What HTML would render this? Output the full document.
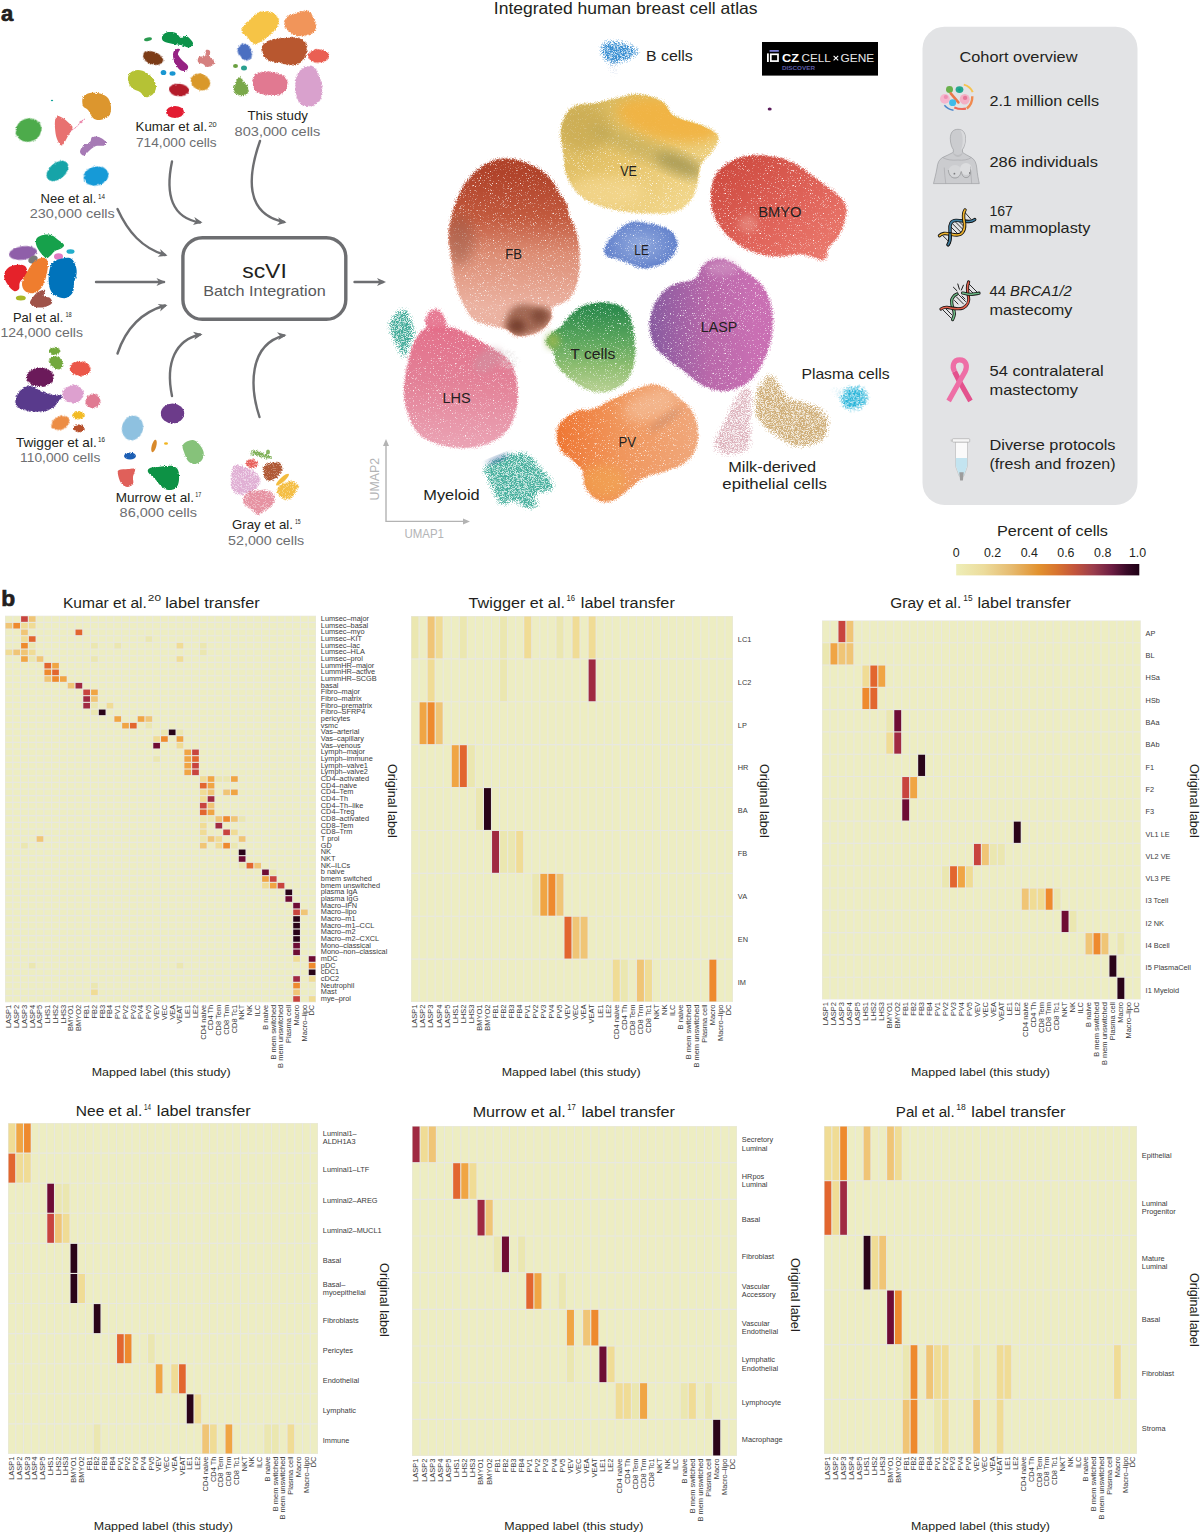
<!DOCTYPE html>
<html><head><meta charset="utf-8"><style>
html,body{margin:0;padding:0;background:#fff;width:1200px;height:1533px;overflow:hidden}
svg{display:block;font-family:"Liberation Sans",sans-serif}
.rl{fill:#3a3a3a}
.cl{fill:#3a3a3a;text-anchor:end}
.ht{font-size:15.2px;fill:#231f20}
.ol{font-size:12.5px;fill:#231f20}
.ml{font-size:11.4px;fill:#231f20}
</style></head>
<body><svg width="1200" height="1533" viewBox="0 0 1200 1533">
<defs>
<linearGradient id="gFB" x1="0" y1="0" x2="0" y2="1">
 <stop offset="0.1" stop-color="#b0432a"/><stop offset="0.35" stop-color="#c25a3e"/><stop offset="0.55" stop-color="#dc8d74"/><stop offset="0.85" stop-color="#ebb2a1"/></linearGradient>
<linearGradient id="gVE" x1="0" y1="0" x2="1" y2="1">
 <stop offset="0" stop-color="#d2b45a"/><stop offset="0.5" stop-color="#e6c46a"/><stop offset="1" stop-color="#f5dc96"/></linearGradient>
<linearGradient id="gBM" x1="0" y1="0" x2="1" y2="1">
 <stop offset="0.1" stop-color="#cd4a3f"/><stop offset="0.6" stop-color="#e0645a"/><stop offset="1" stop-color="#ec7d70"/></linearGradient>
<linearGradient id="gLA" x1="0" y1="0" x2="1" y2="0">
 <stop offset="0.05" stop-color="#8a5ba0"/><stop offset="0.5" stop-color="#b868aa"/><stop offset="0.9" stop-color="#c96fb3"/></linearGradient>
<linearGradient id="gTC" x1="0" y1="0" x2="0" y2="1">
 <stop offset="0.1" stop-color="#2c8a4c"/><stop offset="0.45" stop-color="#5aa55c"/><stop offset="0.75" stop-color="#8dbd70"/><stop offset="1" stop-color="#b4cf90"/></linearGradient>
<linearGradient id="gPV" x1="0" y1="0" x2="1" y2="0">
 <stop offset="0.05" stop-color="#ee7835"/><stop offset="0.45" stop-color="#f0955a"/><stop offset="1" stop-color="#efa77a"/></linearGradient>
<linearGradient id="gLH" x1="0" y1="0" x2="0" y2="1">
 <stop offset="0" stop-color="#e26f8a"/><stop offset="0.5" stop-color="#e38298"/><stop offset="1" stop-color="#eaa2b3"/></linearGradient>
<radialGradient id="gLE" cx="0.5" cy="0.5" r="0.6">
 <stop offset="0" stop-color="#8ea6dc"/><stop offset="1" stop-color="#5576c6"/></radialGradient>
<filter id="rough" x="-20%" y="-20%" width="140%" height="140%">
 <feTurbulence type="fractalNoise" baseFrequency="0.9" numOctaves="2" seed="3" result="n"/>
 <feDisplacementMap in="SourceGraphic" in2="n" scale="2.5" xChannelSelector="R" yChannelSelector="G"/>
</filter>
<filter id="roughB" x="-20%" y="-20%" width="140%" height="140%">
 <feTurbulence type="fractalNoise" baseFrequency="0.7" numOctaves="2" seed="5" result="n"/>
 <feDisplacementMap in="SourceGraphic" in2="n" scale="5" xChannelSelector="R" yChannelSelector="G" result="d"/>
 <feGaussianBlur in="d" stdDeviation="0.9"/>
</filter>
<filter id="spk" x="-15%" y="-15%" width="130%" height="130%" color-interpolation-filters="sRGB">
 <feMorphology in="SourceGraphic" operator="dilate" radius="3" result="dil"/>
 <feGaussianBlur in="SourceAlpha" stdDeviation="2.6" result="ba"/>
 <feTurbulence type="fractalNoise" baseFrequency="1.3" numOctaves="1" seed="4" result="n"/>
 <feColorMatrix in="n" type="matrix" values="0 0 0 0 0  0 0 0 0 0  0 0 0 0 0  3 0 0 0 -1" result="na"/>
 <feComposite in="ba" in2="na" operator="arithmetic" k2="2.6" k3="-0.9" k4="0" result="m"/>
 <feComposite in="dil" in2="m" operator="in" result="res"/>
 <feTurbulence type="fractalNoise" baseFrequency="1.6" numOctaves="1" seed="21" result="n2"/>
 <feColorMatrix in="n2" type="matrix" values="0 0 0 0 1  0 0 0 0 1  0 0 0 0 1  -5 0 0 0 1.95" result="wn"/>
 <feComposite in="wn" in2="res" operator="atop"/>
</filter>
<filter id="spk2" x="-15%" y="-15%" width="130%" height="130%" color-interpolation-filters="sRGB">
 <feMorphology in="SourceGraphic" operator="dilate" radius="2" result="dil"/>
 <feGaussianBlur in="SourceAlpha" stdDeviation="2" result="ba"/>
 <feTurbulence type="fractalNoise" baseFrequency="1.6" numOctaves="1" seed="7" result="n"/>
 <feColorMatrix in="n" type="matrix" values="0 0 0 0 0  0 0 0 0 0  0 0 0 0 0  3 0 0 0 -1" result="na"/>
 <feComposite in="ba" in2="na" operator="arithmetic" k2="1.8" k3="-1.0" k4="0" result="m"/>
 <feComposite in="dil" in2="m" operator="in"/>
</filter>
<filter id="spk3" x="-15%" y="-15%" width="130%" height="130%" color-interpolation-filters="sRGB">
 <feMorphology in="SourceGraphic" operator="dilate" radius="2" result="dil"/>
 <feGaussianBlur in="SourceAlpha" stdDeviation="2.5" result="ba"/>
 <feTurbulence type="fractalNoise" baseFrequency="1.8" numOctaves="1" seed="9" result="n"/>
 <feColorMatrix in="n" type="matrix" values="0 0 0 0 0  0 0 0 0 0  0 0 0 0 0  4 0 0 0 -1.5" result="na"/>
 <feComposite in="ba" in2="na" operator="arithmetic" k2="1.25" k3="-1.0" k4="0" result="m"/>
 <feComposite in="dil" in2="m" operator="in"/>
</filter>
<filter id="spkS" x="-20%" y="-20%" width="140%" height="140%" color-interpolation-filters="sRGB">
 <feMorphology in="SourceGraphic" operator="dilate" radius="1" result="dil"/>
 <feGaussianBlur in="SourceAlpha" stdDeviation="1.2" result="ba"/>
 <feTurbulence type="fractalNoise" baseFrequency="1.9" numOctaves="1" seed="11" result="n"/>
 <feColorMatrix in="n" type="matrix" values="0 0 0 0 0  0 0 0 0 0  0 0 0 0 0  4 0 0 0 -1.5" result="na"/>
 <feComposite in="ba" in2="na" operator="arithmetic" k2="2.4" k3="-1.0" k4="0" result="m"/>
 <feComposite in="dil" in2="m" operator="in"/>
</filter>
<filter id="spkG" x="-20%" y="-20%" width="140%" height="140%" color-interpolation-filters="sRGB">
 <feMorphology in="SourceGraphic" operator="dilate" radius="1" result="dil"/>
 <feGaussianBlur in="SourceAlpha" stdDeviation="1.2" result="ba"/>
 <feTurbulence type="fractalNoise" baseFrequency="1.9" numOctaves="1" seed="13" result="n"/>
 <feColorMatrix in="n" type="matrix" values="0 0 0 0 0  0 0 0 0 0  0 0 0 0 0  4 0 0 0 -1.5" result="na"/>
 <feComposite in="ba" in2="na" operator="arithmetic" k2="1.9" k3="-1.0" k4="0" result="m"/>
 <feComposite in="dil" in2="m" operator="in"/>
</filter>
<filter id="soft" x="-30%" y="-30%" width="160%" height="160%"><feGaussianBlur stdDeviation="6"/></filter>
<filter id="soft3" x="-30%" y="-30%" width="160%" height="160%"><feGaussianBlur stdDeviation="3"/></filter>
<linearGradient id="gCB" x1="0" y1="0" x2="1" y2="0">
 <stop offset="0" stop-color="#eeeeb8"/><stop offset="0.15" stop-color="#ecdc9c"/><stop offset="0.3" stop-color="#e6bb70"/><stop offset="0.45" stop-color="#e2922f"/><stop offset="0.55" stop-color="#d8742f"/><stop offset="0.65" stop-color="#c2543c"/><stop offset="0.75" stop-color="#9a3d4c"/><stop offset="0.85" stop-color="#6c1d42"/><stop offset="0.93" stop-color="#3a0a28"/><stop offset="1" stop-color="#1e0014"/></linearGradient>
<clipPath id="cVE"><path d="M572.5,108.0 C578.3,104.0 589.1,105.2 596.3,103.7 C603.5,102.2 608.9,100.8 615.8,99.3 C622.7,97.8 629.9,94.6 637.5,95.0 C645.1,95.4 655.2,97.9 661.3,101.5 C667.4,105.1 667.8,112.7 674.3,116.7 C680.8,120.7 693.1,122.0 700.3,125.3 C707.5,128.5 715.9,131.9 717.7,136.2 C719.5,140.5 714.1,146.6 711.2,151.3 C708.3,156.0 702.8,158.5 700.3,164.3 C697.8,170.1 698.2,179.5 696.0,186.0 C693.8,192.5 691.6,199.0 687.3,203.3 C683.0,207.6 678.3,210.6 670.0,212.0 C661.7,213.4 647.6,212.7 637.5,212.0 C627.4,211.3 618.3,210.2 609.3,207.7 C600.3,205.2 590.1,201.9 583.3,196.8 C576.4,191.7 571.5,184.9 568.2,177.3 C565.0,169.7 564.9,159.6 563.8,151.3 C562.7,143.0 560.2,134.7 561.7,127.5 C563.2,120.3 566.7,112.0 572.5,108.0Z"/></clipPath><clipPath id="cFB"><path d="M510.0,159.5 C516.5,160.2 525.2,162.9 531.7,166.0 C538.2,169.1 544.7,173.7 549.0,178.0 C553.3,182.3 554.8,187.5 557.7,192.0 C560.6,196.5 564.5,201.0 566.3,205.0 C568.1,209.0 567.0,211.5 568.5,215.8 C570.0,220.1 573.4,225.6 575.0,231.0 C576.6,236.4 577.8,241.8 578.3,248.3 C578.8,254.8 578.8,263.5 578.3,270.0 C577.8,276.5 577.0,282.2 575.0,287.3 C573.0,292.4 570.3,297.1 566.3,300.3 C562.3,303.6 553.7,303.9 551.2,306.8 C548.7,309.7 553.0,313.7 551.2,317.7 C549.4,321.7 545.7,327.6 540.3,330.7 C534.9,333.8 524.5,336.4 518.7,336.0 C512.9,335.6 510.0,330.3 505.7,328.5 C501.4,326.7 497.8,326.8 492.7,325.3 C487.6,323.9 480.0,323.2 475.3,319.8 C470.6,316.4 467.8,310.8 464.5,304.7 C461.2,298.6 457.8,290.2 455.8,283.0 C453.8,275.8 453.7,269.2 452.6,261.3 C451.5,253.4 449.1,243.6 449.3,235.3 C449.5,227.0 451.5,219.1 453.7,211.5 C455.9,203.9 458.7,196.3 462.3,189.8 C465.9,183.3 470.2,177.2 475.3,172.5 C480.4,167.8 486.9,163.9 492.7,161.7 C498.5,159.5 503.5,158.8 510.0,159.5Z"/></clipPath><clipPath id="cPV"><path d="M557.3,431.2 C557.8,426.5 560.5,423.6 563.8,420.3 C567.0,417.1 571.7,413.5 576.8,411.7 C581.9,409.9 588.4,411.3 594.2,409.5 C600.0,407.7 605.4,403.7 611.5,400.8 C617.6,397.9 624.9,394.7 631.0,392.2 C637.1,389.7 643.2,386.6 648.3,385.7 C653.3,384.8 656.2,384.6 661.3,386.8 C666.4,389.0 673.6,394.6 678.7,398.7 C683.8,402.8 688.6,406.3 691.7,411.7 C694.8,417.1 696.6,425.1 697.1,431.2 C697.6,437.3 697.0,443.4 695.0,448.5 C693.0,453.6 690.1,457.9 685.2,461.5 C680.3,465.1 672.6,467.7 665.7,470.2 C658.8,472.7 650.5,473.4 644.0,476.7 C637.5,479.9 632.1,485.7 626.7,489.7 C621.3,493.7 616.6,499.1 611.5,500.5 C606.4,501.9 600.6,500.9 596.3,498.4 C592.0,495.9 587.7,490.1 585.5,485.4 C583.3,480.7 585.5,474.5 583.3,470.2 C581.1,465.9 576.3,462.9 572.5,459.3 C568.7,455.7 563.1,453.2 560.6,448.5 C558.1,443.8 556.8,435.9 557.3,431.2Z"/></clipPath></defs>
<text x="1" y="20.7" font-size="22" font-weight="bold" fill="#231f20" stroke="#231f20" stroke-width="0.7">a</text>
<ellipse cx="28.5" cy="130.0" rx="13.0" ry="11.5" fill="#4dab4c" transform="rotate(-20.0 28.5 130.0)" filter="url(#rough)"/>
<path d="M56.0,117.0 C57.2,115.2 59.7,116.3 62.0,117.5 C64.3,118.7 68.2,122.2 70.0,124.0 C71.8,125.8 72.8,126.0 72.5,128.0 C72.2,130.0 69.8,133.1 68.0,136.0 C66.2,138.9 63.8,145.0 62.0,145.5 C60.2,146.0 58.2,141.9 57.0,139.0 C55.8,136.1 55.2,131.7 55.0,128.0 C54.8,124.3 54.8,118.8 56.0,117.0Z" fill="#e8716f" filter="url(#rough)"/>
<path d="M83.0,97.0 C84.2,94.8 87.2,93.6 90.0,93.0 C92.8,92.4 97.0,92.7 100.0,93.5 C103.0,94.3 106.2,95.8 108.0,98.0 C109.8,100.2 110.8,104.0 111.0,107.0 C111.2,110.0 110.8,113.8 109.0,116.0 C107.2,118.2 102.7,119.7 100.0,120.0 C97.3,120.3 95.0,119.7 93.0,118.0 C91.0,116.3 89.7,112.0 88.0,110.0 C86.3,108.0 83.8,108.2 83.0,106.0 C82.2,103.8 81.8,99.2 83.0,97.0Z" fill="#dc962e" filter="url(#rough)"/>
<path d="M92.0,137.0 C93.5,136.2 96.7,136.2 99.0,137.0 C101.3,137.8 105.2,140.6 106.0,142.0 C106.8,143.4 105.7,144.8 104.0,145.5 C102.3,146.2 98.3,145.2 96.0,146.0 C93.7,146.8 92.0,148.4 90.0,150.0 C88.0,151.6 85.7,155.2 84.0,155.5 C82.3,155.8 80.2,153.6 80.0,152.0 C79.8,150.4 81.3,147.7 83.0,146.0 C84.7,144.3 88.5,143.5 90.0,142.0 C91.5,140.5 90.5,137.8 92.0,137.0Z" fill="#a67ab5" filter="url(#rough)"/>
<ellipse cx="57.5" cy="171.0" rx="12.5" ry="8.0" fill="#12a4a8" transform="rotate(-40.0 57.5 171.0)" filter="url(#rough)"/>
<ellipse cx="96.0" cy="176.0" rx="12.5" ry="9.5" fill="#189ad7" transform="rotate(-12.0 96.0 176.0)" filter="url(#rough)"/>
<ellipse cx="52.0" cy="100.5" rx="1.2" ry="0.8" fill="#12a49a" />
<path d="M70,131 C74,129 77,127 79,124 C81,121 83,120 85,119" fill="none" stroke="#e8709a" stroke-width="1" stroke-dasharray="1.2 0.8"/>
<ellipse cx="81.0" cy="122.0" rx="1.6" ry="1.2" fill="#e878a0" fill-opacity="0.80" />
<path d="M163.0,35.0 C164.0,33.8 165.8,32.3 168.0,32.0 C170.2,31.7 173.8,32.0 176.0,33.0 C178.2,34.0 179.3,37.5 181.0,38.0 C182.7,38.5 184.3,35.7 186.0,36.0 C187.7,36.3 189.8,38.7 191.0,40.0 C192.2,41.3 193.3,42.8 193.0,44.0 C192.7,45.2 191.0,47.3 189.0,47.5 C187.0,47.7 183.7,45.6 181.0,45.0 C178.3,44.4 175.7,44.5 173.0,44.0 C170.3,43.5 166.8,42.8 165.0,42.0 C163.2,41.2 162.3,40.2 162.0,39.0 C161.7,37.8 162.0,36.2 163.0,35.0Z" fill="#079248" filter="url(#rough)"/>
<ellipse cx="148.0" cy="39.2" rx="4.0" ry="1.8" fill="#2a9a50" transform="rotate(-10.0 148.0 39.2)" />
<ellipse cx="153.0" cy="58.0" rx="10.5" ry="6.3" fill="#7b3a17" transform="rotate(20.0 153.0 58.0)" filter="url(#rough)"/>
<path d="M177.0,49.0 C178.0,48.8 179.8,48.7 180.0,49.5 C180.2,50.3 177.7,52.2 178.0,54.0 C178.3,55.8 180.3,58.0 182.0,60.0 C183.7,62.0 187.3,64.2 188.0,66.0 C188.7,67.8 187.3,69.8 186.0,70.5 C184.7,71.2 181.8,71.2 180.0,70.0 C178.2,68.8 176.2,65.3 175.0,63.0 C173.8,60.7 173.2,58.0 173.0,56.0 C172.8,54.0 173.3,52.2 174.0,51.0 C174.7,49.8 176.0,49.2 177.0,49.0Z" fill="#962283" filter="url(#rough)"/>
<path d="M206.0,50.0 C206.8,49.2 209.3,49.8 210.0,51.0 C210.7,52.2 209.3,55.3 210.0,57.0 C210.7,58.7 213.5,59.7 214.0,61.0 C214.5,62.3 214.2,64.0 213.0,65.0 C211.8,66.0 208.7,67.2 207.0,67.0 C205.3,66.8 204.5,64.8 203.0,64.0 C201.5,63.2 198.7,63.2 198.0,62.0 C197.3,60.8 197.8,58.0 199.0,57.0 C200.2,56.0 203.8,57.2 205.0,56.0 C206.2,54.8 205.2,50.8 206.0,50.0Z" fill="#d5807f" filter="url(#rough)"/>
<ellipse cx="163.5" cy="72.5" rx="2.8" ry="2.6" fill="#1996d1" />
<ellipse cx="172.5" cy="73.5" rx="3.0" ry="2.2" fill="#1996d1" />
<path d="M130.0,73.0 C131.7,71.3 135.2,70.0 138.0,70.0 C140.8,70.0 144.3,71.3 147.0,73.0 C149.7,74.7 152.5,77.5 154.0,80.0 C155.5,82.5 156.3,85.5 156.0,88.0 C155.7,90.5 153.8,93.5 152.0,95.0 C150.2,96.5 147.0,97.5 145.0,97.0 C143.0,96.5 142.2,93.5 140.0,92.0 C137.8,90.5 134.0,90.0 132.0,88.0 C130.0,86.0 128.3,82.5 128.0,80.0 C127.7,77.5 128.3,74.7 130.0,73.0Z" fill="#b5c234" filter="url(#rough)"/>
<ellipse cx="179.0" cy="90.0" rx="10.0" ry="6.3" fill="#b41b2c" transform="rotate(5.0 179.0 90.0)" filter="url(#rough)"/>
<ellipse cx="200.5" cy="82.0" rx="10.0" ry="8.0" fill="#d9982a" transform="rotate(25.0 200.5 82.0)" filter="url(#rough)"/>
<ellipse cx="175.0" cy="112.0" rx="9.0" ry="6.0" fill="#e31f33" filter="url(#rough)"/>
<path d="M249.0,21.0 C251.3,18.8 254.8,14.5 258.0,13.0 C261.2,11.5 265.0,11.7 268.0,12.0 C271.0,12.3 274.2,13.3 276.0,15.0 C277.8,16.7 279.3,19.3 279.0,22.0 C278.7,24.7 276.5,28.2 274.0,31.0 C271.5,33.8 267.2,36.8 264.0,39.0 C260.8,41.2 257.3,43.8 255.0,44.0 C252.7,44.2 252.2,42.2 250.0,40.0 C247.8,37.8 243.0,33.3 242.0,31.0 C241.0,28.7 242.8,27.7 244.0,26.0 C245.2,24.3 246.7,23.2 249.0,21.0Z" fill="#f6c446" filter="url(#spkS)"/>
<path d="M287.0,17.0 C289.0,14.8 293.5,14.0 297.0,13.0 C300.5,12.0 305.3,10.3 308.0,11.0 C310.7,11.7 311.7,14.2 313.0,17.0 C314.3,19.8 316.3,25.2 316.0,28.0 C315.7,30.8 313.7,32.7 311.0,34.0 C308.3,35.3 303.3,36.2 300.0,36.0 C296.7,35.8 293.5,34.7 291.0,33.0 C288.5,31.3 285.7,28.7 285.0,26.0 C284.3,23.3 285.0,19.2 287.0,17.0Z" fill="#f1955a" filter="url(#spkS)"/>
<path d="M263.0,45.0 C264.5,42.7 268.3,41.2 272.0,40.0 C275.7,38.8 280.8,38.3 285.0,38.0 C289.2,37.7 293.7,37.3 297.0,38.0 C300.3,38.7 303.3,39.8 305.0,42.0 C306.7,44.2 307.3,48.0 307.0,51.0 C306.7,54.0 305.2,57.7 303.0,60.0 C300.8,62.3 297.5,64.5 294.0,65.0 C290.5,65.5 286.0,63.7 282.0,63.0 C278.0,62.3 273.2,62.5 270.0,61.0 C266.8,59.5 264.2,56.7 263.0,54.0 C261.8,51.3 261.5,47.3 263.0,45.0Z" fill="#b8572f" filter="url(#spkS)"/>
<ellipse cx="245.0" cy="52.0" rx="6.5" ry="8.5" fill="#4b6fc1" transform="rotate(-30.0 245.0 52.0)" filter="url(#spkS)"/>
<ellipse cx="318.5" cy="56.0" rx="10.5" ry="6.5" fill="#ea5f53" filter="url(#spkS)"/>
<ellipse cx="235.5" cy="66.0" rx="2.5" ry="2.0" fill="#6aa040" />
<ellipse cx="244.0" cy="68.0" rx="3.0" ry="2.5" fill="#2aa090" />
<path d="M238.0,78.0 C238.8,77.0 240.3,76.5 241.0,77.0 C241.7,77.5 241.0,79.7 242.0,81.0 C243.0,82.3 246.0,83.2 247.0,85.0 C248.0,86.8 248.7,90.2 248.0,92.0 C247.3,93.8 245.0,95.2 243.0,95.5 C241.0,95.8 237.6,95.2 236.0,94.0 C234.4,92.8 233.6,89.8 233.6,88.0 C233.6,86.2 235.3,84.7 236.0,83.0 C236.7,81.3 237.2,79.0 238.0,78.0Z" fill="#7aa84a" filter="url(#spkS)"/>
<path d="M255.0,75.0 C257.0,73.0 261.5,72.3 265.0,72.0 C268.5,71.7 272.5,72.0 276.0,73.0 C279.5,74.0 284.2,75.7 286.0,78.0 C287.8,80.3 287.8,84.3 287.0,87.0 C286.2,89.7 284.2,92.7 281.0,94.0 C277.8,95.3 272.0,95.3 268.0,95.0 C264.0,94.7 259.5,93.8 257.0,92.0 C254.5,90.2 253.3,86.8 253.0,84.0 C252.7,81.2 253.0,77.0 255.0,75.0Z" fill="#e17991" filter="url(#spkS)"/>
<path d="M303.0,68.0 C305.8,66.0 310.3,65.7 313.0,67.0 C315.7,68.3 317.5,72.5 319.0,76.0 C320.5,79.5 321.8,84.0 322.0,88.0 C322.2,92.0 321.8,97.0 320.0,100.0 C318.2,103.0 314.2,105.3 311.0,106.0 C307.8,106.7 303.5,106.2 301.0,104.0 C298.5,101.8 296.8,97.2 296.0,93.0 C295.2,88.8 294.8,83.2 296.0,79.0 C297.2,74.8 300.2,70.0 303.0,68.0Z" fill="#d9a1cd" filter="url(#spkS)"/>
<path d="M37.0,238.0 C38.2,236.5 40.7,235.5 43.0,235.0 C45.3,234.5 48.7,234.3 51.0,235.0 C53.3,235.7 54.8,237.3 57.0,239.0 C59.2,240.7 63.5,243.3 64.0,245.0 C64.5,246.7 61.5,248.0 60.0,249.0 C58.5,250.0 56.7,249.8 55.0,251.0 C53.3,252.2 51.5,254.8 50.0,256.0 C48.5,257.2 47.7,258.7 46.0,258.0 C44.3,257.3 41.7,254.3 40.0,252.0 C38.3,249.7 36.5,246.3 36.0,244.0 C35.5,241.7 35.8,239.5 37.0,238.0Z" fill="#13a14c" filter="url(#rough)"/>
<ellipse cx="23.0" cy="253.0" rx="14.0" ry="6.8" fill="#8f5fa9" transform="rotate(-8.0 23.0 253.0)" filter="url(#rough)"/>
<ellipse cx="33.0" cy="259.5" rx="5.0" ry="3.5" fill="#7a7a7a" transform="rotate(-30.0 33.0 259.5)" />
<ellipse cx="58.5" cy="256.5" rx="4.5" ry="3.3" fill="#e17ac2" />
<ellipse cx="70.5" cy="251.5" rx="4.0" ry="2.3" fill="#22aecb" />
<path d="M8.0,268.0 C10.0,266.2 13.2,265.3 16.0,265.0 C18.8,264.7 23.2,264.5 25.0,266.0 C26.8,267.5 27.8,271.3 27.0,274.0 C26.2,276.7 21.3,279.5 20.0,282.0 C18.7,284.5 20.0,287.5 19.0,289.0 C18.0,290.5 15.8,291.7 14.0,291.0 C12.2,290.3 9.7,287.5 8.0,285.0 C6.3,282.5 4.0,278.8 4.0,276.0 C4.0,273.2 6.0,269.8 8.0,268.0Z" fill="#e5212b" filter="url(#rough)"/>
<path d="M38.0,259.0 C40.2,258.0 43.3,257.2 45.0,258.0 C46.7,258.8 47.8,260.8 48.0,264.0 C48.2,267.2 47.0,273.2 46.0,277.0 C45.0,280.8 44.0,284.3 42.0,287.0 C40.0,289.7 36.8,292.3 34.0,293.0 C31.2,293.7 27.0,292.7 25.0,291.0 C23.0,289.3 21.7,286.2 22.0,283.0 C22.3,279.8 25.3,275.2 27.0,272.0 C28.7,268.8 30.2,266.2 32.0,264.0 C33.8,261.8 35.8,260.0 38.0,259.0Z" fill="#ef7d2f" filter="url(#rough)"/>
<path d="M52.0,263.0 C53.9,260.2 57.0,259.8 60.0,259.0 C63.0,258.2 67.5,257.2 70.0,258.0 C72.5,258.8 73.9,261.5 75.0,264.0 C76.1,266.5 76.9,269.8 76.7,273.0 C76.5,276.2 74.6,279.8 74.0,283.0 C73.4,286.2 74.3,289.5 73.0,292.0 C71.7,294.5 68.8,297.3 66.0,298.0 C63.2,298.7 58.7,297.5 56.0,296.0 C53.3,294.5 51.2,292.3 50.0,289.0 C48.8,285.7 48.4,280.3 48.7,276.0 C49.0,271.7 50.1,265.8 52.0,263.0Z" fill="#0673bb" filter="url(#rough)"/>
<ellipse cx="20.8" cy="298.0" rx="5.0" ry="2.5" fill="#a9b828" />
<path d="M38.0,292.0 C40.0,290.8 44.0,289.3 45.0,290.0 C46.0,290.7 43.2,294.7 44.0,296.0 C44.8,297.3 48.7,296.8 50.0,298.0 C51.3,299.2 52.8,301.5 52.0,303.0 C51.2,304.5 47.8,306.3 45.0,307.0 C42.2,307.7 37.5,307.7 35.0,307.0 C32.5,306.3 30.3,304.7 30.0,303.0 C29.7,301.3 31.7,298.8 33.0,297.0 C34.3,295.2 36.0,293.2 38.0,292.0Z" fill="#a0524a" filter="url(#rough)"/>
<ellipse cx="54.5" cy="351.0" rx="5.5" ry="3.6" fill="#72a83c" filter="url(#spkS)"/>
<path d="M50.0,358.0 C51.0,356.9 54.3,356.5 56.0,356.5 C57.7,356.5 58.9,356.8 60.0,358.0 C61.1,359.2 62.7,362.2 62.7,364.0 C62.7,365.8 61.5,368.3 60.0,369.0 C58.5,369.7 55.7,369.0 54.0,368.0 C52.3,367.0 50.7,364.7 50.0,363.0 C49.3,361.3 49.0,359.1 50.0,358.0Z" fill="#72a83c" filter="url(#spkS)"/>
<ellipse cx="80.3" cy="368.7" rx="10.3" ry="7.3" fill="#eb5749" filter="url(#spkS)"/>
<ellipse cx="40.0" cy="377.0" rx="13.5" ry="9.3" fill="#6b1a5a" filter="url(#spkS)"/>
<path d="M22.0,389.0 C24.3,387.0 27.5,386.0 30.0,386.0 C32.5,386.0 34.5,387.8 37.0,389.0 C39.5,390.2 42.0,392.0 45.0,393.0 C48.0,394.0 52.0,394.5 55.0,395.0 C58.0,395.5 62.5,395.0 63.0,396.0 C63.5,397.0 59.3,399.3 58.0,401.0 C56.7,402.7 57.2,404.3 55.0,406.0 C52.8,407.7 49.2,410.2 45.0,411.0 C40.8,411.8 34.5,411.7 30.0,411.0 C25.5,410.3 20.3,409.2 18.0,407.0 C15.7,404.8 15.3,401.0 16.0,398.0 C16.7,395.0 19.7,391.0 22.0,389.0Z" fill="#593a8c" filter="url(#spkS)"/>
<ellipse cx="73.0" cy="394.0" rx="10.5" ry="9.0" fill="#dda0cf" filter="url(#spkS)"/>
<ellipse cx="93.0" cy="401.0" rx="7.3" ry="7.0" fill="#e07a92" filter="url(#spkS)"/>
<ellipse cx="78.5" cy="415.3" rx="5.7" ry="3.8" fill="#f2bb24" filter="url(#spkS)"/>
<ellipse cx="60.5" cy="423.0" rx="9.5" ry="6.5" fill="#ec8d45" transform="rotate(-25.0 60.5 423.0)" filter="url(#spkS)"/>
<ellipse cx="78.8" cy="428.3" rx="5.5" ry="3.5" fill="#b74f2b" filter="url(#spkS)"/>
<ellipse cx="172.5" cy="413.5" rx="11.7" ry="10.0" fill="#6c3a8a" filter="url(#rough)"/>
<ellipse cx="132.5" cy="428.0" rx="10.5" ry="12.5" fill="#8ec1e0" transform="rotate(15.0 132.5 428.0)" filter="url(#rough)"/>
<ellipse cx="154.0" cy="446.0" rx="2.3" ry="6.5" fill="#d8892a" transform="rotate(15.0 154.0 446.0)" />
<ellipse cx="166.0" cy="443.5" rx="2.0" ry="1.2" fill="#f2b520" />
<ellipse cx="130.0" cy="456.0" rx="6.0" ry="3.5" fill="#1f5fb4" filter="url(#rough)"/>
<path d="M186.0,442.0 C187.7,441.0 190.8,439.7 193.0,440.0 C195.2,440.3 197.2,442.0 199.0,444.0 C200.8,446.0 203.1,449.3 203.6,452.0 C204.1,454.7 203.4,458.0 202.0,460.0 C200.6,462.0 197.3,463.8 195.0,464.0 C192.7,464.2 189.8,463.0 188.0,461.0 C186.2,459.0 184.9,454.5 184.0,452.0 C183.1,449.5 182.3,447.7 182.6,446.0 C182.9,444.3 184.3,443.0 186.0,442.0Z" fill="#86c27a" filter="url(#rough)"/>
<path d="M119.0,470.0 C120.7,469.2 125.3,469.2 128.0,469.0 C130.7,468.8 134.2,467.7 135.0,469.0 C135.8,470.3 133.3,474.5 133.0,477.0 C132.7,479.5 134.0,482.3 133.0,484.0 C132.0,485.7 129.0,487.2 127.0,487.0 C125.0,486.8 122.5,485.2 121.0,483.0 C119.5,480.8 118.2,476.2 117.9,474.0 C117.6,471.8 117.3,470.8 119.0,470.0Z" fill="#e0605a" filter="url(#rough)"/>
<path d="M150.0,468.0 C151.7,467.2 155.5,467.3 158.0,467.0 C160.5,466.7 162.5,466.2 165.0,466.0 C167.5,465.8 170.8,465.3 173.0,466.0 C175.2,466.7 177.0,467.7 178.0,470.0 C179.0,472.3 179.3,477.0 179.0,480.0 C178.7,483.0 177.8,486.3 176.0,488.0 C174.2,489.7 170.5,490.3 168.0,490.0 C165.5,489.7 163.2,487.8 161.0,486.0 C158.8,484.2 157.2,481.3 155.0,479.0 C152.8,476.7 148.8,473.8 148.0,472.0 C147.2,470.2 148.3,468.8 150.0,468.0Z" fill="#0e9245" filter="url(#rough)"/>
<path d="M250.0,452.0 C250.8,451.2 253.8,449.8 256.0,450.0 C258.2,450.2 260.7,452.2 263.0,453.0 C265.3,453.8 268.4,454.2 270.0,455.0 C271.6,455.8 273.4,457.3 272.7,458.0 C272.0,458.7 268.4,459.3 266.0,459.0 C263.6,458.7 260.5,456.7 258.0,456.0 C255.5,455.3 252.3,455.7 251.0,455.0 C249.7,454.3 249.2,452.8 250.0,452.0Z" fill="#6aa33c" fill-opacity="0.85" filter="url(#spkG)"/>
<ellipse cx="268.0" cy="452.0" rx="2.0" ry="2.5" fill="#6aa33c" fill-opacity="0.80" />
<ellipse cx="252.0" cy="463.7" rx="6.3" ry="4.7" fill="#e5504a" fill-opacity="0.90" filter="url(#spkG)"/>
<path d="M264.0,465.0 C265.1,463.0 267.7,463.5 270.0,463.0 C272.3,462.5 275.9,461.3 278.0,462.0 C280.1,462.7 282.5,465.0 282.8,467.0 C283.1,469.0 281.1,472.0 280.0,474.0 C278.9,476.0 278.0,477.9 276.0,479.0 C274.0,480.1 270.1,481.4 268.0,480.7 C265.9,480.0 264.3,477.6 263.6,475.0 C262.9,472.4 262.9,467.0 264.0,465.0Z" fill="#a84b25" fill-opacity="0.92" filter="url(#spkG)"/>
<path d="M233.0,466.0 C234.5,463.8 237.5,464.7 240.0,465.0 C242.5,465.3 245.5,466.8 248.0,468.0 C250.5,469.2 252.9,470.2 255.0,472.0 C257.1,473.8 260.0,476.5 260.5,479.0 C261.0,481.5 259.8,484.7 258.0,487.0 C256.2,489.3 253.0,491.7 250.0,493.0 C247.0,494.3 243.0,495.2 240.0,494.7 C237.0,494.2 233.5,492.8 232.0,490.0 C230.5,487.2 230.8,482.0 231.0,478.0 C231.2,474.0 231.5,468.2 233.0,466.0Z" fill="#d89bc9" fill-opacity="0.80" filter="url(#spkG)"/>
<ellipse cx="282.5" cy="479.6" rx="8.5" ry="2.3" fill="#f2b52a" fill-opacity="0.90" transform="rotate(-42.0 282.5 479.6)" />
<path d="M278.0,487.0 C279.3,485.2 282.7,483.0 285.0,482.0 C287.3,481.0 289.8,480.5 292.0,481.0 C294.2,481.5 297.8,483.2 298.5,485.0 C299.2,486.8 297.4,489.6 296.0,492.0 C294.6,494.4 292.3,498.5 290.0,499.5 C287.7,500.5 284.2,499.1 282.0,498.0 C279.8,496.9 277.7,494.8 277.0,493.0 C276.3,491.2 276.7,488.8 278.0,487.0Z" fill="#f2b52a" fill-opacity="0.88" filter="url(#spkG)"/>
<path d="M243.0,497.0 C243.8,494.7 247.2,492.2 250.0,491.0 C252.8,489.8 256.7,490.0 260.0,490.0 C263.3,490.0 267.5,489.8 270.0,491.0 C272.5,492.2 274.5,494.7 275.0,497.0 C275.5,499.3 274.7,502.7 273.0,505.0 C271.3,507.3 267.5,509.3 265.0,511.0 C262.5,512.7 260.2,515.2 258.0,515.0 C255.8,514.8 254.2,511.7 252.0,510.0 C249.8,508.3 246.5,507.2 245.0,505.0 C243.5,502.8 242.2,499.3 243.0,497.0Z" fill="#e27f92" fill-opacity="0.85" filter="url(#spkG)"/>
<text x="40.6" y="203.0" font-size="12.8" fill="#231f20" textLength="55.8" lengthAdjust="spacingAndGlyphs" >Nee et al.</text>
<text x="98.0" y="198.6" font-size="7.5" fill="#231f20" textLength="7.0" lengthAdjust="spacingAndGlyphs" >14</text>
<text x="29.8" y="218.1" font-size="12.8" fill="#6d6e71" textLength="85.0" lengthAdjust="spacingAndGlyphs" >230,000 cells</text>
<text x="135.6" y="131.3" font-size="12.8" fill="#231f20" textLength="71.5" lengthAdjust="spacingAndGlyphs" >Kumar et al.</text>
<text x="208.5" y="126.9" font-size="7.5" fill="#231f20" textLength="8.2" lengthAdjust="spacingAndGlyphs" >20</text>
<text x="136.0" y="146.9" font-size="12.8" fill="#6d6e71" textLength="80.7" lengthAdjust="spacingAndGlyphs" >714,000 cells</text>
<text x="247.5" y="120.0" font-size="12.8" fill="#231f20" textLength="60.4" lengthAdjust="spacingAndGlyphs" >This study</text>
<text x="234.6" y="135.8" font-size="12.8" fill="#6d6e71" textLength="85.8" lengthAdjust="spacingAndGlyphs" >803,000 cells</text>
<text x="12.9" y="321.7" font-size="12.8" fill="#231f20" textLength="50.4" lengthAdjust="spacingAndGlyphs" >Pal et al.</text>
<text x="65.4" y="317.4" font-size="7.5" fill="#231f20" textLength="6.3" lengthAdjust="spacingAndGlyphs" >18</text>
<text x="0.4" y="336.7" font-size="12.8" fill="#6d6e71" textLength="82.6" lengthAdjust="spacingAndGlyphs" >124,000 cells</text>
<text x="16.0" y="446.8" font-size="12.8" fill="#231f20" textLength="80.7" lengthAdjust="spacingAndGlyphs" >Twigger et al.</text>
<text x="98.0" y="442.4" font-size="7.5" fill="#231f20" textLength="7.0" lengthAdjust="spacingAndGlyphs" >16</text>
<text x="20.1" y="462.4" font-size="12.8" fill="#6d6e71" textLength="80.2" lengthAdjust="spacingAndGlyphs" >110,000 cells</text>
<text x="115.7" y="501.7" font-size="12.8" fill="#231f20" textLength="78.3" lengthAdjust="spacingAndGlyphs" >Murrow et al.</text>
<text x="195.3" y="497.3" font-size="7.5" fill="#231f20" textLength="6.1" lengthAdjust="spacingAndGlyphs" >17</text>
<text x="119.6" y="516.6" font-size="12.8" fill="#6d6e71" textLength="77.4" lengthAdjust="spacingAndGlyphs" >86,000 cells</text>
<text x="232.0" y="528.8" font-size="12.8" fill="#231f20" textLength="60.9" lengthAdjust="spacingAndGlyphs" >Gray et al.</text>
<text x="295.0" y="524.4" font-size="7.5" fill="#231f20" textLength="5.7" lengthAdjust="spacingAndGlyphs" >15</text>
<text x="228.1" y="544.5" font-size="12.8" fill="#6d6e71" textLength="76.1" lengthAdjust="spacingAndGlyphs" >52,000 cells</text>
<path d="M172,161.5 C165,195 172,218 200,222.5" fill="none" stroke="#6d6e71" stroke-width="2.4" stroke-linecap="round"/>
<path d="M0,0 L-9,-4 L-6.5,0 L-9,4 Z" fill="#6d6e71" transform="translate(202.5 222.5) rotate(10.0)"/>
<path d="M260,141 C248,175 244,214 284,222" fill="none" stroke="#6d6e71" stroke-width="2.4" stroke-linecap="round"/>
<path d="M0,0 L-9,-4 L-6.5,0 L-9,4 Z" fill="#6d6e71" transform="translate(286.5 222.5) rotate(8.0)"/>
<path d="M117.5,209 C128,232 142,248 165,255" fill="none" stroke="#6d6e71" stroke-width="2.4" stroke-linecap="round"/>
<path d="M0,0 L-9,-4 L-6.5,0 L-9,4 Z" fill="#6d6e71" transform="translate(167.5 255.7) rotate(18.0)"/>
<path d="M96,282 L164,282" fill="none" stroke="#6d6e71" stroke-width="2.4" stroke-linecap="round"/>
<path d="M0,0 L-9,-4 L-6.5,0 L-9,4 Z" fill="#6d6e71" transform="translate(165.5 282.0) rotate(0.0)"/>
<path d="M117.5,353.5 C126,328 142,312 165,305.5" fill="none" stroke="#6d6e71" stroke-width="2.4" stroke-linecap="round"/>
<path d="M0,0 L-9,-4 L-6.5,0 L-9,4 Z" fill="#6d6e71" transform="translate(167.5 305.0) rotate(-18.0)"/>
<path d="M172,396 C165,362 176,340 200,334.5" fill="none" stroke="#6d6e71" stroke-width="2.4" stroke-linecap="round"/>
<path d="M0,0 L-9,-4 L-6.5,0 L-9,4 Z" fill="#6d6e71" transform="translate(202.5 334.2) rotate(-10.0)"/>
<path d="M259.5,417 C250,388 248,345 284,335.5" fill="none" stroke="#6d6e71" stroke-width="2.4" stroke-linecap="round"/>
<path d="M0,0 L-9,-4 L-6.5,0 L-9,4 Z" fill="#6d6e71" transform="translate(286.5 335.0) rotate(-8.0)"/>
<path d="M354.5,282 L383,282" fill="none" stroke="#6d6e71" stroke-width="2.4" stroke-linecap="round"/>
<path d="M0,0 L-9,-4 L-6.5,0 L-9,4 Z" fill="#6d6e71" transform="translate(386.0 282.0) rotate(0.0)"/>
<rect x="182.9" y="237.7" width="162.9" height="81.6" rx="19.5" fill="none" stroke="#6d6e71" stroke-width="3.4"/>
<text x="242.2" y="277.6" font-size="20.3" fill="#231f20" textLength="44.6" lengthAdjust="spacingAndGlyphs" >scVI</text>
<text x="203.2" y="296.2" font-size="14.6" fill="#58595b" textLength="122.5" lengthAdjust="spacingAndGlyphs" >Batch Integration</text>
<path d="M600.5,47.0 C601.0,44.5 603.6,43.0 606.0,42.0 C608.4,41.0 611.7,40.6 615.0,40.8 C618.3,41.0 622.7,41.8 626.0,43.0 C629.3,44.2 632.9,46.3 635.0,48.0 C637.1,49.7 639.3,51.3 638.6,53.0 C637.9,54.7 633.8,56.5 631.0,58.0 C628.2,59.5 625.2,61.0 622.0,62.0 C618.8,63.0 615.2,64.8 612.0,64.0 C608.8,63.2 604.9,59.8 603.0,57.0 C601.1,54.2 600.0,49.5 600.5,47.0Z" fill="#3a8fd2" filter="url(#spk3)"/>
<ellipse cx="614.0" cy="67.0" rx="5.0" ry="8.0" fill="#9ab0d8" fill-opacity="0.50" filter="url(#spk3)"/>
<path d="M572.5,108.0 C578.3,104.0 589.1,105.2 596.3,103.7 C603.5,102.2 608.9,100.8 615.8,99.3 C622.7,97.8 629.9,94.6 637.5,95.0 C645.1,95.4 655.2,97.9 661.3,101.5 C667.4,105.1 667.8,112.7 674.3,116.7 C680.8,120.7 693.1,122.0 700.3,125.3 C707.5,128.5 715.9,131.9 717.7,136.2 C719.5,140.5 714.1,146.6 711.2,151.3 C708.3,156.0 702.8,158.5 700.3,164.3 C697.8,170.1 698.2,179.5 696.0,186.0 C693.8,192.5 691.6,199.0 687.3,203.3 C683.0,207.6 678.3,210.6 670.0,212.0 C661.7,213.4 647.6,212.7 637.5,212.0 C627.4,211.3 618.3,210.2 609.3,207.7 C600.3,205.2 590.1,201.9 583.3,196.8 C576.4,191.7 571.5,184.9 568.2,177.3 C565.0,169.7 564.9,159.6 563.8,151.3 C562.7,143.0 560.2,134.7 561.7,127.5 C563.2,120.3 566.7,112.0 572.5,108.0Z" fill="url(#gVE)" filter="url(#spk)"/>
<g clip-path="url(#cVE)">
<ellipse cx="668.0" cy="120.0" rx="52.0" ry="20.0" fill="#f2b240" fill-opacity="0.90" transform="rotate(12.0 668.0 120.0)" filter="url(#soft)"/>
<ellipse cx="585.0" cy="128.0" rx="26.0" ry="24.0" fill="#c4a650" fill-opacity="0.60" filter="url(#soft)"/>
<ellipse cx="645.0" cy="150.0" rx="60.0" ry="9.0" fill="#b0a055" fill-opacity="0.45" transform="rotate(22.0 645.0 150.0)" filter="url(#soft)"/>
<ellipse cx="680.0" cy="165.0" rx="26.0" ry="9.0" fill="#9c9150" fill-opacity="0.70" transform="rotate(22.0 680.0 165.0)" filter="url(#soft)"/>
<ellipse cx="605.0" cy="192.0" rx="40.0" ry="16.0" fill="#f6dc98" fill-opacity="0.60" filter="url(#soft)"/>
</g>
<path d="M510.0,159.5 C516.5,160.2 525.2,162.9 531.7,166.0 C538.2,169.1 544.7,173.7 549.0,178.0 C553.3,182.3 554.8,187.5 557.7,192.0 C560.6,196.5 564.5,201.0 566.3,205.0 C568.1,209.0 567.0,211.5 568.5,215.8 C570.0,220.1 573.4,225.6 575.0,231.0 C576.6,236.4 577.8,241.8 578.3,248.3 C578.8,254.8 578.8,263.5 578.3,270.0 C577.8,276.5 577.0,282.2 575.0,287.3 C573.0,292.4 570.3,297.1 566.3,300.3 C562.3,303.6 553.7,303.9 551.2,306.8 C548.7,309.7 553.0,313.7 551.2,317.7 C549.4,321.7 545.7,327.6 540.3,330.7 C534.9,333.8 524.5,336.4 518.7,336.0 C512.9,335.6 510.0,330.3 505.7,328.5 C501.4,326.7 497.8,326.8 492.7,325.3 C487.6,323.9 480.0,323.2 475.3,319.8 C470.6,316.4 467.8,310.8 464.5,304.7 C461.2,298.6 457.8,290.2 455.8,283.0 C453.8,275.8 453.7,269.2 452.6,261.3 C451.5,253.4 449.1,243.6 449.3,235.3 C449.5,227.0 451.5,219.1 453.7,211.5 C455.9,203.9 458.7,196.3 462.3,189.8 C465.9,183.3 470.2,177.2 475.3,172.5 C480.4,167.8 486.9,163.9 492.7,161.7 C498.5,159.5 503.5,158.8 510.0,159.5Z" fill="url(#gFB)" filter="url(#spk)"/>
<g clip-path="url(#cFB)">
<ellipse cx="460.0" cy="240.0" rx="14.0" ry="25.0" fill="#9a5a46" fill-opacity="0.50" filter="url(#soft)"/>
<path d="M504.6,326.3 C504.6,322.7 507.3,314.8 510.0,311.2 C512.7,307.6 516.5,305.4 520.8,304.7 C525.1,304.0 530.9,305.7 536.0,306.8 C541.1,307.9 549.0,308.3 551.2,311.2 C553.4,314.1 551.2,320.9 549.0,324.2 C546.8,327.4 542.9,328.7 538.2,330.7 C533.5,332.7 525.5,335.6 520.8,336.0 C516.1,336.4 512.7,334.4 510.0,332.8 C507.3,331.2 504.6,329.9 504.6,326.3Z" fill="#8a5038" fill-opacity="0.75" filter="url(#soft3)"/>
<ellipse cx="517.0" cy="326.0" rx="8.0" ry="7.0" fill="#6e3a26" fill-opacity="0.80" filter="url(#soft3)"/>
<ellipse cx="539.0" cy="316.0" rx="8.0" ry="7.0" fill="#7a4430" fill-opacity="0.75" filter="url(#soft3)"/>
</g>
<path d="M714.0,180.5 C716.5,173.1 721.3,168.1 728.0,164.0 C734.7,159.9 743.8,156.4 754.0,156.0 C764.2,155.6 778.4,157.6 789.0,161.7 C799.6,165.8 808.7,174.2 817.4,180.5 C826.1,186.8 836.3,193.8 841.0,199.3 C845.7,204.8 846.0,207.5 845.6,213.4 C845.2,219.3 841.6,228.6 838.5,234.5 C835.4,240.4 829.1,244.4 826.8,248.6 C824.4,252.8 828.7,258.7 824.4,259.5 C820.1,260.3 809.2,253.9 801.0,253.3 C792.8,252.7 784.0,256.5 775.0,255.7 C766.0,254.9 755.2,252.5 747.0,248.6 C738.8,244.7 731.5,238.8 725.8,232.2 C720.1,225.5 715.0,217.3 713.0,208.7 C711.0,200.1 711.5,187.9 714.0,180.5Z" fill="url(#gBM)" filter="url(#spk)"/>
<ellipse cx="748.0" cy="224.0" rx="10.0" ry="9.0" fill="#eda79c" fill-opacity="0.45" filter="url(#soft3)"/>
<path d="M605.0,248.9 C606.1,245.6 609.4,240.1 613.7,235.8 C618.0,231.5 624.5,224.7 631.0,222.9 C637.5,221.1 646.2,223.6 652.7,225.0 C659.2,226.4 666.0,228.2 670.0,231.5 C674.0,234.8 676.9,239.8 676.5,244.5 C676.1,249.2 673.2,255.9 667.8,259.7 C662.4,263.5 651.6,267.3 644.0,267.3 C636.4,267.3 628.4,261.7 622.3,259.7 C616.2,257.7 610.1,257.2 607.2,255.4 C604.3,253.6 603.9,252.2 605.0,248.9Z" fill="url(#gLE)" filter="url(#spk)"/>
<path d="M650.5,322.8 C650.9,315.6 653.4,307.3 657.0,301.2 C660.6,295.1 665.7,289.6 672.2,286.0 C678.7,282.4 690.6,283.1 696.0,279.5 C701.4,275.9 700.0,267.6 704.7,264.3 C709.4,261.1 717.4,258.6 724.2,260.0 C731.1,261.4 739.3,268.3 745.8,273.0 C752.3,277.7 758.9,281.3 763.2,288.2 C767.5,295.1 770.7,305.2 771.8,314.2 C772.9,323.2 771.5,334.0 769.7,342.3 C767.9,350.6 764.6,357.5 761.0,364.0 C757.4,370.5 753.8,377.0 748.0,381.3 C742.2,385.6 733.5,389.3 726.3,390.0 C719.1,390.7 711.2,388.6 704.7,385.7 C698.2,382.8 693.1,377.0 687.3,372.7 C681.5,368.4 675.4,364.4 670.0,359.7 C664.6,355.0 658.0,350.6 654.8,344.5 C651.5,338.4 650.1,330.0 650.5,322.8Z" fill="url(#gLA)" filter="url(#spk)"/>
<ellipse cx="722.0" cy="268.0" rx="16.0" ry="8.0" fill="#d8a4cd" fill-opacity="0.45" filter="url(#soft3)"/>
<path d="M568.2,318.5 C571.8,315.1 577.5,309.2 583.3,306.6 C589.1,304.0 596.6,302.9 602.8,302.9 C608.9,302.9 615.7,304.0 620.2,306.6 C624.7,309.2 627.7,313.6 629.9,318.5 C632.1,323.4 632.5,329.7 633.2,335.8 C633.9,341.9 634.7,349.5 634.3,355.3 C633.9,361.1 633.0,365.8 631.0,370.5 C629.0,375.2 626.6,380.1 622.3,383.5 C618.0,386.9 610.8,390.2 605.0,391.1 C599.2,392.0 593.5,391.1 587.7,388.9 C581.9,386.7 575.4,382.2 570.3,378.1 C565.2,374.0 560.0,368.5 557.3,364.0 C554.6,359.5 555.9,354.8 554.1,351.0 C552.3,347.2 546.9,344.2 546.5,341.3 C546.1,338.4 549.4,336.1 551.9,333.7 C554.4,331.3 559.0,329.7 561.7,327.2 C564.4,324.7 564.6,321.9 568.2,318.5Z" fill="url(#gTC)" filter="url(#spk)"/>
<ellipse cx="553.0" cy="341.0" rx="7.0" ry="8.0" fill="#9ab850" fill-opacity="0.80" filter="url(#soft3)"/>
<path d="M557.3,431.2 C557.8,426.5 560.5,423.6 563.8,420.3 C567.0,417.1 571.7,413.5 576.8,411.7 C581.9,409.9 588.4,411.3 594.2,409.5 C600.0,407.7 605.4,403.7 611.5,400.8 C617.6,397.9 624.9,394.7 631.0,392.2 C637.1,389.7 643.2,386.6 648.3,385.7 C653.3,384.8 656.2,384.6 661.3,386.8 C666.4,389.0 673.6,394.6 678.7,398.7 C683.8,402.8 688.6,406.3 691.7,411.7 C694.8,417.1 696.6,425.1 697.1,431.2 C697.6,437.3 697.0,443.4 695.0,448.5 C693.0,453.6 690.1,457.9 685.2,461.5 C680.3,465.1 672.6,467.7 665.7,470.2 C658.8,472.7 650.5,473.4 644.0,476.7 C637.5,479.9 632.1,485.7 626.7,489.7 C621.3,493.7 616.6,499.1 611.5,500.5 C606.4,501.9 600.6,500.9 596.3,498.4 C592.0,495.9 587.7,490.1 585.5,485.4 C583.3,480.7 585.5,474.5 583.3,470.2 C581.1,465.9 576.3,462.9 572.5,459.3 C568.7,455.7 563.1,453.2 560.6,448.5 C558.1,443.8 556.8,435.9 557.3,431.2Z" fill="url(#gPV)" filter="url(#spk)"/>
<g clip-path="url(#cPV)">
<ellipse cx="602.0" cy="482.0" rx="24.0" ry="17.0" fill="#f1a853" fill-opacity="0.60" filter="url(#soft)"/>
<ellipse cx="650.0" cy="405.0" rx="28.0" ry="14.0" fill="#f5c5a2" fill-opacity="0.60" transform="rotate(-20.0 650.0 405.0)" filter="url(#soft)"/>
<ellipse cx="665.0" cy="420.0" rx="20.0" ry="4.0" fill="#c88a6a" fill-opacity="0.50" transform="rotate(-35.0 665.0 420.0)" filter="url(#soft3)"/>
</g>
<path d="M423.3,330.3 C426.2,327.8 427.3,328.9 432.0,328.5 C436.7,328.1 445.0,326.8 451.5,328.2 C458.0,329.6 464.1,333.2 471.0,336.8 C477.9,340.4 486.2,345.4 492.7,349.8 C499.2,354.2 506.0,356.9 510.0,363.0 C514.0,369.1 515.6,379.1 516.5,386.7 C517.4,394.2 516.8,401.4 515.4,408.3 C514.0,415.2 512.2,422.4 508.0,428.0 C503.8,433.6 497.0,438.8 490.0,442.0 C483.0,445.2 474.3,447.0 466.0,447.3 C457.7,447.6 448.0,446.6 440.0,444.0 C432.0,441.4 423.5,438.0 418.0,432.0 C412.5,426.0 409.2,415.6 407.0,408.0 C404.8,400.4 404.8,393.9 405.0,386.7 C405.2,379.5 406.4,372.2 408.0,365.0 C409.6,357.8 412.1,349.1 414.7,343.3 C417.2,337.5 420.4,332.8 423.3,330.3Z" fill="url(#gLH)" filter="url(#spk)"/>
<path d="M428.0,314.0 C429.2,312.1 431.0,310.2 433.0,309.7 C435.0,309.2 438.2,309.6 440.0,311.0 C441.8,312.4 443.0,315.2 444.0,318.0 C445.0,320.8 447.3,325.8 446.0,328.0 C444.7,330.2 439.0,330.8 436.0,331.0 C433.0,331.2 429.7,330.7 428.0,329.0 C426.3,327.3 426.0,323.5 426.0,321.0 C426.0,318.5 426.8,315.9 428.0,314.0Z" fill="#e46d88" fill-opacity="0.90" filter="url(#spk)"/>
<ellipse cx="508.0" cy="360.0" rx="10.0" ry="12.0" fill="#dedada" fill-opacity="0.70" transform="rotate(-30.0 508.0 360.0)" filter="url(#spk3)"/>
<ellipse cx="488.0" cy="360.0" rx="16.0" ry="10.0" fill="#c99aa6" fill-opacity="0.45" transform="rotate(-35.0 488.0 360.0)" filter="url(#soft3)"/>
<path d="M392.0,318.0 C393.6,315.8 396.0,312.5 398.0,311.0 C400.0,309.5 402.2,308.7 404.0,309.0 C405.8,309.3 407.7,310.8 409.0,313.0 C410.3,315.2 411.0,318.3 412.0,322.0 C413.0,325.7 415.3,331.2 415.0,335.0 C414.7,338.8 411.5,341.3 410.0,345.0 C408.5,348.7 407.5,355.3 406.0,357.0 C404.5,358.7 402.7,357.0 401.0,355.0 C399.3,353.0 397.8,348.7 396.0,345.0 C394.2,341.3 391.2,336.5 390.0,333.0 C388.8,329.5 388.4,326.5 388.7,324.0 C389.0,321.5 390.4,320.2 392.0,318.0Z" fill="#40aa98" filter="url(#spk3)"/>
<path d="M484.0,466.8 C485.8,463.6 492.3,460.5 497.0,458.2 C501.7,455.9 507.2,453.5 512.2,452.8 C517.2,452.1 522.6,451.5 527.3,453.8 C532.0,456.1 536.0,462.1 540.3,466.8 C544.6,471.5 551.5,478.0 553.3,482.0 C555.1,486.0 554.1,488.5 551.2,490.7 C548.3,492.9 538.2,492.5 536.0,495.0 C533.8,497.5 539.7,503.5 538.2,505.8 C536.8,508.1 531.3,509.7 527.3,509.0 C523.3,508.3 518.6,502.2 514.3,501.5 C510.0,500.8 504.9,506.6 501.3,504.8 C497.7,503.0 495.2,495.2 492.7,490.7 C490.2,486.2 487.6,481.7 486.2,477.7 C484.8,473.7 482.2,470.1 484.0,466.8Z" fill="#48b09e" filter="url(#spk3)"/>
<ellipse cx="498.0" cy="459.0" rx="12.0" ry="2.2" fill="#2f5f9a" fill-opacity="0.80" transform="rotate(-22.0 498.0 459.0)" filter="url(#soft3)"/>
<path d="M756.0,392.0 C757.7,387.5 761.3,380.8 764.0,378.0 C766.7,375.2 769.3,373.8 772.0,375.0 C774.7,376.2 777.0,381.2 780.0,385.0 C783.0,388.8 785.8,395.2 790.0,398.0 C794.2,400.8 800.0,400.3 805.0,402.0 C810.0,403.7 816.0,405.0 820.0,408.0 C824.0,411.0 828.2,415.0 829.0,420.0 C829.8,425.0 828.2,433.7 825.0,438.0 C821.8,442.3 815.0,444.5 810.0,446.0 C805.0,447.5 799.7,448.0 795.0,447.0 C790.3,446.0 786.2,442.5 782.0,440.0 C777.8,437.5 774.0,435.3 770.0,432.0 C766.0,428.7 760.7,424.5 758.0,420.0 C755.3,415.5 754.3,409.7 754.0,405.0 C753.7,400.3 754.3,396.5 756.0,392.0Z" fill="#cfae78" filter="url(#spk3)"/>
<path d="M722.0,425.0 C725.5,418.0 731.2,404.3 735.0,398.0 C738.8,391.7 742.2,388.0 745.0,387.0 C747.8,386.0 751.0,386.5 752.0,392.0 C753.0,397.5 751.2,411.2 751.0,420.0 C750.8,428.8 752.5,439.5 751.0,445.0 C749.5,450.5 745.8,451.3 742.0,453.0 C738.2,454.7 732.3,455.2 728.0,455.0 C723.7,454.8 718.3,454.5 716.0,452.0 C713.7,449.5 713.0,444.5 714.0,440.0 C715.0,435.5 718.5,432.0 722.0,425.0Z" fill="#d8a8b4" fill-opacity="0.90" filter="url(#spk3)"/>
<ellipse cx="854.0" cy="398.0" rx="14.0" ry="12.0" fill="#22b2d8" transform="rotate(-15.0 854.0 398.0)" filter="url(#spk3)"/>
<ellipse cx="838.0" cy="392.0" rx="6.0" ry="4.0" fill="#8ad0e6" fill-opacity="0.60" transform="rotate(-15.0 838.0 392.0)" filter="url(#spk3)"/>
<ellipse cx="769.7" cy="109.0" rx="2.0" ry="1.5" fill="#5a1a5a" />
<text x="493.8" y="14.2" font-size="16.5" fill="#231f20" textLength="263.8" lengthAdjust="spacingAndGlyphs" >Integrated human breast cell atlas</text>
<text x="646.0" y="60.8" font-size="15.0" fill="#231f20" textLength="46.8" lengthAdjust="spacingAndGlyphs" >B cells</text>
<text x="620.2" y="176.3" font-size="15.0" fill="#231f20" textLength="16.7" lengthAdjust="spacingAndGlyphs" >VE</text>
<text x="634.3" y="255.3" font-size="15.0" fill="#231f20" textLength="14.5" lengthAdjust="spacingAndGlyphs" >LE</text>
<text x="505.2" y="258.7" font-size="15.0" fill="#231f20" textLength="16.7" lengthAdjust="spacingAndGlyphs" >FB</text>
<text x="758.2" y="217.4" font-size="15.0" fill="#231f20" textLength="43.2" lengthAdjust="spacingAndGlyphs" >BMYO</text>
<text x="700.8" y="332.0" font-size="15.0" fill="#231f20" textLength="36.4" lengthAdjust="spacingAndGlyphs" >LASP</text>
<text x="570.3" y="359.0" font-size="15.0" fill="#231f20" textLength="45.1" lengthAdjust="spacingAndGlyphs" >T cells</text>
<text x="618.4" y="447.4" font-size="15.0" fill="#231f20" textLength="17.6" lengthAdjust="spacingAndGlyphs" >PV</text>
<text x="442.4" y="403.0" font-size="15.0" fill="#231f20" textLength="28.2" lengthAdjust="spacingAndGlyphs" >LHS</text>
<text x="423.3" y="500.4" font-size="15.0" fill="#231f20" textLength="56.4" lengthAdjust="spacingAndGlyphs" >Myeloid</text>
<text x="801.4" y="378.9" font-size="15.0" fill="#231f20" textLength="88.3" lengthAdjust="spacingAndGlyphs" >Plasma cells</text>
<text x="728.2" y="471.7" font-size="15.0" fill="#231f20" textLength="88.0" lengthAdjust="spacingAndGlyphs" >Milk-derived</text>
<text x="722.3" y="489.3" font-size="15.0" fill="#231f20" textLength="104.5" lengthAdjust="spacingAndGlyphs" >epithelial cells</text>
<path d="M386,442 L386,521.4 L467,521.4" fill="none" stroke="#b3b3b3" stroke-width="1.4"/>
<path d="M386,439 l-3,7 l6,0 z M470,521.4 l-7,-3 l0,6 z" fill="#b3b3b3"/>
<text x="404.5" y="538.0" font-size="12.8" fill="#b3b4b6" textLength="39.5" lengthAdjust="spacingAndGlyphs" >UMAP1</text>
<text transform="translate(379 500.5) rotate(-90)" font-size="12.8" fill="#b3b4b6" textLength="42.5" lengthAdjust="spacingAndGlyphs">UMAP2</text>
<rect x="762" y="42" width="116" height="33.6" fill="#000"/>
<rect x="769.6" y="50" width="9.2" height="1.8" fill="#7b7bd0"/>
<rect x="767" y="53.4" width="1.8" height="8.6" fill="#fff"/>
<rect x="770.8" y="54.3" width="7.2" height="6.8" fill="none" stroke="#fff" stroke-width="1.7"/>
<text x="782" y="62" font-size="11.8" font-weight="bold" fill="#fff" textLength="17" lengthAdjust="spacingAndGlyphs">CZ</text>
<text x="801.6" y="62" font-size="11.8" fill="#e8e8e8" textLength="29.2" lengthAdjust="spacingAndGlyphs">CELL</text>
<path d="M833.6,55.8 L838.2,60.4 M838.2,55.8 L833.6,60.4" stroke="#fff" stroke-width="1.1"/>
<text x="840.6" y="62" font-size="11.8" fill="#e8e8e8" textLength="33.6" lengthAdjust="spacingAndGlyphs">GENE</text>
<text x="782" y="70.2" font-size="5.8" font-weight="bold" fill="#5b5ba6" textLength="33" lengthAdjust="spacingAndGlyphs">DISCOVER</text>
<rect x="922.5" y="26.7" width="215" height="478.3" rx="22" fill="#e2e3e5"/>
<text x="959.5" y="62.2" font-size="14.8" fill="#231f20" textLength="118.0" lengthAdjust="spacingAndGlyphs" >Cohort overview</text>
<text x="989.4" y="106.3" font-size="14.8" fill="#231f20" textLength="109.6" lengthAdjust="spacingAndGlyphs" >2.1 million cells</text>
<text x="989.4" y="167.0" font-size="14.8" fill="#231f20" textLength="108.6" lengthAdjust="spacingAndGlyphs" >286 individuals</text>
<text x="989.4" y="215.5" font-size="14.8" fill="#231f20" textLength="23.6" lengthAdjust="spacingAndGlyphs" >167</text>
<text x="989.4" y="232.8" font-size="14.8" fill="#231f20" textLength="101.0" lengthAdjust="spacingAndGlyphs" >mammoplasty</text>
<text x="989.5" y="296.25" font-size="14.8" fill="#231f20">44 <tspan font-style="italic">BRCA1/2</tspan></text>
<text x="989.5" y="315.0" font-size="14.8" fill="#231f20" textLength="83.0" lengthAdjust="spacingAndGlyphs" >mastecomy</text>
<text x="989.5" y="376.2" font-size="14.8" fill="#231f20" textLength="114.2" lengthAdjust="spacingAndGlyphs" >54 contralateral</text>
<text x="989.5" y="395.0" font-size="14.8" fill="#231f20" textLength="88.5" lengthAdjust="spacingAndGlyphs" >mastectomy</text>
<text x="989.5" y="450.0" font-size="14.8" fill="#231f20" textLength="126.0" lengthAdjust="spacingAndGlyphs" >Diverse protocols</text>
<text x="989.5" y="468.8" font-size="14.8" fill="#231f20" textLength="126.0" lengthAdjust="spacingAndGlyphs" >(fresh and frozen)</text>
<g>
<ellipse cx="944.9" cy="98.9" rx="4.9" ry="4.8" fill="#f5b6cd" />
<ellipse cx="945.8" cy="96.9" rx="2.1" ry="2.0" fill="#ee8fb3" />
<ellipse cx="964.7" cy="99.3" rx="5.0" ry="5.2" fill="#f3b0c4" />
<ellipse cx="965.1" cy="97.9" rx="2.2" ry="2.1" fill="#e6789a" />
<ellipse cx="949.5" cy="89.5" rx="3.5" ry="3.4" fill="#6ab04c" />
<ellipse cx="959.5" cy="89.6" rx="3.9" ry="3.4" fill="#25a891" />
<ellipse cx="959.5" cy="89.6" rx="1.3" ry="1.2" fill="#12a088" />
<path d="M950.7,93.3 L958.4,102.4" stroke="#e8784a" stroke-width="2.6" stroke-linecap="round"/>
<ellipse cx="952.6" cy="102.7" rx="3.5" ry="3.4" fill="#3fbbea" />
<path d="M963.8,84.6 Q970.5,86.5 972.7,92.2" fill="none" stroke="#f6c350" stroke-width="2"/>
<path d="M972.3,96.2 Q972.5,104 966.8,108.5" fill="none" stroke="#f08a50" stroke-width="2.4"/>
<path d="M954.3,107.4 Q960,109.8 966,108.6" fill="none" stroke="#ee6a5a" stroke-width="2.2"/>
<path d="M944.4,105.3 Q948,109.5 953.5,110.3" fill="none" stroke="#4a86cc" stroke-width="1.5"/>
</g>
<path d="M957.9,129.3 C953,129.3 950.3,132.5 950.3,138.5 C950.3,143.5 951.8,147.5 953.3,149.5 L953.3,152.3 C950,154.5 946,155.5 942.5,157.5 C939,159.5 937.5,163 937,168 C936,174 934.5,179 933.5,183.6 L979.3,183.6 C978.3,179 977.3,174 976.8,168 C976.3,163 974.8,159.5 971.3,157.5 C967.8,155.5 965.5,154.5 962.5,152.3 L962.5,149.5 C964,147.5 965.5,143.5 965.5,138.5 C965.5,132.5 962.8,129.3 957.9,129.3 Z" fill="#cbcccf" stroke="#8e8f92" stroke-width="0.55"/>
<path d="M960,130 C964,131 965.3,135 965.3,139 C965.3,144 963.5,148 961,150 C962.5,146 963,141 962.5,137 C962,133 961,131 960,130 Z" fill="#d9dadc"/>
<path d="M953.3,152.3 C955,156 960.5,156 962.5,152.3 L962.5,154 C960,158 956,158 953.3,154 Z" fill="#bdbec1"/>
<ellipse cx="955.0" cy="171.0" rx="6.5" ry="6.0" fill="#d6d7d9" />
<ellipse cx="966.0" cy="169.0" rx="6.0" ry="6.0" fill="#dcdddf" />
<path d="M944.2,167.5 C944.5,173 945,178 945.8,183.6 M970.6,166.5 C970.8,172 971.2,178 971.7,183.6 M942.5,157.5 C947,160 952,160.5 957.9,160 C963,160.5 968,160 971.3,157.5" fill="none" stroke="#9c9da0" stroke-width="0.5"/>
<path d="M948.3,170 C949,175.5 951.5,178 955,178 C958.5,178 960.5,175.5 961,171.5 M961.5,171.5 C962,176 964,178 967,177.5 C970,177 971,173 970.5,169.5" fill="none" stroke="#7f8083" stroke-width="0.55"/>
<ellipse cx="954.4" cy="173.7" rx="0.9" ry="0.9" fill="#7a7b7e" />
<ellipse cx="969.6" cy="173.0" rx="0.6" ry="0.9" fill="#7a7b7e" />
<g stroke-linecap="round" fill="none">
<path d="M952.6,223.8 L961.5,232.8 M955.5,222 L963.5,230 M951,227 L958.5,234.5 M959,221.5 L964,226.5 M965,212.5 L971,219.3 M943,235.8 L949.3,242.1" stroke="#1a1a1a" stroke-width="0.9"/>
<path d="M948.1,244.7 C951,240 950,235 950,230 C949.5,224 951,220.5 956,220.4 C961,220.3 965,221.5 969,221.5 C972,221.5 974.7,219.6 974.7,219.6" stroke="#111" stroke-width="3.4"/>
<path d="M948.1,244.7 C951,240 950,235 950,230 C949.5,224 951,220.5 956,220.4 C961,220.3 965,221.5 969,221.5 C972,221.5 974.7,219.6 974.7,219.6" stroke="#3f7ea0" stroke-width="1.7"/>
<path d="M965,210 C962,215 964,220 964.6,224 C965,231 962,235 957,235 C952,235 948,233 944,233.5 C941,234 939.5,235.7 939.5,235.7" stroke="#111" stroke-width="3.4"/>
<path d="M965,210 C962,215 964,220 964.6,224 C965,231 962,235 957,235 C952,235 948,233 944,233.5 C941,234 939.5,235.7 939.5,235.7" stroke="#f0b52e" stroke-width="1.7"/>
<path d="M950,234 C950,238 951,241 948.1,244.7" stroke="#111" stroke-width="3.4"/><path d="M950,234 C950,238 951,241 948.1,244.7" stroke="#3f7ea0" stroke-width="1.7"/>
</g>
<g stroke-linecap="round" fill="none">
<path d="M956.5,297 L963.5,304 M958.5,294.5 L965.5,301.5 M954.5,300.5 L958,304 M962,296 L965,299 M969,284 L977,292 M969,289 L974,294 M943,310 L951,318 M946,309 L952,315" stroke="#1a1a1a" stroke-width="0.9"/>
<path d="M953.4,287.2 L957,290.8 M957.8,284 L959.4,289.2 M963.4,285.2 L961.4,290" stroke="#1a1a1a" stroke-width="1"/>
<path d="M952.6,319.6 C954.5,316 955,312 953,308.4 C951.5,304 951.5,299 953,297.2 C954,295.5 955.5,294.5 957,294" stroke="#111" stroke-width="3.2"/><path d="M952.6,319.6 C954.5,316 955,312 953,308.4 C951.5,304 951.5,299 953,297.2 C954,295.5 955.5,294.5 957,294" stroke="#6cb884" stroke-width="1.6"/>
<path d="M968.6,282 C967,286 967,290 968.4,296 C969.5,301 967.5,306 963,308 C958,310 952,308 947,307.3 C944,307 941,309 941,309" stroke="#111" stroke-width="3.2"/><path d="M968.6,282 C967,286 967,290 968.4,296 C969.5,301 967.5,306 963,308 C958,310 952,308 947,307.3 C944,307 941,309 941,309" stroke="#e0604c" stroke-width="1.6"/>
<path d="M962.6,293 C966,293.5 968,294.5 971,294.4 C974,294.2 977,293.5 979,293.2" stroke="#111" stroke-width="3.2"/><path d="M962.6,293 C966,293.5 968,294.5 971,294.4 C974,294.2 977,293.5 979,293.2" stroke="#6cb884" stroke-width="1.6"/>
</g>
<path d="M954.5,371.5 L959.5,381.5 L970.5,401" fill="none" stroke="#e3528d" stroke-width="5.2" stroke-linejoin="round"/>
<path d="M948.6,401 L959.5,381.5 L965.2,371.5 C967.8,366 966,359.8 959.7,359.8 C953.5,359.8 951.7,366 954.5,371.5" fill="none" stroke="#ee6fa6" stroke-width="5.2" stroke-linejoin="round"/>
<path d="M945.6,399 L951,403.8 L946.2,403.8 Z M973.4,399 L968,403.8 L972.8,403.8 Z" fill="#e2e3e5"/>
<path d="M955.5,442 L967.5,442 L967.5,466 L963.8,476 L959.2,476 L955.5,466 Z" fill="#fafafa" stroke="#b4b4b4" stroke-width="0.6"/>
<path d="M955.8,458 L967.2,458 L967.2,466 L963.7,475.5 L959.3,475.5 L955.8,466 Z" fill="#c3e4f0"/>
<path d="M959.3,472.3 L963.7,472.3 L962.9,480.5 L960.1,480.5 Z" fill="#9d9d9d"/>
<rect x="952.5" y="438.7" width="17.2" height="3.4" rx="0.8" fill="#f6f6f6" stroke="#a4a4a4" stroke-width="0.6"/>
<path d="M950.5,439.5 L953,439.5 L953,442 L950.8,441.6 Z" fill="#c8c8c8"/>
<text x="997.0" y="536.2" font-size="14.8" fill="#231f20" textLength="111.0" lengthAdjust="spacingAndGlyphs" >Percent of cells</text>
<text x="956.2" y="557.1" font-size="12.4" fill="#231f20" text-anchor="middle">0</text>
<text x="992.6" y="557.1" font-size="12.4" fill="#231f20" text-anchor="middle">0.2</text>
<text x="1029.3" y="557.1" font-size="12.4" fill="#231f20" text-anchor="middle">0.4</text>
<text x="1065.9" y="557.1" font-size="12.4" fill="#231f20" text-anchor="middle">0.6</text>
<text x="1102.7" y="557.1" font-size="12.4" fill="#231f20" text-anchor="middle">0.8</text>
<text x="1137.5" y="557.1" font-size="12.4" fill="#231f20" text-anchor="middle">1.0</text>
<rect x="956.2" y="564" width="183.1" height="11.4" fill="url(#gCB)"/>
<text x="1.2" y="606" font-size="22.8" font-weight="bold" fill="#231f20" stroke="#231f20" stroke-width="0.7">b</text>
<rect x="5.00" y="615.70" width="311.00" height="386.60" fill="#e8e8e0"/>
<path d="M5.55 616.25h6.68v5.57h-6.68zM13.33 616.25h6.68v5.57h-6.68zM36.65 616.25h6.68v5.57h-6.68zM44.42 616.25h6.68v5.57h-6.68zM52.20 616.25h6.68v5.57h-6.68zM59.98 616.25h6.68v5.57h-6.68zM67.75 616.25h6.68v5.57h-6.68zM75.53 616.25h6.68v5.57h-6.68zM83.30 616.25h6.68v5.57h-6.68zM91.08 616.25h6.68v5.57h-6.68zM98.85 616.25h6.68v5.57h-6.68zM106.62 616.25h6.68v5.57h-6.68zM114.40 616.25h6.68v5.57h-6.68zM122.17 616.25h6.68v5.57h-6.68zM129.95 616.25h6.68v5.57h-6.68zM137.73 616.25h6.68v5.57h-6.68zM145.50 616.25h6.68v5.57h-6.68zM153.28 616.25h6.68v5.57h-6.68zM161.05 616.25h6.68v5.57h-6.68zM168.83 616.25h6.68v5.57h-6.68zM176.60 616.25h6.68v5.57h-6.68zM184.38 616.25h6.68v5.57h-6.68zM192.15 616.25h6.68v5.57h-6.68zM199.93 616.25h6.68v5.57h-6.68zM207.70 616.25h6.68v5.57h-6.68zM215.48 616.25h6.68v5.57h-6.68zM223.25 616.25h6.68v5.57h-6.68zM231.03 616.25h6.68v5.57h-6.68zM238.80 616.25h6.68v5.57h-6.68zM246.58 616.25h6.68v5.57h-6.68zM254.35 616.25h6.68v5.57h-6.68zM262.12 616.25h6.68v5.57h-6.68zM269.90 616.25h6.68v5.57h-6.68zM277.68 616.25h6.68v5.57h-6.68zM285.45 616.25h6.68v5.57h-6.68zM293.23 616.25h6.68v5.57h-6.68zM301.00 616.25h6.68v5.57h-6.68zM308.78 616.25h6.68v5.57h-6.68zM36.65 622.92h6.68v5.57h-6.68zM44.42 622.92h6.68v5.57h-6.68zM52.20 622.92h6.68v5.57h-6.68zM59.98 622.92h6.68v5.57h-6.68zM67.75 622.92h6.68v5.57h-6.68zM75.53 622.92h6.68v5.57h-6.68zM83.30 622.92h6.68v5.57h-6.68zM91.08 622.92h6.68v5.57h-6.68zM98.85 622.92h6.68v5.57h-6.68zM106.62 622.92h6.68v5.57h-6.68zM114.40 622.92h6.68v5.57h-6.68zM122.17 622.92h6.68v5.57h-6.68zM129.95 622.92h6.68v5.57h-6.68zM137.73 622.92h6.68v5.57h-6.68zM145.50 622.92h6.68v5.57h-6.68zM153.28 622.92h6.68v5.57h-6.68zM161.05 622.92h6.68v5.57h-6.68zM168.83 622.92h6.68v5.57h-6.68zM176.60 622.92h6.68v5.57h-6.68zM184.38 622.92h6.68v5.57h-6.68zM192.15 622.92h6.68v5.57h-6.68zM199.93 622.92h6.68v5.57h-6.68zM207.70 622.92h6.68v5.57h-6.68zM215.48 622.92h6.68v5.57h-6.68zM223.25 622.92h6.68v5.57h-6.68zM231.03 622.92h6.68v5.57h-6.68zM238.80 622.92h6.68v5.57h-6.68zM246.58 622.92h6.68v5.57h-6.68zM254.35 622.92h6.68v5.57h-6.68zM262.12 622.92h6.68v5.57h-6.68zM269.90 622.92h6.68v5.57h-6.68zM277.68 622.92h6.68v5.57h-6.68zM285.45 622.92h6.68v5.57h-6.68zM293.23 622.92h6.68v5.57h-6.68zM301.00 622.92h6.68v5.57h-6.68zM308.78 622.92h6.68v5.57h-6.68zM5.55 629.58h6.68v5.57h-6.68zM13.33 629.58h6.68v5.57h-6.68zM28.88 629.58h6.68v5.57h-6.68zM36.65 629.58h6.68v5.57h-6.68zM44.42 629.58h6.68v5.57h-6.68zM52.20 629.58h6.68v5.57h-6.68zM59.98 629.58h6.68v5.57h-6.68zM67.75 629.58h6.68v5.57h-6.68zM83.30 629.58h6.68v5.57h-6.68zM91.08 629.58h6.68v5.57h-6.68zM98.85 629.58h6.68v5.57h-6.68zM106.62 629.58h6.68v5.57h-6.68zM114.40 629.58h6.68v5.57h-6.68zM122.17 629.58h6.68v5.57h-6.68zM129.95 629.58h6.68v5.57h-6.68zM137.73 629.58h6.68v5.57h-6.68zM145.50 629.58h6.68v5.57h-6.68zM153.28 629.58h6.68v5.57h-6.68zM161.05 629.58h6.68v5.57h-6.68zM168.83 629.58h6.68v5.57h-6.68zM176.60 629.58h6.68v5.57h-6.68zM184.38 629.58h6.68v5.57h-6.68zM192.15 629.58h6.68v5.57h-6.68zM199.93 629.58h6.68v5.57h-6.68zM207.70 629.58h6.68v5.57h-6.68zM215.48 629.58h6.68v5.57h-6.68zM223.25 629.58h6.68v5.57h-6.68zM231.03 629.58h6.68v5.57h-6.68zM238.80 629.58h6.68v5.57h-6.68zM246.58 629.58h6.68v5.57h-6.68zM254.35 629.58h6.68v5.57h-6.68zM262.12 629.58h6.68v5.57h-6.68zM269.90 629.58h6.68v5.57h-6.68zM277.68 629.58h6.68v5.57h-6.68zM285.45 629.58h6.68v5.57h-6.68zM293.23 629.58h6.68v5.57h-6.68zM301.00 629.58h6.68v5.57h-6.68zM308.78 629.58h6.68v5.57h-6.68zM5.55 636.25h6.68v5.57h-6.68zM13.33 636.25h6.68v5.57h-6.68zM36.65 636.25h6.68v5.57h-6.68zM44.42 636.25h6.68v5.57h-6.68zM52.20 636.25h6.68v5.57h-6.68zM59.98 636.25h6.68v5.57h-6.68zM67.75 636.25h6.68v5.57h-6.68zM75.53 636.25h6.68v5.57h-6.68zM83.30 636.25h6.68v5.57h-6.68zM91.08 636.25h6.68v5.57h-6.68zM98.85 636.25h6.68v5.57h-6.68zM106.62 636.25h6.68v5.57h-6.68zM114.40 636.25h6.68v5.57h-6.68zM122.17 636.25h6.68v5.57h-6.68zM129.95 636.25h6.68v5.57h-6.68zM137.73 636.25h6.68v5.57h-6.68zM153.28 636.25h6.68v5.57h-6.68zM161.05 636.25h6.68v5.57h-6.68zM168.83 636.25h6.68v5.57h-6.68zM176.60 636.25h6.68v5.57h-6.68zM184.38 636.25h6.68v5.57h-6.68zM192.15 636.25h6.68v5.57h-6.68zM199.93 636.25h6.68v5.57h-6.68zM207.70 636.25h6.68v5.57h-6.68zM215.48 636.25h6.68v5.57h-6.68zM223.25 636.25h6.68v5.57h-6.68zM231.03 636.25h6.68v5.57h-6.68zM238.80 636.25h6.68v5.57h-6.68zM246.58 636.25h6.68v5.57h-6.68zM254.35 636.25h6.68v5.57h-6.68zM262.12 636.25h6.68v5.57h-6.68zM269.90 636.25h6.68v5.57h-6.68zM277.68 636.25h6.68v5.57h-6.68zM285.45 636.25h6.68v5.57h-6.68zM293.23 636.25h6.68v5.57h-6.68zM301.00 636.25h6.68v5.57h-6.68zM308.78 636.25h6.68v5.57h-6.68zM5.55 642.91h6.68v5.57h-6.68zM13.33 642.91h6.68v5.57h-6.68zM36.65 642.91h6.68v5.57h-6.68zM44.42 642.91h6.68v5.57h-6.68zM52.20 642.91h6.68v5.57h-6.68zM59.98 642.91h6.68v5.57h-6.68zM67.75 642.91h6.68v5.57h-6.68zM75.53 642.91h6.68v5.57h-6.68zM83.30 642.91h6.68v5.57h-6.68zM98.85 642.91h6.68v5.57h-6.68zM106.62 642.91h6.68v5.57h-6.68zM122.17 642.91h6.68v5.57h-6.68zM129.95 642.91h6.68v5.57h-6.68zM137.73 642.91h6.68v5.57h-6.68zM145.50 642.91h6.68v5.57h-6.68zM153.28 642.91h6.68v5.57h-6.68zM161.05 642.91h6.68v5.57h-6.68zM168.83 642.91h6.68v5.57h-6.68zM184.38 642.91h6.68v5.57h-6.68zM192.15 642.91h6.68v5.57h-6.68zM207.70 642.91h6.68v5.57h-6.68zM215.48 642.91h6.68v5.57h-6.68zM223.25 642.91h6.68v5.57h-6.68zM231.03 642.91h6.68v5.57h-6.68zM238.80 642.91h6.68v5.57h-6.68zM246.58 642.91h6.68v5.57h-6.68zM254.35 642.91h6.68v5.57h-6.68zM262.12 642.91h6.68v5.57h-6.68zM269.90 642.91h6.68v5.57h-6.68zM277.68 642.91h6.68v5.57h-6.68zM285.45 642.91h6.68v5.57h-6.68zM293.23 642.91h6.68v5.57h-6.68zM301.00 642.91h6.68v5.57h-6.68zM308.78 642.91h6.68v5.57h-6.68zM36.65 649.58h6.68v5.57h-6.68zM44.42 649.58h6.68v5.57h-6.68zM52.20 649.58h6.68v5.57h-6.68zM59.98 649.58h6.68v5.57h-6.68zM67.75 649.58h6.68v5.57h-6.68zM75.53 649.58h6.68v5.57h-6.68zM83.30 649.58h6.68v5.57h-6.68zM91.08 649.58h6.68v5.57h-6.68zM98.85 649.58h6.68v5.57h-6.68zM106.62 649.58h6.68v5.57h-6.68zM114.40 649.58h6.68v5.57h-6.68zM122.17 649.58h6.68v5.57h-6.68zM129.95 649.58h6.68v5.57h-6.68zM137.73 649.58h6.68v5.57h-6.68zM145.50 649.58h6.68v5.57h-6.68zM153.28 649.58h6.68v5.57h-6.68zM161.05 649.58h6.68v5.57h-6.68zM168.83 649.58h6.68v5.57h-6.68zM176.60 649.58h6.68v5.57h-6.68zM184.38 649.58h6.68v5.57h-6.68zM192.15 649.58h6.68v5.57h-6.68zM207.70 649.58h6.68v5.57h-6.68zM215.48 649.58h6.68v5.57h-6.68zM223.25 649.58h6.68v5.57h-6.68zM231.03 649.58h6.68v5.57h-6.68zM238.80 649.58h6.68v5.57h-6.68zM246.58 649.58h6.68v5.57h-6.68zM254.35 649.58h6.68v5.57h-6.68zM262.12 649.58h6.68v5.57h-6.68zM269.90 649.58h6.68v5.57h-6.68zM277.68 649.58h6.68v5.57h-6.68zM285.45 649.58h6.68v5.57h-6.68zM293.23 649.58h6.68v5.57h-6.68zM301.00 649.58h6.68v5.57h-6.68zM308.78 649.58h6.68v5.57h-6.68zM5.55 656.24h6.68v5.57h-6.68zM13.33 656.24h6.68v5.57h-6.68zM44.42 656.24h6.68v5.57h-6.68zM52.20 656.24h6.68v5.57h-6.68zM59.98 656.24h6.68v5.57h-6.68zM67.75 656.24h6.68v5.57h-6.68zM75.53 656.24h6.68v5.57h-6.68zM83.30 656.24h6.68v5.57h-6.68zM98.85 656.24h6.68v5.57h-6.68zM106.62 656.24h6.68v5.57h-6.68zM114.40 656.24h6.68v5.57h-6.68zM122.17 656.24h6.68v5.57h-6.68zM129.95 656.24h6.68v5.57h-6.68zM137.73 656.24h6.68v5.57h-6.68zM145.50 656.24h6.68v5.57h-6.68zM153.28 656.24h6.68v5.57h-6.68zM161.05 656.24h6.68v5.57h-6.68zM168.83 656.24h6.68v5.57h-6.68zM184.38 656.24h6.68v5.57h-6.68zM192.15 656.24h6.68v5.57h-6.68zM199.93 656.24h6.68v5.57h-6.68zM207.70 656.24h6.68v5.57h-6.68zM215.48 656.24h6.68v5.57h-6.68zM223.25 656.24h6.68v5.57h-6.68zM231.03 656.24h6.68v5.57h-6.68zM238.80 656.24h6.68v5.57h-6.68zM246.58 656.24h6.68v5.57h-6.68zM254.35 656.24h6.68v5.57h-6.68zM262.12 656.24h6.68v5.57h-6.68zM269.90 656.24h6.68v5.57h-6.68zM277.68 656.24h6.68v5.57h-6.68zM285.45 656.24h6.68v5.57h-6.68zM293.23 656.24h6.68v5.57h-6.68zM301.00 656.24h6.68v5.57h-6.68zM308.78 656.24h6.68v5.57h-6.68zM5.55 662.91h6.68v5.57h-6.68zM13.33 662.91h6.68v5.57h-6.68zM21.10 662.91h6.68v5.57h-6.68zM28.88 662.91h6.68v5.57h-6.68zM36.65 662.91h6.68v5.57h-6.68zM59.98 662.91h6.68v5.57h-6.68zM67.75 662.91h6.68v5.57h-6.68zM75.53 662.91h6.68v5.57h-6.68zM83.30 662.91h6.68v5.57h-6.68zM91.08 662.91h6.68v5.57h-6.68zM98.85 662.91h6.68v5.57h-6.68zM106.62 662.91h6.68v5.57h-6.68zM114.40 662.91h6.68v5.57h-6.68zM122.17 662.91h6.68v5.57h-6.68zM129.95 662.91h6.68v5.57h-6.68zM137.73 662.91h6.68v5.57h-6.68zM145.50 662.91h6.68v5.57h-6.68zM153.28 662.91h6.68v5.57h-6.68zM161.05 662.91h6.68v5.57h-6.68zM168.83 662.91h6.68v5.57h-6.68zM176.60 662.91h6.68v5.57h-6.68zM184.38 662.91h6.68v5.57h-6.68zM192.15 662.91h6.68v5.57h-6.68zM199.93 662.91h6.68v5.57h-6.68zM207.70 662.91h6.68v5.57h-6.68zM215.48 662.91h6.68v5.57h-6.68zM223.25 662.91h6.68v5.57h-6.68zM231.03 662.91h6.68v5.57h-6.68zM238.80 662.91h6.68v5.57h-6.68zM246.58 662.91h6.68v5.57h-6.68zM254.35 662.91h6.68v5.57h-6.68zM262.12 662.91h6.68v5.57h-6.68zM269.90 662.91h6.68v5.57h-6.68zM277.68 662.91h6.68v5.57h-6.68zM285.45 662.91h6.68v5.57h-6.68zM293.23 662.91h6.68v5.57h-6.68zM301.00 662.91h6.68v5.57h-6.68zM308.78 662.91h6.68v5.57h-6.68zM5.55 669.57h6.68v5.57h-6.68zM13.33 669.57h6.68v5.57h-6.68zM21.10 669.57h6.68v5.57h-6.68zM28.88 669.57h6.68v5.57h-6.68zM36.65 669.57h6.68v5.57h-6.68zM59.98 669.57h6.68v5.57h-6.68zM67.75 669.57h6.68v5.57h-6.68zM75.53 669.57h6.68v5.57h-6.68zM83.30 669.57h6.68v5.57h-6.68zM91.08 669.57h6.68v5.57h-6.68zM98.85 669.57h6.68v5.57h-6.68zM106.62 669.57h6.68v5.57h-6.68zM114.40 669.57h6.68v5.57h-6.68zM122.17 669.57h6.68v5.57h-6.68zM129.95 669.57h6.68v5.57h-6.68zM137.73 669.57h6.68v5.57h-6.68zM145.50 669.57h6.68v5.57h-6.68zM153.28 669.57h6.68v5.57h-6.68zM161.05 669.57h6.68v5.57h-6.68zM168.83 669.57h6.68v5.57h-6.68zM176.60 669.57h6.68v5.57h-6.68zM184.38 669.57h6.68v5.57h-6.68zM192.15 669.57h6.68v5.57h-6.68zM199.93 669.57h6.68v5.57h-6.68zM207.70 669.57h6.68v5.57h-6.68zM215.48 669.57h6.68v5.57h-6.68zM223.25 669.57h6.68v5.57h-6.68zM231.03 669.57h6.68v5.57h-6.68zM238.80 669.57h6.68v5.57h-6.68zM246.58 669.57h6.68v5.57h-6.68zM254.35 669.57h6.68v5.57h-6.68zM262.12 669.57h6.68v5.57h-6.68zM269.90 669.57h6.68v5.57h-6.68zM277.68 669.57h6.68v5.57h-6.68zM285.45 669.57h6.68v5.57h-6.68zM293.23 669.57h6.68v5.57h-6.68zM301.00 669.57h6.68v5.57h-6.68zM308.78 669.57h6.68v5.57h-6.68zM5.55 676.24h6.68v5.57h-6.68zM13.33 676.24h6.68v5.57h-6.68zM21.10 676.24h6.68v5.57h-6.68zM28.88 676.24h6.68v5.57h-6.68zM36.65 676.24h6.68v5.57h-6.68zM67.75 676.24h6.68v5.57h-6.68zM75.53 676.24h6.68v5.57h-6.68zM83.30 676.24h6.68v5.57h-6.68zM91.08 676.24h6.68v5.57h-6.68zM98.85 676.24h6.68v5.57h-6.68zM106.62 676.24h6.68v5.57h-6.68zM114.40 676.24h6.68v5.57h-6.68zM122.17 676.24h6.68v5.57h-6.68zM129.95 676.24h6.68v5.57h-6.68zM137.73 676.24h6.68v5.57h-6.68zM145.50 676.24h6.68v5.57h-6.68zM153.28 676.24h6.68v5.57h-6.68zM161.05 676.24h6.68v5.57h-6.68zM168.83 676.24h6.68v5.57h-6.68zM176.60 676.24h6.68v5.57h-6.68zM184.38 676.24h6.68v5.57h-6.68zM192.15 676.24h6.68v5.57h-6.68zM199.93 676.24h6.68v5.57h-6.68zM207.70 676.24h6.68v5.57h-6.68zM215.48 676.24h6.68v5.57h-6.68zM223.25 676.24h6.68v5.57h-6.68zM231.03 676.24h6.68v5.57h-6.68zM238.80 676.24h6.68v5.57h-6.68zM246.58 676.24h6.68v5.57h-6.68zM254.35 676.24h6.68v5.57h-6.68zM262.12 676.24h6.68v5.57h-6.68zM269.90 676.24h6.68v5.57h-6.68zM277.68 676.24h6.68v5.57h-6.68zM285.45 676.24h6.68v5.57h-6.68zM293.23 676.24h6.68v5.57h-6.68zM301.00 676.24h6.68v5.57h-6.68zM308.78 676.24h6.68v5.57h-6.68zM5.55 682.91h6.68v5.57h-6.68zM13.33 682.91h6.68v5.57h-6.68zM21.10 682.91h6.68v5.57h-6.68zM28.88 682.91h6.68v5.57h-6.68zM36.65 682.91h6.68v5.57h-6.68zM44.42 682.91h6.68v5.57h-6.68zM52.20 682.91h6.68v5.57h-6.68zM59.98 682.91h6.68v5.57h-6.68zM83.30 682.91h6.68v5.57h-6.68zM91.08 682.91h6.68v5.57h-6.68zM98.85 682.91h6.68v5.57h-6.68zM106.62 682.91h6.68v5.57h-6.68zM114.40 682.91h6.68v5.57h-6.68zM122.17 682.91h6.68v5.57h-6.68zM129.95 682.91h6.68v5.57h-6.68zM137.73 682.91h6.68v5.57h-6.68zM145.50 682.91h6.68v5.57h-6.68zM153.28 682.91h6.68v5.57h-6.68zM161.05 682.91h6.68v5.57h-6.68zM168.83 682.91h6.68v5.57h-6.68zM176.60 682.91h6.68v5.57h-6.68zM184.38 682.91h6.68v5.57h-6.68zM192.15 682.91h6.68v5.57h-6.68zM199.93 682.91h6.68v5.57h-6.68zM207.70 682.91h6.68v5.57h-6.68zM215.48 682.91h6.68v5.57h-6.68zM223.25 682.91h6.68v5.57h-6.68zM231.03 682.91h6.68v5.57h-6.68zM238.80 682.91h6.68v5.57h-6.68zM246.58 682.91h6.68v5.57h-6.68zM254.35 682.91h6.68v5.57h-6.68zM262.12 682.91h6.68v5.57h-6.68zM269.90 682.91h6.68v5.57h-6.68zM277.68 682.91h6.68v5.57h-6.68zM285.45 682.91h6.68v5.57h-6.68zM293.23 682.91h6.68v5.57h-6.68zM301.00 682.91h6.68v5.57h-6.68zM308.78 682.91h6.68v5.57h-6.68zM5.55 689.57h6.68v5.57h-6.68zM13.33 689.57h6.68v5.57h-6.68zM21.10 689.57h6.68v5.57h-6.68zM28.88 689.57h6.68v5.57h-6.68zM36.65 689.57h6.68v5.57h-6.68zM44.42 689.57h6.68v5.57h-6.68zM52.20 689.57h6.68v5.57h-6.68zM59.98 689.57h6.68v5.57h-6.68zM67.75 689.57h6.68v5.57h-6.68zM75.53 689.57h6.68v5.57h-6.68zM98.85 689.57h6.68v5.57h-6.68zM106.62 689.57h6.68v5.57h-6.68zM114.40 689.57h6.68v5.57h-6.68zM122.17 689.57h6.68v5.57h-6.68zM129.95 689.57h6.68v5.57h-6.68zM137.73 689.57h6.68v5.57h-6.68zM145.50 689.57h6.68v5.57h-6.68zM153.28 689.57h6.68v5.57h-6.68zM161.05 689.57h6.68v5.57h-6.68zM168.83 689.57h6.68v5.57h-6.68zM176.60 689.57h6.68v5.57h-6.68zM184.38 689.57h6.68v5.57h-6.68zM192.15 689.57h6.68v5.57h-6.68zM199.93 689.57h6.68v5.57h-6.68zM207.70 689.57h6.68v5.57h-6.68zM215.48 689.57h6.68v5.57h-6.68zM223.25 689.57h6.68v5.57h-6.68zM231.03 689.57h6.68v5.57h-6.68zM238.80 689.57h6.68v5.57h-6.68zM246.58 689.57h6.68v5.57h-6.68zM254.35 689.57h6.68v5.57h-6.68zM262.12 689.57h6.68v5.57h-6.68zM269.90 689.57h6.68v5.57h-6.68zM277.68 689.57h6.68v5.57h-6.68zM285.45 689.57h6.68v5.57h-6.68zM293.23 689.57h6.68v5.57h-6.68zM301.00 689.57h6.68v5.57h-6.68zM308.78 689.57h6.68v5.57h-6.68zM5.55 696.24h6.68v5.57h-6.68zM13.33 696.24h6.68v5.57h-6.68zM21.10 696.24h6.68v5.57h-6.68zM28.88 696.24h6.68v5.57h-6.68zM36.65 696.24h6.68v5.57h-6.68zM44.42 696.24h6.68v5.57h-6.68zM52.20 696.24h6.68v5.57h-6.68zM59.98 696.24h6.68v5.57h-6.68zM67.75 696.24h6.68v5.57h-6.68zM75.53 696.24h6.68v5.57h-6.68zM98.85 696.24h6.68v5.57h-6.68zM106.62 696.24h6.68v5.57h-6.68zM114.40 696.24h6.68v5.57h-6.68zM122.17 696.24h6.68v5.57h-6.68zM129.95 696.24h6.68v5.57h-6.68zM137.73 696.24h6.68v5.57h-6.68zM145.50 696.24h6.68v5.57h-6.68zM153.28 696.24h6.68v5.57h-6.68zM161.05 696.24h6.68v5.57h-6.68zM168.83 696.24h6.68v5.57h-6.68zM176.60 696.24h6.68v5.57h-6.68zM184.38 696.24h6.68v5.57h-6.68zM192.15 696.24h6.68v5.57h-6.68zM199.93 696.24h6.68v5.57h-6.68zM207.70 696.24h6.68v5.57h-6.68zM215.48 696.24h6.68v5.57h-6.68zM223.25 696.24h6.68v5.57h-6.68zM231.03 696.24h6.68v5.57h-6.68zM238.80 696.24h6.68v5.57h-6.68zM246.58 696.24h6.68v5.57h-6.68zM254.35 696.24h6.68v5.57h-6.68zM262.12 696.24h6.68v5.57h-6.68zM269.90 696.24h6.68v5.57h-6.68zM277.68 696.24h6.68v5.57h-6.68zM285.45 696.24h6.68v5.57h-6.68zM293.23 696.24h6.68v5.57h-6.68zM301.00 696.24h6.68v5.57h-6.68zM308.78 696.24h6.68v5.57h-6.68zM5.55 702.90h6.68v5.57h-6.68zM13.33 702.90h6.68v5.57h-6.68zM21.10 702.90h6.68v5.57h-6.68zM28.88 702.90h6.68v5.57h-6.68zM36.65 702.90h6.68v5.57h-6.68zM44.42 702.90h6.68v5.57h-6.68zM52.20 702.90h6.68v5.57h-6.68zM59.98 702.90h6.68v5.57h-6.68zM67.75 702.90h6.68v5.57h-6.68zM75.53 702.90h6.68v5.57h-6.68zM98.85 702.90h6.68v5.57h-6.68zM114.40 702.90h6.68v5.57h-6.68zM122.17 702.90h6.68v5.57h-6.68zM129.95 702.90h6.68v5.57h-6.68zM137.73 702.90h6.68v5.57h-6.68zM145.50 702.90h6.68v5.57h-6.68zM153.28 702.90h6.68v5.57h-6.68zM161.05 702.90h6.68v5.57h-6.68zM168.83 702.90h6.68v5.57h-6.68zM176.60 702.90h6.68v5.57h-6.68zM184.38 702.90h6.68v5.57h-6.68zM192.15 702.90h6.68v5.57h-6.68zM199.93 702.90h6.68v5.57h-6.68zM207.70 702.90h6.68v5.57h-6.68zM215.48 702.90h6.68v5.57h-6.68zM223.25 702.90h6.68v5.57h-6.68zM231.03 702.90h6.68v5.57h-6.68zM238.80 702.90h6.68v5.57h-6.68zM246.58 702.90h6.68v5.57h-6.68zM254.35 702.90h6.68v5.57h-6.68zM262.12 702.90h6.68v5.57h-6.68zM269.90 702.90h6.68v5.57h-6.68zM277.68 702.90h6.68v5.57h-6.68zM285.45 702.90h6.68v5.57h-6.68zM293.23 702.90h6.68v5.57h-6.68zM301.00 702.90h6.68v5.57h-6.68zM308.78 702.90h6.68v5.57h-6.68zM5.55 709.57h6.68v5.57h-6.68zM13.33 709.57h6.68v5.57h-6.68zM21.10 709.57h6.68v5.57h-6.68zM28.88 709.57h6.68v5.57h-6.68zM36.65 709.57h6.68v5.57h-6.68zM44.42 709.57h6.68v5.57h-6.68zM52.20 709.57h6.68v5.57h-6.68zM59.98 709.57h6.68v5.57h-6.68zM67.75 709.57h6.68v5.57h-6.68zM75.53 709.57h6.68v5.57h-6.68zM83.30 709.57h6.68v5.57h-6.68zM106.62 709.57h6.68v5.57h-6.68zM114.40 709.57h6.68v5.57h-6.68zM122.17 709.57h6.68v5.57h-6.68zM129.95 709.57h6.68v5.57h-6.68zM137.73 709.57h6.68v5.57h-6.68zM145.50 709.57h6.68v5.57h-6.68zM153.28 709.57h6.68v5.57h-6.68zM161.05 709.57h6.68v5.57h-6.68zM168.83 709.57h6.68v5.57h-6.68zM176.60 709.57h6.68v5.57h-6.68zM184.38 709.57h6.68v5.57h-6.68zM192.15 709.57h6.68v5.57h-6.68zM199.93 709.57h6.68v5.57h-6.68zM207.70 709.57h6.68v5.57h-6.68zM215.48 709.57h6.68v5.57h-6.68zM223.25 709.57h6.68v5.57h-6.68zM231.03 709.57h6.68v5.57h-6.68zM238.80 709.57h6.68v5.57h-6.68zM246.58 709.57h6.68v5.57h-6.68zM254.35 709.57h6.68v5.57h-6.68zM262.12 709.57h6.68v5.57h-6.68zM269.90 709.57h6.68v5.57h-6.68zM277.68 709.57h6.68v5.57h-6.68zM285.45 709.57h6.68v5.57h-6.68zM293.23 709.57h6.68v5.57h-6.68zM301.00 709.57h6.68v5.57h-6.68zM308.78 709.57h6.68v5.57h-6.68zM5.55 716.23h6.68v5.57h-6.68zM13.33 716.23h6.68v5.57h-6.68zM21.10 716.23h6.68v5.57h-6.68zM28.88 716.23h6.68v5.57h-6.68zM36.65 716.23h6.68v5.57h-6.68zM44.42 716.23h6.68v5.57h-6.68zM52.20 716.23h6.68v5.57h-6.68zM59.98 716.23h6.68v5.57h-6.68zM67.75 716.23h6.68v5.57h-6.68zM75.53 716.23h6.68v5.57h-6.68zM83.30 716.23h6.68v5.57h-6.68zM91.08 716.23h6.68v5.57h-6.68zM98.85 716.23h6.68v5.57h-6.68zM106.62 716.23h6.68v5.57h-6.68zM122.17 716.23h6.68v5.57h-6.68zM129.95 716.23h6.68v5.57h-6.68zM153.28 716.23h6.68v5.57h-6.68zM161.05 716.23h6.68v5.57h-6.68zM168.83 716.23h6.68v5.57h-6.68zM176.60 716.23h6.68v5.57h-6.68zM184.38 716.23h6.68v5.57h-6.68zM192.15 716.23h6.68v5.57h-6.68zM199.93 716.23h6.68v5.57h-6.68zM207.70 716.23h6.68v5.57h-6.68zM215.48 716.23h6.68v5.57h-6.68zM223.25 716.23h6.68v5.57h-6.68zM231.03 716.23h6.68v5.57h-6.68zM238.80 716.23h6.68v5.57h-6.68zM246.58 716.23h6.68v5.57h-6.68zM254.35 716.23h6.68v5.57h-6.68zM262.12 716.23h6.68v5.57h-6.68zM269.90 716.23h6.68v5.57h-6.68zM277.68 716.23h6.68v5.57h-6.68zM285.45 716.23h6.68v5.57h-6.68zM293.23 716.23h6.68v5.57h-6.68zM301.00 716.23h6.68v5.57h-6.68zM308.78 716.23h6.68v5.57h-6.68zM5.55 722.90h6.68v5.57h-6.68zM13.33 722.90h6.68v5.57h-6.68zM21.10 722.90h6.68v5.57h-6.68zM28.88 722.90h6.68v5.57h-6.68zM36.65 722.90h6.68v5.57h-6.68zM44.42 722.90h6.68v5.57h-6.68zM52.20 722.90h6.68v5.57h-6.68zM59.98 722.90h6.68v5.57h-6.68zM67.75 722.90h6.68v5.57h-6.68zM75.53 722.90h6.68v5.57h-6.68zM83.30 722.90h6.68v5.57h-6.68zM91.08 722.90h6.68v5.57h-6.68zM98.85 722.90h6.68v5.57h-6.68zM106.62 722.90h6.68v5.57h-6.68zM114.40 722.90h6.68v5.57h-6.68zM137.73 722.90h6.68v5.57h-6.68zM153.28 722.90h6.68v5.57h-6.68zM161.05 722.90h6.68v5.57h-6.68zM168.83 722.90h6.68v5.57h-6.68zM176.60 722.90h6.68v5.57h-6.68zM184.38 722.90h6.68v5.57h-6.68zM192.15 722.90h6.68v5.57h-6.68zM199.93 722.90h6.68v5.57h-6.68zM207.70 722.90h6.68v5.57h-6.68zM215.48 722.90h6.68v5.57h-6.68zM223.25 722.90h6.68v5.57h-6.68zM231.03 722.90h6.68v5.57h-6.68zM238.80 722.90h6.68v5.57h-6.68zM246.58 722.90h6.68v5.57h-6.68zM254.35 722.90h6.68v5.57h-6.68zM262.12 722.90h6.68v5.57h-6.68zM269.90 722.90h6.68v5.57h-6.68zM277.68 722.90h6.68v5.57h-6.68zM285.45 722.90h6.68v5.57h-6.68zM293.23 722.90h6.68v5.57h-6.68zM301.00 722.90h6.68v5.57h-6.68zM308.78 722.90h6.68v5.57h-6.68zM5.55 729.56h6.68v5.57h-6.68zM13.33 729.56h6.68v5.57h-6.68zM21.10 729.56h6.68v5.57h-6.68zM28.88 729.56h6.68v5.57h-6.68zM36.65 729.56h6.68v5.57h-6.68zM44.42 729.56h6.68v5.57h-6.68zM52.20 729.56h6.68v5.57h-6.68zM59.98 729.56h6.68v5.57h-6.68zM67.75 729.56h6.68v5.57h-6.68zM75.53 729.56h6.68v5.57h-6.68zM83.30 729.56h6.68v5.57h-6.68zM91.08 729.56h6.68v5.57h-6.68zM98.85 729.56h6.68v5.57h-6.68zM106.62 729.56h6.68v5.57h-6.68zM114.40 729.56h6.68v5.57h-6.68zM122.17 729.56h6.68v5.57h-6.68zM129.95 729.56h6.68v5.57h-6.68zM137.73 729.56h6.68v5.57h-6.68zM145.50 729.56h6.68v5.57h-6.68zM153.28 729.56h6.68v5.57h-6.68zM184.38 729.56h6.68v5.57h-6.68zM192.15 729.56h6.68v5.57h-6.68zM199.93 729.56h6.68v5.57h-6.68zM207.70 729.56h6.68v5.57h-6.68zM215.48 729.56h6.68v5.57h-6.68zM223.25 729.56h6.68v5.57h-6.68zM231.03 729.56h6.68v5.57h-6.68zM238.80 729.56h6.68v5.57h-6.68zM246.58 729.56h6.68v5.57h-6.68zM254.35 729.56h6.68v5.57h-6.68zM262.12 729.56h6.68v5.57h-6.68zM269.90 729.56h6.68v5.57h-6.68zM277.68 729.56h6.68v5.57h-6.68zM285.45 729.56h6.68v5.57h-6.68zM293.23 729.56h6.68v5.57h-6.68zM301.00 729.56h6.68v5.57h-6.68zM308.78 729.56h6.68v5.57h-6.68zM5.55 736.23h6.68v5.57h-6.68zM13.33 736.23h6.68v5.57h-6.68zM21.10 736.23h6.68v5.57h-6.68zM28.88 736.23h6.68v5.57h-6.68zM36.65 736.23h6.68v5.57h-6.68zM44.42 736.23h6.68v5.57h-6.68zM52.20 736.23h6.68v5.57h-6.68zM59.98 736.23h6.68v5.57h-6.68zM67.75 736.23h6.68v5.57h-6.68zM75.53 736.23h6.68v5.57h-6.68zM83.30 736.23h6.68v5.57h-6.68zM91.08 736.23h6.68v5.57h-6.68zM98.85 736.23h6.68v5.57h-6.68zM106.62 736.23h6.68v5.57h-6.68zM114.40 736.23h6.68v5.57h-6.68zM122.17 736.23h6.68v5.57h-6.68zM129.95 736.23h6.68v5.57h-6.68zM137.73 736.23h6.68v5.57h-6.68zM145.50 736.23h6.68v5.57h-6.68zM168.83 736.23h6.68v5.57h-6.68zM184.38 736.23h6.68v5.57h-6.68zM192.15 736.23h6.68v5.57h-6.68zM199.93 736.23h6.68v5.57h-6.68zM207.70 736.23h6.68v5.57h-6.68zM215.48 736.23h6.68v5.57h-6.68zM223.25 736.23h6.68v5.57h-6.68zM231.03 736.23h6.68v5.57h-6.68zM238.80 736.23h6.68v5.57h-6.68zM246.58 736.23h6.68v5.57h-6.68zM254.35 736.23h6.68v5.57h-6.68zM262.12 736.23h6.68v5.57h-6.68zM269.90 736.23h6.68v5.57h-6.68zM277.68 736.23h6.68v5.57h-6.68zM285.45 736.23h6.68v5.57h-6.68zM293.23 736.23h6.68v5.57h-6.68zM301.00 736.23h6.68v5.57h-6.68zM308.78 736.23h6.68v5.57h-6.68zM5.55 742.89h6.68v5.57h-6.68zM13.33 742.89h6.68v5.57h-6.68zM21.10 742.89h6.68v5.57h-6.68zM28.88 742.89h6.68v5.57h-6.68zM36.65 742.89h6.68v5.57h-6.68zM44.42 742.89h6.68v5.57h-6.68zM52.20 742.89h6.68v5.57h-6.68zM59.98 742.89h6.68v5.57h-6.68zM67.75 742.89h6.68v5.57h-6.68zM75.53 742.89h6.68v5.57h-6.68zM83.30 742.89h6.68v5.57h-6.68zM91.08 742.89h6.68v5.57h-6.68zM98.85 742.89h6.68v5.57h-6.68zM106.62 742.89h6.68v5.57h-6.68zM114.40 742.89h6.68v5.57h-6.68zM122.17 742.89h6.68v5.57h-6.68zM129.95 742.89h6.68v5.57h-6.68zM137.73 742.89h6.68v5.57h-6.68zM145.50 742.89h6.68v5.57h-6.68zM161.05 742.89h6.68v5.57h-6.68zM168.83 742.89h6.68v5.57h-6.68zM184.38 742.89h6.68v5.57h-6.68zM192.15 742.89h6.68v5.57h-6.68zM199.93 742.89h6.68v5.57h-6.68zM207.70 742.89h6.68v5.57h-6.68zM215.48 742.89h6.68v5.57h-6.68zM223.25 742.89h6.68v5.57h-6.68zM231.03 742.89h6.68v5.57h-6.68zM238.80 742.89h6.68v5.57h-6.68zM246.58 742.89h6.68v5.57h-6.68zM254.35 742.89h6.68v5.57h-6.68zM262.12 742.89h6.68v5.57h-6.68zM269.90 742.89h6.68v5.57h-6.68zM277.68 742.89h6.68v5.57h-6.68zM285.45 742.89h6.68v5.57h-6.68zM293.23 742.89h6.68v5.57h-6.68zM301.00 742.89h6.68v5.57h-6.68zM308.78 742.89h6.68v5.57h-6.68zM5.55 749.56h6.68v5.57h-6.68zM13.33 749.56h6.68v5.57h-6.68zM21.10 749.56h6.68v5.57h-6.68zM28.88 749.56h6.68v5.57h-6.68zM36.65 749.56h6.68v5.57h-6.68zM44.42 749.56h6.68v5.57h-6.68zM52.20 749.56h6.68v5.57h-6.68zM59.98 749.56h6.68v5.57h-6.68zM67.75 749.56h6.68v5.57h-6.68zM75.53 749.56h6.68v5.57h-6.68zM83.30 749.56h6.68v5.57h-6.68zM91.08 749.56h6.68v5.57h-6.68zM98.85 749.56h6.68v5.57h-6.68zM106.62 749.56h6.68v5.57h-6.68zM114.40 749.56h6.68v5.57h-6.68zM122.17 749.56h6.68v5.57h-6.68zM129.95 749.56h6.68v5.57h-6.68zM137.73 749.56h6.68v5.57h-6.68zM145.50 749.56h6.68v5.57h-6.68zM153.28 749.56h6.68v5.57h-6.68zM161.05 749.56h6.68v5.57h-6.68zM168.83 749.56h6.68v5.57h-6.68zM176.60 749.56h6.68v5.57h-6.68zM199.93 749.56h6.68v5.57h-6.68zM207.70 749.56h6.68v5.57h-6.68zM215.48 749.56h6.68v5.57h-6.68zM223.25 749.56h6.68v5.57h-6.68zM231.03 749.56h6.68v5.57h-6.68zM238.80 749.56h6.68v5.57h-6.68zM246.58 749.56h6.68v5.57h-6.68zM254.35 749.56h6.68v5.57h-6.68zM262.12 749.56h6.68v5.57h-6.68zM269.90 749.56h6.68v5.57h-6.68zM277.68 749.56h6.68v5.57h-6.68zM285.45 749.56h6.68v5.57h-6.68zM293.23 749.56h6.68v5.57h-6.68zM301.00 749.56h6.68v5.57h-6.68zM308.78 749.56h6.68v5.57h-6.68zM5.55 756.23h6.68v5.57h-6.68zM13.33 756.23h6.68v5.57h-6.68zM21.10 756.23h6.68v5.57h-6.68zM28.88 756.23h6.68v5.57h-6.68zM36.65 756.23h6.68v5.57h-6.68zM44.42 756.23h6.68v5.57h-6.68zM52.20 756.23h6.68v5.57h-6.68zM59.98 756.23h6.68v5.57h-6.68zM67.75 756.23h6.68v5.57h-6.68zM75.53 756.23h6.68v5.57h-6.68zM83.30 756.23h6.68v5.57h-6.68zM91.08 756.23h6.68v5.57h-6.68zM98.85 756.23h6.68v5.57h-6.68zM106.62 756.23h6.68v5.57h-6.68zM114.40 756.23h6.68v5.57h-6.68zM122.17 756.23h6.68v5.57h-6.68zM129.95 756.23h6.68v5.57h-6.68zM137.73 756.23h6.68v5.57h-6.68zM145.50 756.23h6.68v5.57h-6.68zM161.05 756.23h6.68v5.57h-6.68zM168.83 756.23h6.68v5.57h-6.68zM176.60 756.23h6.68v5.57h-6.68zM199.93 756.23h6.68v5.57h-6.68zM207.70 756.23h6.68v5.57h-6.68zM215.48 756.23h6.68v5.57h-6.68zM223.25 756.23h6.68v5.57h-6.68zM231.03 756.23h6.68v5.57h-6.68zM238.80 756.23h6.68v5.57h-6.68zM246.58 756.23h6.68v5.57h-6.68zM254.35 756.23h6.68v5.57h-6.68zM262.12 756.23h6.68v5.57h-6.68zM269.90 756.23h6.68v5.57h-6.68zM277.68 756.23h6.68v5.57h-6.68zM285.45 756.23h6.68v5.57h-6.68zM293.23 756.23h6.68v5.57h-6.68zM301.00 756.23h6.68v5.57h-6.68zM308.78 756.23h6.68v5.57h-6.68zM5.55 762.89h6.68v5.57h-6.68zM13.33 762.89h6.68v5.57h-6.68zM21.10 762.89h6.68v5.57h-6.68zM28.88 762.89h6.68v5.57h-6.68zM36.65 762.89h6.68v5.57h-6.68zM44.42 762.89h6.68v5.57h-6.68zM52.20 762.89h6.68v5.57h-6.68zM59.98 762.89h6.68v5.57h-6.68zM67.75 762.89h6.68v5.57h-6.68zM75.53 762.89h6.68v5.57h-6.68zM83.30 762.89h6.68v5.57h-6.68zM91.08 762.89h6.68v5.57h-6.68zM98.85 762.89h6.68v5.57h-6.68zM106.62 762.89h6.68v5.57h-6.68zM114.40 762.89h6.68v5.57h-6.68zM122.17 762.89h6.68v5.57h-6.68zM129.95 762.89h6.68v5.57h-6.68zM137.73 762.89h6.68v5.57h-6.68zM145.50 762.89h6.68v5.57h-6.68zM153.28 762.89h6.68v5.57h-6.68zM161.05 762.89h6.68v5.57h-6.68zM168.83 762.89h6.68v5.57h-6.68zM176.60 762.89h6.68v5.57h-6.68zM199.93 762.89h6.68v5.57h-6.68zM207.70 762.89h6.68v5.57h-6.68zM215.48 762.89h6.68v5.57h-6.68zM223.25 762.89h6.68v5.57h-6.68zM231.03 762.89h6.68v5.57h-6.68zM238.80 762.89h6.68v5.57h-6.68zM246.58 762.89h6.68v5.57h-6.68zM254.35 762.89h6.68v5.57h-6.68zM262.12 762.89h6.68v5.57h-6.68zM269.90 762.89h6.68v5.57h-6.68zM277.68 762.89h6.68v5.57h-6.68zM285.45 762.89h6.68v5.57h-6.68zM293.23 762.89h6.68v5.57h-6.68zM301.00 762.89h6.68v5.57h-6.68zM308.78 762.89h6.68v5.57h-6.68zM5.55 769.56h6.68v5.57h-6.68zM13.33 769.56h6.68v5.57h-6.68zM21.10 769.56h6.68v5.57h-6.68zM28.88 769.56h6.68v5.57h-6.68zM36.65 769.56h6.68v5.57h-6.68zM44.42 769.56h6.68v5.57h-6.68zM52.20 769.56h6.68v5.57h-6.68zM59.98 769.56h6.68v5.57h-6.68zM67.75 769.56h6.68v5.57h-6.68zM75.53 769.56h6.68v5.57h-6.68zM83.30 769.56h6.68v5.57h-6.68zM91.08 769.56h6.68v5.57h-6.68zM98.85 769.56h6.68v5.57h-6.68zM106.62 769.56h6.68v5.57h-6.68zM114.40 769.56h6.68v5.57h-6.68zM122.17 769.56h6.68v5.57h-6.68zM129.95 769.56h6.68v5.57h-6.68zM137.73 769.56h6.68v5.57h-6.68zM145.50 769.56h6.68v5.57h-6.68zM153.28 769.56h6.68v5.57h-6.68zM161.05 769.56h6.68v5.57h-6.68zM168.83 769.56h6.68v5.57h-6.68zM176.60 769.56h6.68v5.57h-6.68zM199.93 769.56h6.68v5.57h-6.68zM207.70 769.56h6.68v5.57h-6.68zM215.48 769.56h6.68v5.57h-6.68zM223.25 769.56h6.68v5.57h-6.68zM231.03 769.56h6.68v5.57h-6.68zM238.80 769.56h6.68v5.57h-6.68zM246.58 769.56h6.68v5.57h-6.68zM254.35 769.56h6.68v5.57h-6.68zM262.12 769.56h6.68v5.57h-6.68zM269.90 769.56h6.68v5.57h-6.68zM277.68 769.56h6.68v5.57h-6.68zM285.45 769.56h6.68v5.57h-6.68zM293.23 769.56h6.68v5.57h-6.68zM301.00 769.56h6.68v5.57h-6.68zM308.78 769.56h6.68v5.57h-6.68zM5.55 776.22h6.68v5.57h-6.68zM13.33 776.22h6.68v5.57h-6.68zM21.10 776.22h6.68v5.57h-6.68zM28.88 776.22h6.68v5.57h-6.68zM36.65 776.22h6.68v5.57h-6.68zM44.42 776.22h6.68v5.57h-6.68zM52.20 776.22h6.68v5.57h-6.68zM59.98 776.22h6.68v5.57h-6.68zM67.75 776.22h6.68v5.57h-6.68zM75.53 776.22h6.68v5.57h-6.68zM83.30 776.22h6.68v5.57h-6.68zM91.08 776.22h6.68v5.57h-6.68zM98.85 776.22h6.68v5.57h-6.68zM106.62 776.22h6.68v5.57h-6.68zM114.40 776.22h6.68v5.57h-6.68zM122.17 776.22h6.68v5.57h-6.68zM129.95 776.22h6.68v5.57h-6.68zM137.73 776.22h6.68v5.57h-6.68zM145.50 776.22h6.68v5.57h-6.68zM153.28 776.22h6.68v5.57h-6.68zM161.05 776.22h6.68v5.57h-6.68zM168.83 776.22h6.68v5.57h-6.68zM176.60 776.22h6.68v5.57h-6.68zM184.38 776.22h6.68v5.57h-6.68zM192.15 776.22h6.68v5.57h-6.68zM238.80 776.22h6.68v5.57h-6.68zM246.58 776.22h6.68v5.57h-6.68zM254.35 776.22h6.68v5.57h-6.68zM262.12 776.22h6.68v5.57h-6.68zM269.90 776.22h6.68v5.57h-6.68zM277.68 776.22h6.68v5.57h-6.68zM285.45 776.22h6.68v5.57h-6.68zM293.23 776.22h6.68v5.57h-6.68zM301.00 776.22h6.68v5.57h-6.68zM308.78 776.22h6.68v5.57h-6.68zM5.55 782.89h6.68v5.57h-6.68zM13.33 782.89h6.68v5.57h-6.68zM21.10 782.89h6.68v5.57h-6.68zM28.88 782.89h6.68v5.57h-6.68zM36.65 782.89h6.68v5.57h-6.68zM44.42 782.89h6.68v5.57h-6.68zM52.20 782.89h6.68v5.57h-6.68zM59.98 782.89h6.68v5.57h-6.68zM67.75 782.89h6.68v5.57h-6.68zM75.53 782.89h6.68v5.57h-6.68zM83.30 782.89h6.68v5.57h-6.68zM91.08 782.89h6.68v5.57h-6.68zM98.85 782.89h6.68v5.57h-6.68zM106.62 782.89h6.68v5.57h-6.68zM114.40 782.89h6.68v5.57h-6.68zM122.17 782.89h6.68v5.57h-6.68zM129.95 782.89h6.68v5.57h-6.68zM137.73 782.89h6.68v5.57h-6.68zM145.50 782.89h6.68v5.57h-6.68zM153.28 782.89h6.68v5.57h-6.68zM161.05 782.89h6.68v5.57h-6.68zM168.83 782.89h6.68v5.57h-6.68zM176.60 782.89h6.68v5.57h-6.68zM184.38 782.89h6.68v5.57h-6.68zM192.15 782.89h6.68v5.57h-6.68zM215.48 782.89h6.68v5.57h-6.68zM223.25 782.89h6.68v5.57h-6.68zM231.03 782.89h6.68v5.57h-6.68zM238.80 782.89h6.68v5.57h-6.68zM246.58 782.89h6.68v5.57h-6.68zM254.35 782.89h6.68v5.57h-6.68zM262.12 782.89h6.68v5.57h-6.68zM269.90 782.89h6.68v5.57h-6.68zM277.68 782.89h6.68v5.57h-6.68zM285.45 782.89h6.68v5.57h-6.68zM293.23 782.89h6.68v5.57h-6.68zM301.00 782.89h6.68v5.57h-6.68zM308.78 782.89h6.68v5.57h-6.68zM5.55 789.55h6.68v5.57h-6.68zM13.33 789.55h6.68v5.57h-6.68zM21.10 789.55h6.68v5.57h-6.68zM28.88 789.55h6.68v5.57h-6.68zM36.65 789.55h6.68v5.57h-6.68zM44.42 789.55h6.68v5.57h-6.68zM52.20 789.55h6.68v5.57h-6.68zM59.98 789.55h6.68v5.57h-6.68zM67.75 789.55h6.68v5.57h-6.68zM75.53 789.55h6.68v5.57h-6.68zM83.30 789.55h6.68v5.57h-6.68zM91.08 789.55h6.68v5.57h-6.68zM98.85 789.55h6.68v5.57h-6.68zM106.62 789.55h6.68v5.57h-6.68zM114.40 789.55h6.68v5.57h-6.68zM122.17 789.55h6.68v5.57h-6.68zM129.95 789.55h6.68v5.57h-6.68zM137.73 789.55h6.68v5.57h-6.68zM145.50 789.55h6.68v5.57h-6.68zM153.28 789.55h6.68v5.57h-6.68zM161.05 789.55h6.68v5.57h-6.68zM168.83 789.55h6.68v5.57h-6.68zM176.60 789.55h6.68v5.57h-6.68zM184.38 789.55h6.68v5.57h-6.68zM192.15 789.55h6.68v5.57h-6.68zM215.48 789.55h6.68v5.57h-6.68zM238.80 789.55h6.68v5.57h-6.68zM246.58 789.55h6.68v5.57h-6.68zM254.35 789.55h6.68v5.57h-6.68zM262.12 789.55h6.68v5.57h-6.68zM269.90 789.55h6.68v5.57h-6.68zM277.68 789.55h6.68v5.57h-6.68zM285.45 789.55h6.68v5.57h-6.68zM293.23 789.55h6.68v5.57h-6.68zM301.00 789.55h6.68v5.57h-6.68zM308.78 789.55h6.68v5.57h-6.68zM5.55 796.22h6.68v5.57h-6.68zM13.33 796.22h6.68v5.57h-6.68zM21.10 796.22h6.68v5.57h-6.68zM28.88 796.22h6.68v5.57h-6.68zM36.65 796.22h6.68v5.57h-6.68zM44.42 796.22h6.68v5.57h-6.68zM52.20 796.22h6.68v5.57h-6.68zM59.98 796.22h6.68v5.57h-6.68zM67.75 796.22h6.68v5.57h-6.68zM75.53 796.22h6.68v5.57h-6.68zM83.30 796.22h6.68v5.57h-6.68zM91.08 796.22h6.68v5.57h-6.68zM98.85 796.22h6.68v5.57h-6.68zM106.62 796.22h6.68v5.57h-6.68zM114.40 796.22h6.68v5.57h-6.68zM122.17 796.22h6.68v5.57h-6.68zM129.95 796.22h6.68v5.57h-6.68zM137.73 796.22h6.68v5.57h-6.68zM145.50 796.22h6.68v5.57h-6.68zM153.28 796.22h6.68v5.57h-6.68zM161.05 796.22h6.68v5.57h-6.68zM168.83 796.22h6.68v5.57h-6.68zM176.60 796.22h6.68v5.57h-6.68zM184.38 796.22h6.68v5.57h-6.68zM192.15 796.22h6.68v5.57h-6.68zM215.48 796.22h6.68v5.57h-6.68zM223.25 796.22h6.68v5.57h-6.68zM231.03 796.22h6.68v5.57h-6.68zM238.80 796.22h6.68v5.57h-6.68zM246.58 796.22h6.68v5.57h-6.68zM254.35 796.22h6.68v5.57h-6.68zM262.12 796.22h6.68v5.57h-6.68zM269.90 796.22h6.68v5.57h-6.68zM277.68 796.22h6.68v5.57h-6.68zM285.45 796.22h6.68v5.57h-6.68zM293.23 796.22h6.68v5.57h-6.68zM301.00 796.22h6.68v5.57h-6.68zM308.78 796.22h6.68v5.57h-6.68zM5.55 802.88h6.68v5.57h-6.68zM13.33 802.88h6.68v5.57h-6.68zM21.10 802.88h6.68v5.57h-6.68zM28.88 802.88h6.68v5.57h-6.68zM36.65 802.88h6.68v5.57h-6.68zM44.42 802.88h6.68v5.57h-6.68zM52.20 802.88h6.68v5.57h-6.68zM59.98 802.88h6.68v5.57h-6.68zM67.75 802.88h6.68v5.57h-6.68zM75.53 802.88h6.68v5.57h-6.68zM83.30 802.88h6.68v5.57h-6.68zM91.08 802.88h6.68v5.57h-6.68zM98.85 802.88h6.68v5.57h-6.68zM106.62 802.88h6.68v5.57h-6.68zM114.40 802.88h6.68v5.57h-6.68zM122.17 802.88h6.68v5.57h-6.68zM129.95 802.88h6.68v5.57h-6.68zM137.73 802.88h6.68v5.57h-6.68zM145.50 802.88h6.68v5.57h-6.68zM153.28 802.88h6.68v5.57h-6.68zM161.05 802.88h6.68v5.57h-6.68zM168.83 802.88h6.68v5.57h-6.68zM176.60 802.88h6.68v5.57h-6.68zM184.38 802.88h6.68v5.57h-6.68zM192.15 802.88h6.68v5.57h-6.68zM215.48 802.88h6.68v5.57h-6.68zM223.25 802.88h6.68v5.57h-6.68zM231.03 802.88h6.68v5.57h-6.68zM238.80 802.88h6.68v5.57h-6.68zM246.58 802.88h6.68v5.57h-6.68zM254.35 802.88h6.68v5.57h-6.68zM262.12 802.88h6.68v5.57h-6.68zM269.90 802.88h6.68v5.57h-6.68zM277.68 802.88h6.68v5.57h-6.68zM285.45 802.88h6.68v5.57h-6.68zM293.23 802.88h6.68v5.57h-6.68zM301.00 802.88h6.68v5.57h-6.68zM308.78 802.88h6.68v5.57h-6.68zM5.55 809.55h6.68v5.57h-6.68zM13.33 809.55h6.68v5.57h-6.68zM21.10 809.55h6.68v5.57h-6.68zM28.88 809.55h6.68v5.57h-6.68zM36.65 809.55h6.68v5.57h-6.68zM44.42 809.55h6.68v5.57h-6.68zM52.20 809.55h6.68v5.57h-6.68zM59.98 809.55h6.68v5.57h-6.68zM67.75 809.55h6.68v5.57h-6.68zM75.53 809.55h6.68v5.57h-6.68zM83.30 809.55h6.68v5.57h-6.68zM91.08 809.55h6.68v5.57h-6.68zM98.85 809.55h6.68v5.57h-6.68zM106.62 809.55h6.68v5.57h-6.68zM114.40 809.55h6.68v5.57h-6.68zM122.17 809.55h6.68v5.57h-6.68zM129.95 809.55h6.68v5.57h-6.68zM137.73 809.55h6.68v5.57h-6.68zM145.50 809.55h6.68v5.57h-6.68zM153.28 809.55h6.68v5.57h-6.68zM161.05 809.55h6.68v5.57h-6.68zM168.83 809.55h6.68v5.57h-6.68zM176.60 809.55h6.68v5.57h-6.68zM184.38 809.55h6.68v5.57h-6.68zM192.15 809.55h6.68v5.57h-6.68zM215.48 809.55h6.68v5.57h-6.68zM223.25 809.55h6.68v5.57h-6.68zM231.03 809.55h6.68v5.57h-6.68zM238.80 809.55h6.68v5.57h-6.68zM246.58 809.55h6.68v5.57h-6.68zM254.35 809.55h6.68v5.57h-6.68zM262.12 809.55h6.68v5.57h-6.68zM269.90 809.55h6.68v5.57h-6.68zM277.68 809.55h6.68v5.57h-6.68zM285.45 809.55h6.68v5.57h-6.68zM293.23 809.55h6.68v5.57h-6.68zM301.00 809.55h6.68v5.57h-6.68zM308.78 809.55h6.68v5.57h-6.68zM5.55 816.22h6.68v5.57h-6.68zM13.33 816.22h6.68v5.57h-6.68zM21.10 816.22h6.68v5.57h-6.68zM28.88 816.22h6.68v5.57h-6.68zM36.65 816.22h6.68v5.57h-6.68zM44.42 816.22h6.68v5.57h-6.68zM52.20 816.22h6.68v5.57h-6.68zM59.98 816.22h6.68v5.57h-6.68zM67.75 816.22h6.68v5.57h-6.68zM75.53 816.22h6.68v5.57h-6.68zM83.30 816.22h6.68v5.57h-6.68zM91.08 816.22h6.68v5.57h-6.68zM98.85 816.22h6.68v5.57h-6.68zM106.62 816.22h6.68v5.57h-6.68zM114.40 816.22h6.68v5.57h-6.68zM122.17 816.22h6.68v5.57h-6.68zM129.95 816.22h6.68v5.57h-6.68zM137.73 816.22h6.68v5.57h-6.68zM145.50 816.22h6.68v5.57h-6.68zM153.28 816.22h6.68v5.57h-6.68zM161.05 816.22h6.68v5.57h-6.68zM168.83 816.22h6.68v5.57h-6.68zM176.60 816.22h6.68v5.57h-6.68zM184.38 816.22h6.68v5.57h-6.68zM192.15 816.22h6.68v5.57h-6.68zM246.58 816.22h6.68v5.57h-6.68zM254.35 816.22h6.68v5.57h-6.68zM262.12 816.22h6.68v5.57h-6.68zM269.90 816.22h6.68v5.57h-6.68zM277.68 816.22h6.68v5.57h-6.68zM285.45 816.22h6.68v5.57h-6.68zM293.23 816.22h6.68v5.57h-6.68zM301.00 816.22h6.68v5.57h-6.68zM308.78 816.22h6.68v5.57h-6.68zM5.55 822.88h6.68v5.57h-6.68zM13.33 822.88h6.68v5.57h-6.68zM21.10 822.88h6.68v5.57h-6.68zM28.88 822.88h6.68v5.57h-6.68zM36.65 822.88h6.68v5.57h-6.68zM44.42 822.88h6.68v5.57h-6.68zM52.20 822.88h6.68v5.57h-6.68zM59.98 822.88h6.68v5.57h-6.68zM67.75 822.88h6.68v5.57h-6.68zM75.53 822.88h6.68v5.57h-6.68zM83.30 822.88h6.68v5.57h-6.68zM91.08 822.88h6.68v5.57h-6.68zM98.85 822.88h6.68v5.57h-6.68zM106.62 822.88h6.68v5.57h-6.68zM114.40 822.88h6.68v5.57h-6.68zM122.17 822.88h6.68v5.57h-6.68zM129.95 822.88h6.68v5.57h-6.68zM137.73 822.88h6.68v5.57h-6.68zM145.50 822.88h6.68v5.57h-6.68zM153.28 822.88h6.68v5.57h-6.68zM161.05 822.88h6.68v5.57h-6.68zM168.83 822.88h6.68v5.57h-6.68zM176.60 822.88h6.68v5.57h-6.68zM184.38 822.88h6.68v5.57h-6.68zM192.15 822.88h6.68v5.57h-6.68zM207.70 822.88h6.68v5.57h-6.68zM223.25 822.88h6.68v5.57h-6.68zM231.03 822.88h6.68v5.57h-6.68zM238.80 822.88h6.68v5.57h-6.68zM246.58 822.88h6.68v5.57h-6.68zM254.35 822.88h6.68v5.57h-6.68zM262.12 822.88h6.68v5.57h-6.68zM269.90 822.88h6.68v5.57h-6.68zM277.68 822.88h6.68v5.57h-6.68zM285.45 822.88h6.68v5.57h-6.68zM293.23 822.88h6.68v5.57h-6.68zM301.00 822.88h6.68v5.57h-6.68zM308.78 822.88h6.68v5.57h-6.68zM5.55 829.55h6.68v5.57h-6.68zM13.33 829.55h6.68v5.57h-6.68zM21.10 829.55h6.68v5.57h-6.68zM28.88 829.55h6.68v5.57h-6.68zM36.65 829.55h6.68v5.57h-6.68zM44.42 829.55h6.68v5.57h-6.68zM52.20 829.55h6.68v5.57h-6.68zM59.98 829.55h6.68v5.57h-6.68zM67.75 829.55h6.68v5.57h-6.68zM75.53 829.55h6.68v5.57h-6.68zM83.30 829.55h6.68v5.57h-6.68zM91.08 829.55h6.68v5.57h-6.68zM98.85 829.55h6.68v5.57h-6.68zM106.62 829.55h6.68v5.57h-6.68zM114.40 829.55h6.68v5.57h-6.68zM122.17 829.55h6.68v5.57h-6.68zM129.95 829.55h6.68v5.57h-6.68zM137.73 829.55h6.68v5.57h-6.68zM145.50 829.55h6.68v5.57h-6.68zM153.28 829.55h6.68v5.57h-6.68zM161.05 829.55h6.68v5.57h-6.68zM168.83 829.55h6.68v5.57h-6.68zM176.60 829.55h6.68v5.57h-6.68zM184.38 829.55h6.68v5.57h-6.68zM192.15 829.55h6.68v5.57h-6.68zM207.70 829.55h6.68v5.57h-6.68zM215.48 829.55h6.68v5.57h-6.68zM238.80 829.55h6.68v5.57h-6.68zM246.58 829.55h6.68v5.57h-6.68zM254.35 829.55h6.68v5.57h-6.68zM262.12 829.55h6.68v5.57h-6.68zM269.90 829.55h6.68v5.57h-6.68zM277.68 829.55h6.68v5.57h-6.68zM285.45 829.55h6.68v5.57h-6.68zM293.23 829.55h6.68v5.57h-6.68zM301.00 829.55h6.68v5.57h-6.68zM308.78 829.55h6.68v5.57h-6.68zM5.55 836.21h6.68v5.57h-6.68zM13.33 836.21h6.68v5.57h-6.68zM21.10 836.21h6.68v5.57h-6.68zM28.88 836.21h6.68v5.57h-6.68zM44.42 836.21h6.68v5.57h-6.68zM52.20 836.21h6.68v5.57h-6.68zM59.98 836.21h6.68v5.57h-6.68zM67.75 836.21h6.68v5.57h-6.68zM75.53 836.21h6.68v5.57h-6.68zM83.30 836.21h6.68v5.57h-6.68zM91.08 836.21h6.68v5.57h-6.68zM98.85 836.21h6.68v5.57h-6.68zM106.62 836.21h6.68v5.57h-6.68zM114.40 836.21h6.68v5.57h-6.68zM122.17 836.21h6.68v5.57h-6.68zM129.95 836.21h6.68v5.57h-6.68zM137.73 836.21h6.68v5.57h-6.68zM145.50 836.21h6.68v5.57h-6.68zM153.28 836.21h6.68v5.57h-6.68zM161.05 836.21h6.68v5.57h-6.68zM168.83 836.21h6.68v5.57h-6.68zM176.60 836.21h6.68v5.57h-6.68zM184.38 836.21h6.68v5.57h-6.68zM192.15 836.21h6.68v5.57h-6.68zM223.25 836.21h6.68v5.57h-6.68zM231.03 836.21h6.68v5.57h-6.68zM246.58 836.21h6.68v5.57h-6.68zM254.35 836.21h6.68v5.57h-6.68zM262.12 836.21h6.68v5.57h-6.68zM269.90 836.21h6.68v5.57h-6.68zM277.68 836.21h6.68v5.57h-6.68zM285.45 836.21h6.68v5.57h-6.68zM293.23 836.21h6.68v5.57h-6.68zM301.00 836.21h6.68v5.57h-6.68zM308.78 836.21h6.68v5.57h-6.68zM5.55 842.88h6.68v5.57h-6.68zM13.33 842.88h6.68v5.57h-6.68zM28.88 842.88h6.68v5.57h-6.68zM36.65 842.88h6.68v5.57h-6.68zM44.42 842.88h6.68v5.57h-6.68zM52.20 842.88h6.68v5.57h-6.68zM59.98 842.88h6.68v5.57h-6.68zM67.75 842.88h6.68v5.57h-6.68zM75.53 842.88h6.68v5.57h-6.68zM83.30 842.88h6.68v5.57h-6.68zM91.08 842.88h6.68v5.57h-6.68zM98.85 842.88h6.68v5.57h-6.68zM106.62 842.88h6.68v5.57h-6.68zM114.40 842.88h6.68v5.57h-6.68zM122.17 842.88h6.68v5.57h-6.68zM129.95 842.88h6.68v5.57h-6.68zM137.73 842.88h6.68v5.57h-6.68zM145.50 842.88h6.68v5.57h-6.68zM153.28 842.88h6.68v5.57h-6.68zM161.05 842.88h6.68v5.57h-6.68zM168.83 842.88h6.68v5.57h-6.68zM176.60 842.88h6.68v5.57h-6.68zM184.38 842.88h6.68v5.57h-6.68zM192.15 842.88h6.68v5.57h-6.68zM207.70 842.88h6.68v5.57h-6.68zM238.80 842.88h6.68v5.57h-6.68zM246.58 842.88h6.68v5.57h-6.68zM254.35 842.88h6.68v5.57h-6.68zM262.12 842.88h6.68v5.57h-6.68zM269.90 842.88h6.68v5.57h-6.68zM277.68 842.88h6.68v5.57h-6.68zM285.45 842.88h6.68v5.57h-6.68zM293.23 842.88h6.68v5.57h-6.68zM301.00 842.88h6.68v5.57h-6.68zM308.78 842.88h6.68v5.57h-6.68zM5.55 849.54h6.68v5.57h-6.68zM13.33 849.54h6.68v5.57h-6.68zM21.10 849.54h6.68v5.57h-6.68zM28.88 849.54h6.68v5.57h-6.68zM36.65 849.54h6.68v5.57h-6.68zM44.42 849.54h6.68v5.57h-6.68zM52.20 849.54h6.68v5.57h-6.68zM59.98 849.54h6.68v5.57h-6.68zM67.75 849.54h6.68v5.57h-6.68zM75.53 849.54h6.68v5.57h-6.68zM83.30 849.54h6.68v5.57h-6.68zM91.08 849.54h6.68v5.57h-6.68zM98.85 849.54h6.68v5.57h-6.68zM106.62 849.54h6.68v5.57h-6.68zM114.40 849.54h6.68v5.57h-6.68zM122.17 849.54h6.68v5.57h-6.68zM129.95 849.54h6.68v5.57h-6.68zM137.73 849.54h6.68v5.57h-6.68zM145.50 849.54h6.68v5.57h-6.68zM153.28 849.54h6.68v5.57h-6.68zM161.05 849.54h6.68v5.57h-6.68zM168.83 849.54h6.68v5.57h-6.68zM176.60 849.54h6.68v5.57h-6.68zM184.38 849.54h6.68v5.57h-6.68zM192.15 849.54h6.68v5.57h-6.68zM199.93 849.54h6.68v5.57h-6.68zM207.70 849.54h6.68v5.57h-6.68zM215.48 849.54h6.68v5.57h-6.68zM223.25 849.54h6.68v5.57h-6.68zM231.03 849.54h6.68v5.57h-6.68zM246.58 849.54h6.68v5.57h-6.68zM254.35 849.54h6.68v5.57h-6.68zM262.12 849.54h6.68v5.57h-6.68zM269.90 849.54h6.68v5.57h-6.68zM277.68 849.54h6.68v5.57h-6.68zM285.45 849.54h6.68v5.57h-6.68zM293.23 849.54h6.68v5.57h-6.68zM301.00 849.54h6.68v5.57h-6.68zM308.78 849.54h6.68v5.57h-6.68zM5.55 856.21h6.68v5.57h-6.68zM13.33 856.21h6.68v5.57h-6.68zM21.10 856.21h6.68v5.57h-6.68zM28.88 856.21h6.68v5.57h-6.68zM36.65 856.21h6.68v5.57h-6.68zM44.42 856.21h6.68v5.57h-6.68zM52.20 856.21h6.68v5.57h-6.68zM59.98 856.21h6.68v5.57h-6.68zM67.75 856.21h6.68v5.57h-6.68zM75.53 856.21h6.68v5.57h-6.68zM83.30 856.21h6.68v5.57h-6.68zM91.08 856.21h6.68v5.57h-6.68zM98.85 856.21h6.68v5.57h-6.68zM106.62 856.21h6.68v5.57h-6.68zM114.40 856.21h6.68v5.57h-6.68zM122.17 856.21h6.68v5.57h-6.68zM129.95 856.21h6.68v5.57h-6.68zM137.73 856.21h6.68v5.57h-6.68zM145.50 856.21h6.68v5.57h-6.68zM153.28 856.21h6.68v5.57h-6.68zM161.05 856.21h6.68v5.57h-6.68zM168.83 856.21h6.68v5.57h-6.68zM176.60 856.21h6.68v5.57h-6.68zM184.38 856.21h6.68v5.57h-6.68zM192.15 856.21h6.68v5.57h-6.68zM199.93 856.21h6.68v5.57h-6.68zM207.70 856.21h6.68v5.57h-6.68zM215.48 856.21h6.68v5.57h-6.68zM223.25 856.21h6.68v5.57h-6.68zM231.03 856.21h6.68v5.57h-6.68zM246.58 856.21h6.68v5.57h-6.68zM254.35 856.21h6.68v5.57h-6.68zM262.12 856.21h6.68v5.57h-6.68zM269.90 856.21h6.68v5.57h-6.68zM277.68 856.21h6.68v5.57h-6.68zM285.45 856.21h6.68v5.57h-6.68zM293.23 856.21h6.68v5.57h-6.68zM301.00 856.21h6.68v5.57h-6.68zM308.78 856.21h6.68v5.57h-6.68zM5.55 862.87h6.68v5.57h-6.68zM13.33 862.87h6.68v5.57h-6.68zM21.10 862.87h6.68v5.57h-6.68zM28.88 862.87h6.68v5.57h-6.68zM36.65 862.87h6.68v5.57h-6.68zM44.42 862.87h6.68v5.57h-6.68zM52.20 862.87h6.68v5.57h-6.68zM59.98 862.87h6.68v5.57h-6.68zM67.75 862.87h6.68v5.57h-6.68zM75.53 862.87h6.68v5.57h-6.68zM83.30 862.87h6.68v5.57h-6.68zM91.08 862.87h6.68v5.57h-6.68zM98.85 862.87h6.68v5.57h-6.68zM106.62 862.87h6.68v5.57h-6.68zM114.40 862.87h6.68v5.57h-6.68zM122.17 862.87h6.68v5.57h-6.68zM129.95 862.87h6.68v5.57h-6.68zM137.73 862.87h6.68v5.57h-6.68zM145.50 862.87h6.68v5.57h-6.68zM153.28 862.87h6.68v5.57h-6.68zM161.05 862.87h6.68v5.57h-6.68zM168.83 862.87h6.68v5.57h-6.68zM176.60 862.87h6.68v5.57h-6.68zM184.38 862.87h6.68v5.57h-6.68zM192.15 862.87h6.68v5.57h-6.68zM199.93 862.87h6.68v5.57h-6.68zM207.70 862.87h6.68v5.57h-6.68zM215.48 862.87h6.68v5.57h-6.68zM223.25 862.87h6.68v5.57h-6.68zM231.03 862.87h6.68v5.57h-6.68zM262.12 862.87h6.68v5.57h-6.68zM269.90 862.87h6.68v5.57h-6.68zM277.68 862.87h6.68v5.57h-6.68zM285.45 862.87h6.68v5.57h-6.68zM293.23 862.87h6.68v5.57h-6.68zM301.00 862.87h6.68v5.57h-6.68zM308.78 862.87h6.68v5.57h-6.68zM5.55 869.54h6.68v5.57h-6.68zM13.33 869.54h6.68v5.57h-6.68zM21.10 869.54h6.68v5.57h-6.68zM28.88 869.54h6.68v5.57h-6.68zM36.65 869.54h6.68v5.57h-6.68zM44.42 869.54h6.68v5.57h-6.68zM52.20 869.54h6.68v5.57h-6.68zM59.98 869.54h6.68v5.57h-6.68zM67.75 869.54h6.68v5.57h-6.68zM75.53 869.54h6.68v5.57h-6.68zM83.30 869.54h6.68v5.57h-6.68zM91.08 869.54h6.68v5.57h-6.68zM98.85 869.54h6.68v5.57h-6.68zM106.62 869.54h6.68v5.57h-6.68zM114.40 869.54h6.68v5.57h-6.68zM122.17 869.54h6.68v5.57h-6.68zM129.95 869.54h6.68v5.57h-6.68zM137.73 869.54h6.68v5.57h-6.68zM145.50 869.54h6.68v5.57h-6.68zM153.28 869.54h6.68v5.57h-6.68zM161.05 869.54h6.68v5.57h-6.68zM168.83 869.54h6.68v5.57h-6.68zM176.60 869.54h6.68v5.57h-6.68zM184.38 869.54h6.68v5.57h-6.68zM192.15 869.54h6.68v5.57h-6.68zM199.93 869.54h6.68v5.57h-6.68zM207.70 869.54h6.68v5.57h-6.68zM215.48 869.54h6.68v5.57h-6.68zM223.25 869.54h6.68v5.57h-6.68zM231.03 869.54h6.68v5.57h-6.68zM238.80 869.54h6.68v5.57h-6.68zM246.58 869.54h6.68v5.57h-6.68zM254.35 869.54h6.68v5.57h-6.68zM277.68 869.54h6.68v5.57h-6.68zM285.45 869.54h6.68v5.57h-6.68zM293.23 869.54h6.68v5.57h-6.68zM301.00 869.54h6.68v5.57h-6.68zM308.78 869.54h6.68v5.57h-6.68zM5.55 876.21h6.68v5.57h-6.68zM13.33 876.21h6.68v5.57h-6.68zM21.10 876.21h6.68v5.57h-6.68zM28.88 876.21h6.68v5.57h-6.68zM36.65 876.21h6.68v5.57h-6.68zM44.42 876.21h6.68v5.57h-6.68zM52.20 876.21h6.68v5.57h-6.68zM59.98 876.21h6.68v5.57h-6.68zM67.75 876.21h6.68v5.57h-6.68zM75.53 876.21h6.68v5.57h-6.68zM83.30 876.21h6.68v5.57h-6.68zM91.08 876.21h6.68v5.57h-6.68zM98.85 876.21h6.68v5.57h-6.68zM106.62 876.21h6.68v5.57h-6.68zM114.40 876.21h6.68v5.57h-6.68zM122.17 876.21h6.68v5.57h-6.68zM129.95 876.21h6.68v5.57h-6.68zM137.73 876.21h6.68v5.57h-6.68zM145.50 876.21h6.68v5.57h-6.68zM153.28 876.21h6.68v5.57h-6.68zM161.05 876.21h6.68v5.57h-6.68zM168.83 876.21h6.68v5.57h-6.68zM176.60 876.21h6.68v5.57h-6.68zM184.38 876.21h6.68v5.57h-6.68zM192.15 876.21h6.68v5.57h-6.68zM199.93 876.21h6.68v5.57h-6.68zM207.70 876.21h6.68v5.57h-6.68zM215.48 876.21h6.68v5.57h-6.68zM223.25 876.21h6.68v5.57h-6.68zM231.03 876.21h6.68v5.57h-6.68zM238.80 876.21h6.68v5.57h-6.68zM246.58 876.21h6.68v5.57h-6.68zM254.35 876.21h6.68v5.57h-6.68zM277.68 876.21h6.68v5.57h-6.68zM285.45 876.21h6.68v5.57h-6.68zM293.23 876.21h6.68v5.57h-6.68zM301.00 876.21h6.68v5.57h-6.68zM308.78 876.21h6.68v5.57h-6.68zM5.55 882.87h6.68v5.57h-6.68zM13.33 882.87h6.68v5.57h-6.68zM21.10 882.87h6.68v5.57h-6.68zM28.88 882.87h6.68v5.57h-6.68zM36.65 882.87h6.68v5.57h-6.68zM44.42 882.87h6.68v5.57h-6.68zM52.20 882.87h6.68v5.57h-6.68zM59.98 882.87h6.68v5.57h-6.68zM67.75 882.87h6.68v5.57h-6.68zM75.53 882.87h6.68v5.57h-6.68zM83.30 882.87h6.68v5.57h-6.68zM91.08 882.87h6.68v5.57h-6.68zM98.85 882.87h6.68v5.57h-6.68zM106.62 882.87h6.68v5.57h-6.68zM114.40 882.87h6.68v5.57h-6.68zM122.17 882.87h6.68v5.57h-6.68zM129.95 882.87h6.68v5.57h-6.68zM137.73 882.87h6.68v5.57h-6.68zM145.50 882.87h6.68v5.57h-6.68zM153.28 882.87h6.68v5.57h-6.68zM161.05 882.87h6.68v5.57h-6.68zM168.83 882.87h6.68v5.57h-6.68zM176.60 882.87h6.68v5.57h-6.68zM184.38 882.87h6.68v5.57h-6.68zM192.15 882.87h6.68v5.57h-6.68zM199.93 882.87h6.68v5.57h-6.68zM207.70 882.87h6.68v5.57h-6.68zM215.48 882.87h6.68v5.57h-6.68zM223.25 882.87h6.68v5.57h-6.68zM231.03 882.87h6.68v5.57h-6.68zM238.80 882.87h6.68v5.57h-6.68zM246.58 882.87h6.68v5.57h-6.68zM254.35 882.87h6.68v5.57h-6.68zM285.45 882.87h6.68v5.57h-6.68zM293.23 882.87h6.68v5.57h-6.68zM301.00 882.87h6.68v5.57h-6.68zM308.78 882.87h6.68v5.57h-6.68zM5.55 889.54h6.68v5.57h-6.68zM13.33 889.54h6.68v5.57h-6.68zM21.10 889.54h6.68v5.57h-6.68zM28.88 889.54h6.68v5.57h-6.68zM36.65 889.54h6.68v5.57h-6.68zM44.42 889.54h6.68v5.57h-6.68zM52.20 889.54h6.68v5.57h-6.68zM59.98 889.54h6.68v5.57h-6.68zM67.75 889.54h6.68v5.57h-6.68zM75.53 889.54h6.68v5.57h-6.68zM83.30 889.54h6.68v5.57h-6.68zM91.08 889.54h6.68v5.57h-6.68zM98.85 889.54h6.68v5.57h-6.68zM106.62 889.54h6.68v5.57h-6.68zM114.40 889.54h6.68v5.57h-6.68zM122.17 889.54h6.68v5.57h-6.68zM129.95 889.54h6.68v5.57h-6.68zM137.73 889.54h6.68v5.57h-6.68zM145.50 889.54h6.68v5.57h-6.68zM153.28 889.54h6.68v5.57h-6.68zM161.05 889.54h6.68v5.57h-6.68zM168.83 889.54h6.68v5.57h-6.68zM176.60 889.54h6.68v5.57h-6.68zM184.38 889.54h6.68v5.57h-6.68zM192.15 889.54h6.68v5.57h-6.68zM199.93 889.54h6.68v5.57h-6.68zM207.70 889.54h6.68v5.57h-6.68zM215.48 889.54h6.68v5.57h-6.68zM223.25 889.54h6.68v5.57h-6.68zM231.03 889.54h6.68v5.57h-6.68zM238.80 889.54h6.68v5.57h-6.68zM246.58 889.54h6.68v5.57h-6.68zM254.35 889.54h6.68v5.57h-6.68zM262.12 889.54h6.68v5.57h-6.68zM269.90 889.54h6.68v5.57h-6.68zM277.68 889.54h6.68v5.57h-6.68zM293.23 889.54h6.68v5.57h-6.68zM301.00 889.54h6.68v5.57h-6.68zM308.78 889.54h6.68v5.57h-6.68zM5.55 896.20h6.68v5.57h-6.68zM13.33 896.20h6.68v5.57h-6.68zM21.10 896.20h6.68v5.57h-6.68zM28.88 896.20h6.68v5.57h-6.68zM36.65 896.20h6.68v5.57h-6.68zM44.42 896.20h6.68v5.57h-6.68zM52.20 896.20h6.68v5.57h-6.68zM59.98 896.20h6.68v5.57h-6.68zM67.75 896.20h6.68v5.57h-6.68zM75.53 896.20h6.68v5.57h-6.68zM83.30 896.20h6.68v5.57h-6.68zM91.08 896.20h6.68v5.57h-6.68zM98.85 896.20h6.68v5.57h-6.68zM106.62 896.20h6.68v5.57h-6.68zM114.40 896.20h6.68v5.57h-6.68zM122.17 896.20h6.68v5.57h-6.68zM129.95 896.20h6.68v5.57h-6.68zM137.73 896.20h6.68v5.57h-6.68zM145.50 896.20h6.68v5.57h-6.68zM153.28 896.20h6.68v5.57h-6.68zM161.05 896.20h6.68v5.57h-6.68zM168.83 896.20h6.68v5.57h-6.68zM176.60 896.20h6.68v5.57h-6.68zM184.38 896.20h6.68v5.57h-6.68zM192.15 896.20h6.68v5.57h-6.68zM199.93 896.20h6.68v5.57h-6.68zM207.70 896.20h6.68v5.57h-6.68zM215.48 896.20h6.68v5.57h-6.68zM223.25 896.20h6.68v5.57h-6.68zM231.03 896.20h6.68v5.57h-6.68zM238.80 896.20h6.68v5.57h-6.68zM246.58 896.20h6.68v5.57h-6.68zM254.35 896.20h6.68v5.57h-6.68zM262.12 896.20h6.68v5.57h-6.68zM269.90 896.20h6.68v5.57h-6.68zM277.68 896.20h6.68v5.57h-6.68zM293.23 896.20h6.68v5.57h-6.68zM301.00 896.20h6.68v5.57h-6.68zM308.78 896.20h6.68v5.57h-6.68zM5.55 902.87h6.68v5.57h-6.68zM13.33 902.87h6.68v5.57h-6.68zM21.10 902.87h6.68v5.57h-6.68zM28.88 902.87h6.68v5.57h-6.68zM36.65 902.87h6.68v5.57h-6.68zM44.42 902.87h6.68v5.57h-6.68zM52.20 902.87h6.68v5.57h-6.68zM59.98 902.87h6.68v5.57h-6.68zM67.75 902.87h6.68v5.57h-6.68zM75.53 902.87h6.68v5.57h-6.68zM83.30 902.87h6.68v5.57h-6.68zM91.08 902.87h6.68v5.57h-6.68zM98.85 902.87h6.68v5.57h-6.68zM106.62 902.87h6.68v5.57h-6.68zM114.40 902.87h6.68v5.57h-6.68zM122.17 902.87h6.68v5.57h-6.68zM129.95 902.87h6.68v5.57h-6.68zM137.73 902.87h6.68v5.57h-6.68zM145.50 902.87h6.68v5.57h-6.68zM153.28 902.87h6.68v5.57h-6.68zM161.05 902.87h6.68v5.57h-6.68zM168.83 902.87h6.68v5.57h-6.68zM176.60 902.87h6.68v5.57h-6.68zM184.38 902.87h6.68v5.57h-6.68zM192.15 902.87h6.68v5.57h-6.68zM199.93 902.87h6.68v5.57h-6.68zM207.70 902.87h6.68v5.57h-6.68zM215.48 902.87h6.68v5.57h-6.68zM223.25 902.87h6.68v5.57h-6.68zM231.03 902.87h6.68v5.57h-6.68zM238.80 902.87h6.68v5.57h-6.68zM246.58 902.87h6.68v5.57h-6.68zM254.35 902.87h6.68v5.57h-6.68zM262.12 902.87h6.68v5.57h-6.68zM269.90 902.87h6.68v5.57h-6.68zM277.68 902.87h6.68v5.57h-6.68zM285.45 902.87h6.68v5.57h-6.68zM301.00 902.87h6.68v5.57h-6.68zM308.78 902.87h6.68v5.57h-6.68zM5.55 909.53h6.68v5.57h-6.68zM13.33 909.53h6.68v5.57h-6.68zM21.10 909.53h6.68v5.57h-6.68zM28.88 909.53h6.68v5.57h-6.68zM36.65 909.53h6.68v5.57h-6.68zM44.42 909.53h6.68v5.57h-6.68zM52.20 909.53h6.68v5.57h-6.68zM59.98 909.53h6.68v5.57h-6.68zM67.75 909.53h6.68v5.57h-6.68zM75.53 909.53h6.68v5.57h-6.68zM83.30 909.53h6.68v5.57h-6.68zM91.08 909.53h6.68v5.57h-6.68zM98.85 909.53h6.68v5.57h-6.68zM106.62 909.53h6.68v5.57h-6.68zM114.40 909.53h6.68v5.57h-6.68zM122.17 909.53h6.68v5.57h-6.68zM129.95 909.53h6.68v5.57h-6.68zM137.73 909.53h6.68v5.57h-6.68zM145.50 909.53h6.68v5.57h-6.68zM153.28 909.53h6.68v5.57h-6.68zM161.05 909.53h6.68v5.57h-6.68zM168.83 909.53h6.68v5.57h-6.68zM176.60 909.53h6.68v5.57h-6.68zM184.38 909.53h6.68v5.57h-6.68zM192.15 909.53h6.68v5.57h-6.68zM199.93 909.53h6.68v5.57h-6.68zM207.70 909.53h6.68v5.57h-6.68zM215.48 909.53h6.68v5.57h-6.68zM223.25 909.53h6.68v5.57h-6.68zM231.03 909.53h6.68v5.57h-6.68zM238.80 909.53h6.68v5.57h-6.68zM246.58 909.53h6.68v5.57h-6.68zM254.35 909.53h6.68v5.57h-6.68zM262.12 909.53h6.68v5.57h-6.68zM269.90 909.53h6.68v5.57h-6.68zM277.68 909.53h6.68v5.57h-6.68zM285.45 909.53h6.68v5.57h-6.68zM308.78 909.53h6.68v5.57h-6.68zM5.55 916.20h6.68v5.57h-6.68zM13.33 916.20h6.68v5.57h-6.68zM21.10 916.20h6.68v5.57h-6.68zM28.88 916.20h6.68v5.57h-6.68zM36.65 916.20h6.68v5.57h-6.68zM44.42 916.20h6.68v5.57h-6.68zM52.20 916.20h6.68v5.57h-6.68zM59.98 916.20h6.68v5.57h-6.68zM67.75 916.20h6.68v5.57h-6.68zM75.53 916.20h6.68v5.57h-6.68zM83.30 916.20h6.68v5.57h-6.68zM91.08 916.20h6.68v5.57h-6.68zM98.85 916.20h6.68v5.57h-6.68zM106.62 916.20h6.68v5.57h-6.68zM114.40 916.20h6.68v5.57h-6.68zM122.17 916.20h6.68v5.57h-6.68zM129.95 916.20h6.68v5.57h-6.68zM137.73 916.20h6.68v5.57h-6.68zM145.50 916.20h6.68v5.57h-6.68zM153.28 916.20h6.68v5.57h-6.68zM161.05 916.20h6.68v5.57h-6.68zM168.83 916.20h6.68v5.57h-6.68zM176.60 916.20h6.68v5.57h-6.68zM184.38 916.20h6.68v5.57h-6.68zM192.15 916.20h6.68v5.57h-6.68zM199.93 916.20h6.68v5.57h-6.68zM207.70 916.20h6.68v5.57h-6.68zM215.48 916.20h6.68v5.57h-6.68zM223.25 916.20h6.68v5.57h-6.68zM231.03 916.20h6.68v5.57h-6.68zM238.80 916.20h6.68v5.57h-6.68zM246.58 916.20h6.68v5.57h-6.68zM254.35 916.20h6.68v5.57h-6.68zM262.12 916.20h6.68v5.57h-6.68zM269.90 916.20h6.68v5.57h-6.68zM277.68 916.20h6.68v5.57h-6.68zM285.45 916.20h6.68v5.57h-6.68zM301.00 916.20h6.68v5.57h-6.68zM308.78 916.20h6.68v5.57h-6.68zM5.55 922.86h6.68v5.57h-6.68zM13.33 922.86h6.68v5.57h-6.68zM21.10 922.86h6.68v5.57h-6.68zM28.88 922.86h6.68v5.57h-6.68zM36.65 922.86h6.68v5.57h-6.68zM44.42 922.86h6.68v5.57h-6.68zM52.20 922.86h6.68v5.57h-6.68zM59.98 922.86h6.68v5.57h-6.68zM67.75 922.86h6.68v5.57h-6.68zM75.53 922.86h6.68v5.57h-6.68zM83.30 922.86h6.68v5.57h-6.68zM91.08 922.86h6.68v5.57h-6.68zM98.85 922.86h6.68v5.57h-6.68zM106.62 922.86h6.68v5.57h-6.68zM114.40 922.86h6.68v5.57h-6.68zM122.17 922.86h6.68v5.57h-6.68zM129.95 922.86h6.68v5.57h-6.68zM137.73 922.86h6.68v5.57h-6.68zM145.50 922.86h6.68v5.57h-6.68zM153.28 922.86h6.68v5.57h-6.68zM161.05 922.86h6.68v5.57h-6.68zM168.83 922.86h6.68v5.57h-6.68zM176.60 922.86h6.68v5.57h-6.68zM184.38 922.86h6.68v5.57h-6.68zM192.15 922.86h6.68v5.57h-6.68zM199.93 922.86h6.68v5.57h-6.68zM207.70 922.86h6.68v5.57h-6.68zM215.48 922.86h6.68v5.57h-6.68zM223.25 922.86h6.68v5.57h-6.68zM231.03 922.86h6.68v5.57h-6.68zM238.80 922.86h6.68v5.57h-6.68zM246.58 922.86h6.68v5.57h-6.68zM254.35 922.86h6.68v5.57h-6.68zM262.12 922.86h6.68v5.57h-6.68zM269.90 922.86h6.68v5.57h-6.68zM277.68 922.86h6.68v5.57h-6.68zM285.45 922.86h6.68v5.57h-6.68zM301.00 922.86h6.68v5.57h-6.68zM308.78 922.86h6.68v5.57h-6.68zM5.55 929.53h6.68v5.57h-6.68zM13.33 929.53h6.68v5.57h-6.68zM21.10 929.53h6.68v5.57h-6.68zM28.88 929.53h6.68v5.57h-6.68zM36.65 929.53h6.68v5.57h-6.68zM44.42 929.53h6.68v5.57h-6.68zM52.20 929.53h6.68v5.57h-6.68zM59.98 929.53h6.68v5.57h-6.68zM67.75 929.53h6.68v5.57h-6.68zM75.53 929.53h6.68v5.57h-6.68zM83.30 929.53h6.68v5.57h-6.68zM91.08 929.53h6.68v5.57h-6.68zM98.85 929.53h6.68v5.57h-6.68zM106.62 929.53h6.68v5.57h-6.68zM114.40 929.53h6.68v5.57h-6.68zM122.17 929.53h6.68v5.57h-6.68zM129.95 929.53h6.68v5.57h-6.68zM137.73 929.53h6.68v5.57h-6.68zM145.50 929.53h6.68v5.57h-6.68zM153.28 929.53h6.68v5.57h-6.68zM161.05 929.53h6.68v5.57h-6.68zM168.83 929.53h6.68v5.57h-6.68zM176.60 929.53h6.68v5.57h-6.68zM184.38 929.53h6.68v5.57h-6.68zM192.15 929.53h6.68v5.57h-6.68zM199.93 929.53h6.68v5.57h-6.68zM207.70 929.53h6.68v5.57h-6.68zM215.48 929.53h6.68v5.57h-6.68zM223.25 929.53h6.68v5.57h-6.68zM231.03 929.53h6.68v5.57h-6.68zM238.80 929.53h6.68v5.57h-6.68zM246.58 929.53h6.68v5.57h-6.68zM254.35 929.53h6.68v5.57h-6.68zM262.12 929.53h6.68v5.57h-6.68zM269.90 929.53h6.68v5.57h-6.68zM277.68 929.53h6.68v5.57h-6.68zM285.45 929.53h6.68v5.57h-6.68zM301.00 929.53h6.68v5.57h-6.68zM308.78 929.53h6.68v5.57h-6.68zM5.55 936.19h6.68v5.57h-6.68zM13.33 936.19h6.68v5.57h-6.68zM21.10 936.19h6.68v5.57h-6.68zM28.88 936.19h6.68v5.57h-6.68zM36.65 936.19h6.68v5.57h-6.68zM44.42 936.19h6.68v5.57h-6.68zM52.20 936.19h6.68v5.57h-6.68zM59.98 936.19h6.68v5.57h-6.68zM67.75 936.19h6.68v5.57h-6.68zM75.53 936.19h6.68v5.57h-6.68zM83.30 936.19h6.68v5.57h-6.68zM91.08 936.19h6.68v5.57h-6.68zM98.85 936.19h6.68v5.57h-6.68zM106.62 936.19h6.68v5.57h-6.68zM114.40 936.19h6.68v5.57h-6.68zM122.17 936.19h6.68v5.57h-6.68zM129.95 936.19h6.68v5.57h-6.68zM137.73 936.19h6.68v5.57h-6.68zM145.50 936.19h6.68v5.57h-6.68zM153.28 936.19h6.68v5.57h-6.68zM161.05 936.19h6.68v5.57h-6.68zM168.83 936.19h6.68v5.57h-6.68zM176.60 936.19h6.68v5.57h-6.68zM184.38 936.19h6.68v5.57h-6.68zM192.15 936.19h6.68v5.57h-6.68zM199.93 936.19h6.68v5.57h-6.68zM207.70 936.19h6.68v5.57h-6.68zM215.48 936.19h6.68v5.57h-6.68zM223.25 936.19h6.68v5.57h-6.68zM231.03 936.19h6.68v5.57h-6.68zM238.80 936.19h6.68v5.57h-6.68zM246.58 936.19h6.68v5.57h-6.68zM254.35 936.19h6.68v5.57h-6.68zM262.12 936.19h6.68v5.57h-6.68zM269.90 936.19h6.68v5.57h-6.68zM277.68 936.19h6.68v5.57h-6.68zM285.45 936.19h6.68v5.57h-6.68zM301.00 936.19h6.68v5.57h-6.68zM308.78 936.19h6.68v5.57h-6.68zM5.55 942.86h6.68v5.57h-6.68zM13.33 942.86h6.68v5.57h-6.68zM21.10 942.86h6.68v5.57h-6.68zM28.88 942.86h6.68v5.57h-6.68zM36.65 942.86h6.68v5.57h-6.68zM44.42 942.86h6.68v5.57h-6.68zM52.20 942.86h6.68v5.57h-6.68zM59.98 942.86h6.68v5.57h-6.68zM67.75 942.86h6.68v5.57h-6.68zM75.53 942.86h6.68v5.57h-6.68zM83.30 942.86h6.68v5.57h-6.68zM91.08 942.86h6.68v5.57h-6.68zM98.85 942.86h6.68v5.57h-6.68zM106.62 942.86h6.68v5.57h-6.68zM114.40 942.86h6.68v5.57h-6.68zM122.17 942.86h6.68v5.57h-6.68zM129.95 942.86h6.68v5.57h-6.68zM137.73 942.86h6.68v5.57h-6.68zM145.50 942.86h6.68v5.57h-6.68zM153.28 942.86h6.68v5.57h-6.68zM161.05 942.86h6.68v5.57h-6.68zM168.83 942.86h6.68v5.57h-6.68zM176.60 942.86h6.68v5.57h-6.68zM184.38 942.86h6.68v5.57h-6.68zM192.15 942.86h6.68v5.57h-6.68zM199.93 942.86h6.68v5.57h-6.68zM207.70 942.86h6.68v5.57h-6.68zM215.48 942.86h6.68v5.57h-6.68zM223.25 942.86h6.68v5.57h-6.68zM231.03 942.86h6.68v5.57h-6.68zM238.80 942.86h6.68v5.57h-6.68zM246.58 942.86h6.68v5.57h-6.68zM254.35 942.86h6.68v5.57h-6.68zM262.12 942.86h6.68v5.57h-6.68zM269.90 942.86h6.68v5.57h-6.68zM277.68 942.86h6.68v5.57h-6.68zM285.45 942.86h6.68v5.57h-6.68zM301.00 942.86h6.68v5.57h-6.68zM308.78 942.86h6.68v5.57h-6.68zM5.55 949.53h6.68v5.57h-6.68zM13.33 949.53h6.68v5.57h-6.68zM21.10 949.53h6.68v5.57h-6.68zM28.88 949.53h6.68v5.57h-6.68zM36.65 949.53h6.68v5.57h-6.68zM44.42 949.53h6.68v5.57h-6.68zM52.20 949.53h6.68v5.57h-6.68zM59.98 949.53h6.68v5.57h-6.68zM67.75 949.53h6.68v5.57h-6.68zM75.53 949.53h6.68v5.57h-6.68zM83.30 949.53h6.68v5.57h-6.68zM91.08 949.53h6.68v5.57h-6.68zM98.85 949.53h6.68v5.57h-6.68zM106.62 949.53h6.68v5.57h-6.68zM114.40 949.53h6.68v5.57h-6.68zM122.17 949.53h6.68v5.57h-6.68zM129.95 949.53h6.68v5.57h-6.68zM137.73 949.53h6.68v5.57h-6.68zM145.50 949.53h6.68v5.57h-6.68zM153.28 949.53h6.68v5.57h-6.68zM161.05 949.53h6.68v5.57h-6.68zM168.83 949.53h6.68v5.57h-6.68zM176.60 949.53h6.68v5.57h-6.68zM184.38 949.53h6.68v5.57h-6.68zM192.15 949.53h6.68v5.57h-6.68zM199.93 949.53h6.68v5.57h-6.68zM207.70 949.53h6.68v5.57h-6.68zM215.48 949.53h6.68v5.57h-6.68zM223.25 949.53h6.68v5.57h-6.68zM231.03 949.53h6.68v5.57h-6.68zM238.80 949.53h6.68v5.57h-6.68zM246.58 949.53h6.68v5.57h-6.68zM254.35 949.53h6.68v5.57h-6.68zM262.12 949.53h6.68v5.57h-6.68zM269.90 949.53h6.68v5.57h-6.68zM277.68 949.53h6.68v5.57h-6.68zM285.45 949.53h6.68v5.57h-6.68zM301.00 949.53h6.68v5.57h-6.68zM308.78 949.53h6.68v5.57h-6.68zM5.55 956.19h6.68v5.57h-6.68zM13.33 956.19h6.68v5.57h-6.68zM21.10 956.19h6.68v5.57h-6.68zM28.88 956.19h6.68v5.57h-6.68zM36.65 956.19h6.68v5.57h-6.68zM44.42 956.19h6.68v5.57h-6.68zM52.20 956.19h6.68v5.57h-6.68zM59.98 956.19h6.68v5.57h-6.68zM67.75 956.19h6.68v5.57h-6.68zM75.53 956.19h6.68v5.57h-6.68zM83.30 956.19h6.68v5.57h-6.68zM91.08 956.19h6.68v5.57h-6.68zM98.85 956.19h6.68v5.57h-6.68zM106.62 956.19h6.68v5.57h-6.68zM114.40 956.19h6.68v5.57h-6.68zM122.17 956.19h6.68v5.57h-6.68zM129.95 956.19h6.68v5.57h-6.68zM137.73 956.19h6.68v5.57h-6.68zM145.50 956.19h6.68v5.57h-6.68zM153.28 956.19h6.68v5.57h-6.68zM161.05 956.19h6.68v5.57h-6.68zM168.83 956.19h6.68v5.57h-6.68zM176.60 956.19h6.68v5.57h-6.68zM184.38 956.19h6.68v5.57h-6.68zM192.15 956.19h6.68v5.57h-6.68zM199.93 956.19h6.68v5.57h-6.68zM207.70 956.19h6.68v5.57h-6.68zM215.48 956.19h6.68v5.57h-6.68zM223.25 956.19h6.68v5.57h-6.68zM231.03 956.19h6.68v5.57h-6.68zM238.80 956.19h6.68v5.57h-6.68zM246.58 956.19h6.68v5.57h-6.68zM254.35 956.19h6.68v5.57h-6.68zM262.12 956.19h6.68v5.57h-6.68zM269.90 956.19h6.68v5.57h-6.68zM277.68 956.19h6.68v5.57h-6.68zM285.45 956.19h6.68v5.57h-6.68zM301.00 956.19h6.68v5.57h-6.68zM5.55 962.86h6.68v5.57h-6.68zM13.33 962.86h6.68v5.57h-6.68zM21.10 962.86h6.68v5.57h-6.68zM36.65 962.86h6.68v5.57h-6.68zM44.42 962.86h6.68v5.57h-6.68zM52.20 962.86h6.68v5.57h-6.68zM59.98 962.86h6.68v5.57h-6.68zM67.75 962.86h6.68v5.57h-6.68zM75.53 962.86h6.68v5.57h-6.68zM83.30 962.86h6.68v5.57h-6.68zM91.08 962.86h6.68v5.57h-6.68zM98.85 962.86h6.68v5.57h-6.68zM106.62 962.86h6.68v5.57h-6.68zM114.40 962.86h6.68v5.57h-6.68zM122.17 962.86h6.68v5.57h-6.68zM129.95 962.86h6.68v5.57h-6.68zM137.73 962.86h6.68v5.57h-6.68zM145.50 962.86h6.68v5.57h-6.68zM153.28 962.86h6.68v5.57h-6.68zM161.05 962.86h6.68v5.57h-6.68zM168.83 962.86h6.68v5.57h-6.68zM184.38 962.86h6.68v5.57h-6.68zM192.15 962.86h6.68v5.57h-6.68zM199.93 962.86h6.68v5.57h-6.68zM207.70 962.86h6.68v5.57h-6.68zM215.48 962.86h6.68v5.57h-6.68zM223.25 962.86h6.68v5.57h-6.68zM231.03 962.86h6.68v5.57h-6.68zM238.80 962.86h6.68v5.57h-6.68zM246.58 962.86h6.68v5.57h-6.68zM254.35 962.86h6.68v5.57h-6.68zM262.12 962.86h6.68v5.57h-6.68zM269.90 962.86h6.68v5.57h-6.68zM277.68 962.86h6.68v5.57h-6.68zM285.45 962.86h6.68v5.57h-6.68zM293.23 962.86h6.68v5.57h-6.68zM301.00 962.86h6.68v5.57h-6.68zM5.55 969.52h6.68v5.57h-6.68zM13.33 969.52h6.68v5.57h-6.68zM21.10 969.52h6.68v5.57h-6.68zM28.88 969.52h6.68v5.57h-6.68zM36.65 969.52h6.68v5.57h-6.68zM44.42 969.52h6.68v5.57h-6.68zM52.20 969.52h6.68v5.57h-6.68zM59.98 969.52h6.68v5.57h-6.68zM67.75 969.52h6.68v5.57h-6.68zM75.53 969.52h6.68v5.57h-6.68zM83.30 969.52h6.68v5.57h-6.68zM91.08 969.52h6.68v5.57h-6.68zM98.85 969.52h6.68v5.57h-6.68zM106.62 969.52h6.68v5.57h-6.68zM114.40 969.52h6.68v5.57h-6.68zM122.17 969.52h6.68v5.57h-6.68zM129.95 969.52h6.68v5.57h-6.68zM137.73 969.52h6.68v5.57h-6.68zM145.50 969.52h6.68v5.57h-6.68zM153.28 969.52h6.68v5.57h-6.68zM161.05 969.52h6.68v5.57h-6.68zM168.83 969.52h6.68v5.57h-6.68zM176.60 969.52h6.68v5.57h-6.68zM184.38 969.52h6.68v5.57h-6.68zM192.15 969.52h6.68v5.57h-6.68zM199.93 969.52h6.68v5.57h-6.68zM207.70 969.52h6.68v5.57h-6.68zM215.48 969.52h6.68v5.57h-6.68zM223.25 969.52h6.68v5.57h-6.68zM231.03 969.52h6.68v5.57h-6.68zM238.80 969.52h6.68v5.57h-6.68zM246.58 969.52h6.68v5.57h-6.68zM254.35 969.52h6.68v5.57h-6.68zM262.12 969.52h6.68v5.57h-6.68zM269.90 969.52h6.68v5.57h-6.68zM277.68 969.52h6.68v5.57h-6.68zM285.45 969.52h6.68v5.57h-6.68zM293.23 969.52h6.68v5.57h-6.68zM301.00 969.52h6.68v5.57h-6.68zM5.55 976.19h6.68v5.57h-6.68zM13.33 976.19h6.68v5.57h-6.68zM21.10 976.19h6.68v5.57h-6.68zM28.88 976.19h6.68v5.57h-6.68zM36.65 976.19h6.68v5.57h-6.68zM44.42 976.19h6.68v5.57h-6.68zM52.20 976.19h6.68v5.57h-6.68zM59.98 976.19h6.68v5.57h-6.68zM67.75 976.19h6.68v5.57h-6.68zM75.53 976.19h6.68v5.57h-6.68zM83.30 976.19h6.68v5.57h-6.68zM91.08 976.19h6.68v5.57h-6.68zM98.85 976.19h6.68v5.57h-6.68zM106.62 976.19h6.68v5.57h-6.68zM114.40 976.19h6.68v5.57h-6.68zM122.17 976.19h6.68v5.57h-6.68zM129.95 976.19h6.68v5.57h-6.68zM137.73 976.19h6.68v5.57h-6.68zM145.50 976.19h6.68v5.57h-6.68zM153.28 976.19h6.68v5.57h-6.68zM161.05 976.19h6.68v5.57h-6.68zM168.83 976.19h6.68v5.57h-6.68zM176.60 976.19h6.68v5.57h-6.68zM184.38 976.19h6.68v5.57h-6.68zM192.15 976.19h6.68v5.57h-6.68zM199.93 976.19h6.68v5.57h-6.68zM207.70 976.19h6.68v5.57h-6.68zM215.48 976.19h6.68v5.57h-6.68zM223.25 976.19h6.68v5.57h-6.68zM231.03 976.19h6.68v5.57h-6.68zM238.80 976.19h6.68v5.57h-6.68zM246.58 976.19h6.68v5.57h-6.68zM254.35 976.19h6.68v5.57h-6.68zM262.12 976.19h6.68v5.57h-6.68zM269.90 976.19h6.68v5.57h-6.68zM277.68 976.19h6.68v5.57h-6.68zM285.45 976.19h6.68v5.57h-6.68zM301.00 976.19h6.68v5.57h-6.68zM5.55 982.85h6.68v5.57h-6.68zM13.33 982.85h6.68v5.57h-6.68zM21.10 982.85h6.68v5.57h-6.68zM28.88 982.85h6.68v5.57h-6.68zM36.65 982.85h6.68v5.57h-6.68zM44.42 982.85h6.68v5.57h-6.68zM52.20 982.85h6.68v5.57h-6.68zM59.98 982.85h6.68v5.57h-6.68zM67.75 982.85h6.68v5.57h-6.68zM75.53 982.85h6.68v5.57h-6.68zM83.30 982.85h6.68v5.57h-6.68zM98.85 982.85h6.68v5.57h-6.68zM106.62 982.85h6.68v5.57h-6.68zM114.40 982.85h6.68v5.57h-6.68zM122.17 982.85h6.68v5.57h-6.68zM129.95 982.85h6.68v5.57h-6.68zM137.73 982.85h6.68v5.57h-6.68zM145.50 982.85h6.68v5.57h-6.68zM153.28 982.85h6.68v5.57h-6.68zM161.05 982.85h6.68v5.57h-6.68zM168.83 982.85h6.68v5.57h-6.68zM176.60 982.85h6.68v5.57h-6.68zM184.38 982.85h6.68v5.57h-6.68zM192.15 982.85h6.68v5.57h-6.68zM199.93 982.85h6.68v5.57h-6.68zM207.70 982.85h6.68v5.57h-6.68zM215.48 982.85h6.68v5.57h-6.68zM223.25 982.85h6.68v5.57h-6.68zM231.03 982.85h6.68v5.57h-6.68zM238.80 982.85h6.68v5.57h-6.68zM246.58 982.85h6.68v5.57h-6.68zM254.35 982.85h6.68v5.57h-6.68zM262.12 982.85h6.68v5.57h-6.68zM269.90 982.85h6.68v5.57h-6.68zM277.68 982.85h6.68v5.57h-6.68zM285.45 982.85h6.68v5.57h-6.68zM301.00 982.85h6.68v5.57h-6.68zM308.78 982.85h6.68v5.57h-6.68zM5.55 989.52h6.68v5.57h-6.68zM13.33 989.52h6.68v5.57h-6.68zM21.10 989.52h6.68v5.57h-6.68zM28.88 989.52h6.68v5.57h-6.68zM36.65 989.52h6.68v5.57h-6.68zM44.42 989.52h6.68v5.57h-6.68zM52.20 989.52h6.68v5.57h-6.68zM59.98 989.52h6.68v5.57h-6.68zM67.75 989.52h6.68v5.57h-6.68zM75.53 989.52h6.68v5.57h-6.68zM83.30 989.52h6.68v5.57h-6.68zM98.85 989.52h6.68v5.57h-6.68zM106.62 989.52h6.68v5.57h-6.68zM114.40 989.52h6.68v5.57h-6.68zM122.17 989.52h6.68v5.57h-6.68zM129.95 989.52h6.68v5.57h-6.68zM137.73 989.52h6.68v5.57h-6.68zM145.50 989.52h6.68v5.57h-6.68zM153.28 989.52h6.68v5.57h-6.68zM161.05 989.52h6.68v5.57h-6.68zM168.83 989.52h6.68v5.57h-6.68zM176.60 989.52h6.68v5.57h-6.68zM184.38 989.52h6.68v5.57h-6.68zM192.15 989.52h6.68v5.57h-6.68zM199.93 989.52h6.68v5.57h-6.68zM207.70 989.52h6.68v5.57h-6.68zM215.48 989.52h6.68v5.57h-6.68zM223.25 989.52h6.68v5.57h-6.68zM231.03 989.52h6.68v5.57h-6.68zM238.80 989.52h6.68v5.57h-6.68zM246.58 989.52h6.68v5.57h-6.68zM254.35 989.52h6.68v5.57h-6.68zM262.12 989.52h6.68v5.57h-6.68zM269.90 989.52h6.68v5.57h-6.68zM277.68 989.52h6.68v5.57h-6.68zM285.45 989.52h6.68v5.57h-6.68zM301.00 989.52h6.68v5.57h-6.68zM308.78 989.52h6.68v5.57h-6.68zM5.55 996.18h6.68v5.57h-6.68zM13.33 996.18h6.68v5.57h-6.68zM21.10 996.18h6.68v5.57h-6.68zM28.88 996.18h6.68v5.57h-6.68zM36.65 996.18h6.68v5.57h-6.68zM44.42 996.18h6.68v5.57h-6.68zM52.20 996.18h6.68v5.57h-6.68zM59.98 996.18h6.68v5.57h-6.68zM67.75 996.18h6.68v5.57h-6.68zM75.53 996.18h6.68v5.57h-6.68zM83.30 996.18h6.68v5.57h-6.68zM91.08 996.18h6.68v5.57h-6.68zM98.85 996.18h6.68v5.57h-6.68zM106.62 996.18h6.68v5.57h-6.68zM114.40 996.18h6.68v5.57h-6.68zM122.17 996.18h6.68v5.57h-6.68zM129.95 996.18h6.68v5.57h-6.68zM137.73 996.18h6.68v5.57h-6.68zM145.50 996.18h6.68v5.57h-6.68zM153.28 996.18h6.68v5.57h-6.68zM161.05 996.18h6.68v5.57h-6.68zM168.83 996.18h6.68v5.57h-6.68zM176.60 996.18h6.68v5.57h-6.68zM184.38 996.18h6.68v5.57h-6.68zM192.15 996.18h6.68v5.57h-6.68zM199.93 996.18h6.68v5.57h-6.68zM207.70 996.18h6.68v5.57h-6.68zM215.48 996.18h6.68v5.57h-6.68zM223.25 996.18h6.68v5.57h-6.68zM231.03 996.18h6.68v5.57h-6.68zM238.80 996.18h6.68v5.57h-6.68zM246.58 996.18h6.68v5.57h-6.68zM254.35 996.18h6.68v5.57h-6.68zM262.12 996.18h6.68v5.57h-6.68zM269.90 996.18h6.68v5.57h-6.68zM277.68 996.18h6.68v5.57h-6.68zM285.45 996.18h6.68v5.57h-6.68zM301.00 996.18h6.68v5.57h-6.68z" fill="#ededc2"/>
<rect x="21.10" y="616.25" width="6.68" height="5.57" fill="#c8443e"/>
<rect x="28.88" y="616.25" width="6.68" height="5.57" fill="#f0c576"/>
<rect x="5.55" y="622.92" width="6.68" height="5.57" fill="#f0c576"/>
<rect x="13.33" y="622.92" width="6.68" height="5.57" fill="#ee8a2e"/>
<rect x="21.10" y="622.92" width="6.68" height="5.57" fill="#f0dc95"/>
<rect x="28.88" y="622.92" width="6.68" height="5.57" fill="#f0dc95"/>
<rect x="21.10" y="629.58" width="6.68" height="5.57" fill="#f0c576"/>
<rect x="75.53" y="629.58" width="6.68" height="5.57" fill="#e2662f"/>
<rect x="21.10" y="636.25" width="6.68" height="5.57" fill="#f0dc95"/>
<rect x="28.88" y="636.25" width="6.68" height="5.57" fill="#e2662f"/>
<rect x="145.50" y="636.25" width="6.68" height="5.57" fill="#ebe7b0"/>
<rect x="21.10" y="642.91" width="6.68" height="5.57" fill="#ee8a2e"/>
<rect x="28.88" y="642.91" width="6.68" height="5.57" fill="#ebe7b0"/>
<rect x="91.08" y="642.91" width="6.68" height="5.57" fill="#ebe7b0"/>
<rect x="114.40" y="642.91" width="6.68" height="5.57" fill="#ebe7b0"/>
<rect x="176.60" y="642.91" width="6.68" height="5.57" fill="#f0dc95"/>
<rect x="199.93" y="642.91" width="6.68" height="5.57" fill="#ebe7b0"/>
<rect x="5.55" y="649.58" width="6.68" height="5.57" fill="#f0dc95"/>
<rect x="13.33" y="649.58" width="6.68" height="5.57" fill="#f0c576"/>
<rect x="21.10" y="649.58" width="6.68" height="5.57" fill="#f0c576"/>
<rect x="28.88" y="649.58" width="6.68" height="5.57" fill="#f0dc95"/>
<rect x="199.93" y="649.58" width="6.68" height="5.57" fill="#ebe7b0"/>
<rect x="21.10" y="656.24" width="6.68" height="5.57" fill="#f0a544"/>
<rect x="28.88" y="656.24" width="6.68" height="5.57" fill="#ebe7b0"/>
<rect x="36.65" y="656.24" width="6.68" height="5.57" fill="#f0c576"/>
<rect x="91.08" y="656.24" width="6.68" height="5.57" fill="#ebe7b0"/>
<rect x="176.60" y="656.24" width="6.68" height="5.57" fill="#f0dc95"/>
<rect x="44.42" y="662.91" width="6.68" height="5.57" fill="#e2662f"/>
<rect x="52.20" y="662.91" width="6.68" height="5.57" fill="#f0a544"/>
<rect x="44.42" y="669.57" width="6.68" height="5.57" fill="#ee8a2e"/>
<rect x="52.20" y="669.57" width="6.68" height="5.57" fill="#e2662f"/>
<rect x="44.42" y="676.24" width="6.68" height="5.57" fill="#f0c576"/>
<rect x="52.20" y="676.24" width="6.68" height="5.57" fill="#ee8a2e"/>
<rect x="59.98" y="676.24" width="6.68" height="5.57" fill="#f0a544"/>
<rect x="67.75" y="682.91" width="6.68" height="5.57" fill="#f0c576"/>
<rect x="75.53" y="682.91" width="6.68" height="5.57" fill="#a02a42"/>
<rect x="83.30" y="689.57" width="6.68" height="5.57" fill="#c8443e"/>
<rect x="91.08" y="689.57" width="6.68" height="5.57" fill="#f0a544"/>
<rect x="83.30" y="696.24" width="6.68" height="5.57" fill="#a02a42"/>
<rect x="91.08" y="696.24" width="6.68" height="5.57" fill="#f0c576"/>
<rect x="83.30" y="702.90" width="6.68" height="5.57" fill="#a02a42"/>
<rect x="91.08" y="702.90" width="6.68" height="5.57" fill="#ebe7b0"/>
<rect x="106.62" y="702.90" width="6.68" height="5.57" fill="#f0dc95"/>
<rect x="91.08" y="709.57" width="6.68" height="5.57" fill="#ebe7b0"/>
<rect x="98.85" y="709.57" width="6.68" height="5.57" fill="#2a0418"/>
<rect x="114.40" y="716.23" width="6.68" height="5.57" fill="#f0a544"/>
<rect x="137.73" y="716.23" width="6.68" height="5.57" fill="#f0a544"/>
<rect x="145.50" y="716.23" width="6.68" height="5.57" fill="#f0c576"/>
<rect x="122.17" y="722.90" width="6.68" height="5.57" fill="#f0a544"/>
<rect x="129.95" y="722.90" width="6.68" height="5.57" fill="#e2662f"/>
<rect x="145.50" y="722.90" width="6.68" height="5.57" fill="#ebe7b0"/>
<rect x="161.05" y="729.56" width="6.68" height="5.57" fill="#ebe7b0"/>
<rect x="168.83" y="729.56" width="6.68" height="5.57" fill="#2a0418"/>
<rect x="176.60" y="729.56" width="6.68" height="5.57" fill="#ebe7b0"/>
<rect x="153.28" y="736.23" width="6.68" height="5.57" fill="#f0dc95"/>
<rect x="161.05" y="736.23" width="6.68" height="5.57" fill="#ee8a2e"/>
<rect x="176.60" y="736.23" width="6.68" height="5.57" fill="#f0a544"/>
<rect x="153.28" y="742.89" width="6.68" height="5.57" fill="#6e0c34"/>
<rect x="176.60" y="742.89" width="6.68" height="5.57" fill="#f0dc95"/>
<rect x="184.38" y="749.56" width="6.68" height="5.57" fill="#f0a544"/>
<rect x="192.15" y="749.56" width="6.68" height="5.57" fill="#c8443e"/>
<rect x="153.28" y="756.23" width="6.68" height="5.57" fill="#ebe7b0"/>
<rect x="184.38" y="756.23" width="6.68" height="5.57" fill="#f0a544"/>
<rect x="192.15" y="756.23" width="6.68" height="5.57" fill="#e2662f"/>
<rect x="184.38" y="762.89" width="6.68" height="5.57" fill="#f0a544"/>
<rect x="192.15" y="762.89" width="6.68" height="5.57" fill="#c8443e"/>
<rect x="184.38" y="769.56" width="6.68" height="5.57" fill="#f0a544"/>
<rect x="192.15" y="769.56" width="6.68" height="5.57" fill="#c8443e"/>
<rect x="199.93" y="776.22" width="6.68" height="5.57" fill="#f0dc95"/>
<rect x="207.70" y="776.22" width="6.68" height="5.57" fill="#f0a544"/>
<rect x="215.48" y="776.22" width="6.68" height="5.57" fill="#ebe7b0"/>
<rect x="223.25" y="776.22" width="6.68" height="5.57" fill="#ebe7b0"/>
<rect x="231.03" y="776.22" width="6.68" height="5.57" fill="#f0a544"/>
<rect x="199.93" y="782.89" width="6.68" height="5.57" fill="#e2662f"/>
<rect x="207.70" y="782.89" width="6.68" height="5.57" fill="#f0a544"/>
<rect x="199.93" y="789.55" width="6.68" height="5.57" fill="#f0dc95"/>
<rect x="207.70" y="789.55" width="6.68" height="5.57" fill="#f0c576"/>
<rect x="223.25" y="789.55" width="6.68" height="5.57" fill="#f0c576"/>
<rect x="231.03" y="789.55" width="6.68" height="5.57" fill="#f0a544"/>
<rect x="199.93" y="796.22" width="6.68" height="5.57" fill="#f0dc95"/>
<rect x="207.70" y="796.22" width="6.68" height="5.57" fill="#a02a42"/>
<rect x="199.93" y="802.88" width="6.68" height="5.57" fill="#c8443e"/>
<rect x="207.70" y="802.88" width="6.68" height="5.57" fill="#f0c576"/>
<rect x="199.93" y="809.55" width="6.68" height="5.57" fill="#e2662f"/>
<rect x="207.70" y="809.55" width="6.68" height="5.57" fill="#f0a544"/>
<rect x="199.93" y="816.22" width="6.68" height="5.57" fill="#ebe7b0"/>
<rect x="207.70" y="816.22" width="6.68" height="5.57" fill="#ebe7b0"/>
<rect x="215.48" y="816.22" width="6.68" height="5.57" fill="#f0c576"/>
<rect x="223.25" y="816.22" width="6.68" height="5.57" fill="#ee8a2e"/>
<rect x="231.03" y="816.22" width="6.68" height="5.57" fill="#f0c576"/>
<rect x="238.80" y="816.22" width="6.68" height="5.57" fill="#ebe7b0"/>
<rect x="199.93" y="822.88" width="6.68" height="5.57" fill="#f0dc95"/>
<rect x="215.48" y="822.88" width="6.68" height="5.57" fill="#a02a42"/>
<rect x="199.93" y="829.55" width="6.68" height="5.57" fill="#f0dc95"/>
<rect x="223.25" y="829.55" width="6.68" height="5.57" fill="#c8443e"/>
<rect x="231.03" y="829.55" width="6.68" height="5.57" fill="#f0dc95"/>
<rect x="36.65" y="836.21" width="6.68" height="5.57" fill="#f0c576"/>
<rect x="199.93" y="836.21" width="6.68" height="5.57" fill="#ebe7b0"/>
<rect x="207.70" y="836.21" width="6.68" height="5.57" fill="#f0c576"/>
<rect x="215.48" y="836.21" width="6.68" height="5.57" fill="#f0dc95"/>
<rect x="238.80" y="836.21" width="6.68" height="5.57" fill="#f0c576"/>
<rect x="21.10" y="842.88" width="6.68" height="5.57" fill="#ebe7b0"/>
<rect x="199.93" y="842.88" width="6.68" height="5.57" fill="#f0c576"/>
<rect x="215.48" y="842.88" width="6.68" height="5.57" fill="#f0dc95"/>
<rect x="223.25" y="842.88" width="6.68" height="5.57" fill="#ee8a2e"/>
<rect x="231.03" y="842.88" width="6.68" height="5.57" fill="#ebe7b0"/>
<rect x="238.80" y="849.54" width="6.68" height="5.57" fill="#2a0418"/>
<rect x="238.80" y="856.21" width="6.68" height="5.57" fill="#6e0c34"/>
<rect x="238.80" y="862.87" width="6.68" height="5.57" fill="#ebe7b0"/>
<rect x="246.58" y="862.87" width="6.68" height="5.57" fill="#e2662f"/>
<rect x="254.35" y="862.87" width="6.68" height="5.57" fill="#f0c576"/>
<rect x="262.12" y="869.54" width="6.68" height="5.57" fill="#6e0c34"/>
<rect x="269.90" y="869.54" width="6.68" height="5.57" fill="#ebe7b0"/>
<rect x="262.12" y="876.21" width="6.68" height="5.57" fill="#f0a544"/>
<rect x="269.90" y="876.21" width="6.68" height="5.57" fill="#c8443e"/>
<rect x="262.12" y="882.87" width="6.68" height="5.57" fill="#f0dc95"/>
<rect x="269.90" y="882.87" width="6.68" height="5.57" fill="#f0a544"/>
<rect x="277.68" y="882.87" width="6.68" height="5.57" fill="#c8443e"/>
<rect x="285.45" y="889.54" width="6.68" height="5.57" fill="#2a0418"/>
<rect x="285.45" y="896.20" width="6.68" height="5.57" fill="#6e0c34"/>
<rect x="293.23" y="902.87" width="6.68" height="5.57" fill="#6e0c34"/>
<rect x="293.23" y="909.53" width="6.68" height="5.57" fill="#c8443e"/>
<rect x="301.00" y="909.53" width="6.68" height="5.57" fill="#f0c576"/>
<rect x="293.23" y="916.20" width="6.68" height="5.57" fill="#2a0418"/>
<rect x="293.23" y="922.86" width="6.68" height="5.57" fill="#2a0418"/>
<rect x="293.23" y="929.53" width="6.68" height="5.57" fill="#2a0418"/>
<rect x="293.23" y="936.19" width="6.68" height="5.57" fill="#2a0418"/>
<rect x="293.23" y="942.86" width="6.68" height="5.57" fill="#6e0c34"/>
<rect x="293.23" y="949.53" width="6.68" height="5.57" fill="#6e0c34"/>
<rect x="293.23" y="956.19" width="6.68" height="5.57" fill="#f0dc95"/>
<rect x="308.78" y="956.19" width="6.68" height="5.57" fill="#6e0c34"/>
<rect x="28.88" y="962.86" width="6.68" height="5.57" fill="#ebe7b0"/>
<rect x="176.60" y="962.86" width="6.68" height="5.57" fill="#ebe7b0"/>
<rect x="308.78" y="962.86" width="6.68" height="5.57" fill="#ee8a2e"/>
<rect x="308.78" y="969.52" width="6.68" height="5.57" fill="#2a0418"/>
<rect x="293.23" y="976.19" width="6.68" height="5.57" fill="#a02a42"/>
<rect x="308.78" y="976.19" width="6.68" height="5.57" fill="#f0dc95"/>
<rect x="91.08" y="982.85" width="6.68" height="5.57" fill="#ebe7b0"/>
<rect x="293.23" y="982.85" width="6.68" height="5.57" fill="#ee8a2e"/>
<rect x="91.08" y="989.52" width="6.68" height="5.57" fill="#f0dc95"/>
<rect x="293.23" y="989.52" width="6.68" height="5.57" fill="#f0c576"/>
<rect x="293.23" y="996.18" width="6.68" height="5.57" fill="#c8443e"/>
<rect x="308.78" y="996.18" width="6.68" height="5.57" fill="#f0dc95"/>
<text x="320.8" y="621.0" font-size="6.5" class="rl" textLength="48.2" lengthAdjust="spacingAndGlyphs">Lumsec–major</text>
<text x="320.8" y="627.7" font-size="6.5" class="rl" textLength="47.4" lengthAdjust="spacingAndGlyphs">Lumsec–basal</text>
<text x="320.8" y="634.4" font-size="6.5" class="rl" textLength="43.7" lengthAdjust="spacingAndGlyphs">Lumsec–myo</text>
<text x="320.8" y="641.0" font-size="6.5" class="rl" textLength="41.2" lengthAdjust="spacingAndGlyphs">Lumsec–KIT</text>
<text x="320.8" y="647.7" font-size="6.5" class="rl" textLength="39.2" lengthAdjust="spacingAndGlyphs">Lumsec–lac</text>
<text x="320.8" y="654.4" font-size="6.5" class="rl" textLength="44.1" lengthAdjust="spacingAndGlyphs">Lumsec–HLA</text>
<text x="320.8" y="661.0" font-size="6.5" class="rl" textLength="42.0" lengthAdjust="spacingAndGlyphs">Lumsec–prol</text>
<text x="320.8" y="667.7" font-size="6.5" class="rl" textLength="53.5" lengthAdjust="spacingAndGlyphs">LummHR–major</text>
<text x="320.8" y="674.4" font-size="6.5" class="rl" textLength="54.3" lengthAdjust="spacingAndGlyphs">LummHR–active</text>
<text x="320.8" y="681.0" font-size="6.5" class="rl" textLength="55.9" lengthAdjust="spacingAndGlyphs">LummHR–SCGB</text>
<text x="320.8" y="687.7" font-size="6.5" class="rl" textLength="17.6" lengthAdjust="spacingAndGlyphs">basal</text>
<text x="320.8" y="694.4" font-size="6.5" class="rl" textLength="39.2" lengthAdjust="spacingAndGlyphs">Fibro–major</text>
<text x="320.8" y="701.0" font-size="6.5" class="rl" textLength="40.8" lengthAdjust="spacingAndGlyphs">Fibro–matrix</text>
<text x="320.8" y="707.7" font-size="6.5" class="rl" textLength="51.4" lengthAdjust="spacingAndGlyphs">Fibro–prematrix</text>
<text x="320.8" y="714.4" font-size="6.5" class="rl" textLength="44.5" lengthAdjust="spacingAndGlyphs">Fibro–SFRP4</text>
<text x="320.8" y="721.0" font-size="6.5" class="rl" textLength="29.4" lengthAdjust="spacingAndGlyphs">pericytes</text>
<text x="320.8" y="727.7" font-size="6.5" class="rl" textLength="17.1" lengthAdjust="spacingAndGlyphs">vsmc</text>
<text x="320.8" y="734.3" font-size="6.5" class="rl" textLength="38.6" lengthAdjust="spacingAndGlyphs">Vas–arterial</text>
<text x="320.8" y="741.0" font-size="6.5" class="rl" textLength="43.1" lengthAdjust="spacingAndGlyphs">Vas–capillary</text>
<text x="320.8" y="747.7" font-size="6.5" class="rl" textLength="39.9" lengthAdjust="spacingAndGlyphs">Vas–venous</text>
<text x="320.8" y="754.3" font-size="6.5" class="rl" textLength="44.2" lengthAdjust="spacingAndGlyphs">Lymph–major</text>
<text x="320.8" y="761.0" font-size="6.5" class="rl" textLength="52.0" lengthAdjust="spacingAndGlyphs">Lymph–immune</text>
<text x="320.8" y="767.7" font-size="6.5" class="rl" textLength="47.1" lengthAdjust="spacingAndGlyphs">Lymph–valve1</text>
<text x="320.8" y="774.3" font-size="6.5" class="rl" textLength="47.1" lengthAdjust="spacingAndGlyphs">Lymph–valve2</text>
<text x="320.8" y="781.0" font-size="6.5" class="rl" textLength="48.2" lengthAdjust="spacingAndGlyphs">CD4–activated</text>
<text x="320.8" y="787.7" font-size="6.5" class="rl" textLength="36.3" lengthAdjust="spacingAndGlyphs">CD4–naive</text>
<text x="320.8" y="794.3" font-size="6.5" class="rl" textLength="32.7" lengthAdjust="spacingAndGlyphs">CD4–Tem</text>
<text x="320.8" y="801.0" font-size="6.5" class="rl" textLength="27.3" lengthAdjust="spacingAndGlyphs">CD4–Th</text>
<text x="320.8" y="807.7" font-size="6.5" class="rl" textLength="42.5" lengthAdjust="spacingAndGlyphs">CD4–Th–like</text>
<text x="320.8" y="814.3" font-size="6.5" class="rl" textLength="33.6" lengthAdjust="spacingAndGlyphs">CD4–Treg</text>
<text x="320.8" y="821.0" font-size="6.5" class="rl" textLength="48.2" lengthAdjust="spacingAndGlyphs">CD8–activated</text>
<text x="320.8" y="827.7" font-size="6.5" class="rl" textLength="32.7" lengthAdjust="spacingAndGlyphs">CD8–Tem</text>
<text x="320.8" y="834.3" font-size="6.5" class="rl" textLength="31.6" lengthAdjust="spacingAndGlyphs">CD8–Trm</text>
<text x="320.8" y="841.0" font-size="6.5" class="rl" textLength="18.6" lengthAdjust="spacingAndGlyphs">T prol</text>
<text x="320.8" y="847.7" font-size="6.5" class="rl" textLength="11.0" lengthAdjust="spacingAndGlyphs">GD</text>
<text x="320.8" y="854.3" font-size="6.5" class="rl" textLength="10.2" lengthAdjust="spacingAndGlyphs">NK</text>
<text x="320.8" y="861.0" font-size="6.5" class="rl" textLength="14.7" lengthAdjust="spacingAndGlyphs">NKT</text>
<text x="320.8" y="867.7" font-size="6.5" class="rl" textLength="29.4" lengthAdjust="spacingAndGlyphs">NK–ILCs</text>
<text x="320.8" y="874.3" font-size="6.5" class="rl" textLength="23.7" lengthAdjust="spacingAndGlyphs">b naive</text>
<text x="320.8" y="881.0" font-size="6.5" class="rl" textLength="51.0" lengthAdjust="spacingAndGlyphs">bmem switched</text>
<text x="320.8" y="887.7" font-size="6.5" class="rl" textLength="59.2" lengthAdjust="spacingAndGlyphs">bmem unswitched</text>
<text x="320.8" y="894.3" font-size="6.5" class="rl" textLength="36.7" lengthAdjust="spacingAndGlyphs">plasma IgA</text>
<text x="320.8" y="901.0" font-size="6.5" class="rl" textLength="37.6" lengthAdjust="spacingAndGlyphs">plasma IgG</text>
<text x="320.8" y="907.6" font-size="6.5" class="rl" textLength="36.3" lengthAdjust="spacingAndGlyphs">Macro–IFN</text>
<text x="320.8" y="914.3" font-size="6.5" class="rl" textLength="35.9" lengthAdjust="spacingAndGlyphs">Macro–lipo</text>
<text x="320.8" y="921.0" font-size="6.5" class="rl" textLength="34.7" lengthAdjust="spacingAndGlyphs">Macro–m1</text>
<text x="320.8" y="927.6" font-size="6.5" class="rl" textLength="53.5" lengthAdjust="spacingAndGlyphs">Macro–m1–CCL</text>
<text x="320.8" y="934.3" font-size="6.5" class="rl" textLength="34.7" lengthAdjust="spacingAndGlyphs">Macro–m2</text>
<text x="320.8" y="941.0" font-size="6.5" class="rl" textLength="58.4" lengthAdjust="spacingAndGlyphs">Macro–m2–CXCL</text>
<text x="320.8" y="947.6" font-size="6.5" class="rl" textLength="50.2" lengthAdjust="spacingAndGlyphs">Mono–classical</text>
<text x="320.8" y="954.3" font-size="6.5" class="rl" textLength="66.5" lengthAdjust="spacingAndGlyphs">Mono–non–classical</text>
<text x="320.8" y="961.0" font-size="6.5" class="rl" textLength="16.7" lengthAdjust="spacingAndGlyphs">mDC</text>
<text x="320.8" y="967.6" font-size="6.5" class="rl" textLength="14.7" lengthAdjust="spacingAndGlyphs">pDC</text>
<text x="320.8" y="974.3" font-size="6.5" class="rl" textLength="18.4" lengthAdjust="spacingAndGlyphs">cDC1</text>
<text x="320.8" y="981.0" font-size="6.5" class="rl" textLength="18.4" lengthAdjust="spacingAndGlyphs">cDC2</text>
<text x="320.8" y="987.6" font-size="6.5" class="rl" textLength="33.5" lengthAdjust="spacingAndGlyphs">Neutrophil</text>
<text x="320.8" y="994.3" font-size="6.5" class="rl" textLength="15.9" lengthAdjust="spacingAndGlyphs">Mast</text>
<text x="320.8" y="1001.0" font-size="6.5" class="rl" textLength="30.2" lengthAdjust="spacingAndGlyphs">mye–prol</text>
<text transform="translate(11.2 1004.8) rotate(-90)" font-size="6.5" class="cl" textLength="23.3" lengthAdjust="spacingAndGlyphs">LASP1</text>
<text transform="translate(19.0 1004.8) rotate(-90)" font-size="6.5" class="cl" textLength="23.3" lengthAdjust="spacingAndGlyphs">LASP2</text>
<text transform="translate(26.7 1004.8) rotate(-90)" font-size="6.5" class="cl" textLength="23.3" lengthAdjust="spacingAndGlyphs">LASP3</text>
<text transform="translate(34.5 1004.8) rotate(-90)" font-size="6.5" class="cl" textLength="23.3" lengthAdjust="spacingAndGlyphs">LASP4</text>
<text transform="translate(42.3 1004.8) rotate(-90)" font-size="6.5" class="cl" textLength="23.3" lengthAdjust="spacingAndGlyphs">LASP5</text>
<text transform="translate(50.1 1004.8) rotate(-90)" font-size="6.5" class="cl" textLength="18.7" lengthAdjust="spacingAndGlyphs">LHS1</text>
<text transform="translate(57.8 1004.8) rotate(-90)" font-size="6.5" class="cl" textLength="18.7" lengthAdjust="spacingAndGlyphs">LHS2</text>
<text transform="translate(65.6 1004.8) rotate(-90)" font-size="6.5" class="cl" textLength="18.7" lengthAdjust="spacingAndGlyphs">LHS3</text>
<text transform="translate(73.4 1004.8) rotate(-90)" font-size="6.5" class="cl" textLength="26.2" lengthAdjust="spacingAndGlyphs">BMYO1</text>
<text transform="translate(81.2 1004.8) rotate(-90)" font-size="6.5" class="cl" textLength="26.2" lengthAdjust="spacingAndGlyphs">BMYO2</text>
<text transform="translate(88.9 1004.8) rotate(-90)" font-size="6.5" class="cl" textLength="13.7" lengthAdjust="spacingAndGlyphs">FB1</text>
<text transform="translate(96.7 1004.8) rotate(-90)" font-size="6.5" class="cl" textLength="13.7" lengthAdjust="spacingAndGlyphs">FB2</text>
<text transform="translate(104.5 1004.8) rotate(-90)" font-size="6.5" class="cl" textLength="13.7" lengthAdjust="spacingAndGlyphs">FB3</text>
<text transform="translate(112.3 1004.8) rotate(-90)" font-size="6.5" class="cl" textLength="13.7" lengthAdjust="spacingAndGlyphs">FB4</text>
<text transform="translate(120.0 1004.8) rotate(-90)" font-size="6.5" class="cl" textLength="14.1" lengthAdjust="spacingAndGlyphs">PV1</text>
<text transform="translate(127.8 1004.8) rotate(-90)" font-size="6.5" class="cl" textLength="14.1" lengthAdjust="spacingAndGlyphs">PV2</text>
<text transform="translate(135.6 1004.8) rotate(-90)" font-size="6.5" class="cl" textLength="14.1" lengthAdjust="spacingAndGlyphs">PV3</text>
<text transform="translate(143.4 1004.8) rotate(-90)" font-size="6.5" class="cl" textLength="14.1" lengthAdjust="spacingAndGlyphs">PV4</text>
<text transform="translate(151.1 1004.8) rotate(-90)" font-size="6.5" class="cl" textLength="14.1" lengthAdjust="spacingAndGlyphs">PV5</text>
<text transform="translate(158.9 1004.8) rotate(-90)" font-size="6.5" class="cl" textLength="15.0" lengthAdjust="spacingAndGlyphs">VEV</text>
<text transform="translate(166.7 1004.8) rotate(-90)" font-size="6.5" class="cl" textLength="15.4" lengthAdjust="spacingAndGlyphs">VEC</text>
<text transform="translate(174.5 1004.8) rotate(-90)" font-size="6.5" class="cl" textLength="15.0" lengthAdjust="spacingAndGlyphs">VEA</text>
<text transform="translate(182.2 1004.8) rotate(-90)" font-size="6.5" class="cl" textLength="19.0" lengthAdjust="spacingAndGlyphs">VEAT</text>
<text transform="translate(190.0 1004.8) rotate(-90)" font-size="6.5" class="cl" textLength="13.3" lengthAdjust="spacingAndGlyphs">LE1</text>
<text transform="translate(197.8 1004.8) rotate(-90)" font-size="6.5" class="cl" textLength="13.3" lengthAdjust="spacingAndGlyphs">LE2</text>
<text transform="translate(205.6 1004.8) rotate(-90)" font-size="6.5" class="cl" textLength="34.9" lengthAdjust="spacingAndGlyphs">CD4 naive</text>
<text transform="translate(213.3 1004.8) rotate(-90)" font-size="6.5" class="cl" textLength="25.6" lengthAdjust="spacingAndGlyphs">CD4 Th</text>
<text transform="translate(221.1 1004.8) rotate(-90)" font-size="6.5" class="cl" textLength="31.0" lengthAdjust="spacingAndGlyphs">CD8 Tem</text>
<text transform="translate(228.9 1004.8) rotate(-90)" font-size="6.5" class="cl" textLength="29.9" lengthAdjust="spacingAndGlyphs">CD8 Trm</text>
<text transform="translate(236.7 1004.8) rotate(-90)" font-size="6.5" class="cl" textLength="28.5" lengthAdjust="spacingAndGlyphs">CD8 Tc1</text>
<text transform="translate(244.4 1004.8) rotate(-90)" font-size="6.5" class="cl" textLength="14.9" lengthAdjust="spacingAndGlyphs">NKT</text>
<text transform="translate(252.2 1004.8) rotate(-90)" font-size="6.5" class="cl" textLength="10.4" lengthAdjust="spacingAndGlyphs">NK</text>
<text transform="translate(260.0 1004.8) rotate(-90)" font-size="6.5" class="cl" textLength="11.6" lengthAdjust="spacingAndGlyphs">ILC</text>
<text transform="translate(267.8 1004.8) rotate(-90)" font-size="6.5" class="cl" textLength="24.9" lengthAdjust="spacingAndGlyphs">B naive</text>
<text transform="translate(275.5 1004.8) rotate(-90)" font-size="6.5" class="cl" textLength="54.8" lengthAdjust="spacingAndGlyphs">B mem switched</text>
<text transform="translate(283.3 1004.8) rotate(-90)" font-size="6.5" class="cl" textLength="63.1" lengthAdjust="spacingAndGlyphs">B mem unswitched</text>
<text transform="translate(291.1 1004.8) rotate(-90)" font-size="6.5" class="cl" textLength="38.2" lengthAdjust="spacingAndGlyphs">Plasma cell</text>
<text transform="translate(298.9 1004.8) rotate(-90)" font-size="6.5" class="cl" textLength="20.8" lengthAdjust="spacingAndGlyphs">Macro</text>
<text transform="translate(306.6 1004.8) rotate(-90)" font-size="6.5" class="cl" textLength="36.6" lengthAdjust="spacingAndGlyphs">Macro–lipo</text>
<text transform="translate(314.4 1004.8) rotate(-90)" font-size="6.5" class="cl" textLength="10.8" lengthAdjust="spacingAndGlyphs">DC</text>
<text x="62.9" y="607.6" class="ht" textLength="84.0" lengthAdjust="spacingAndGlyphs">Kumar et al.</text><text x="147.8" y="600.8" font-size="9.5" fill="#231f20" textLength="13.2" lengthAdjust="spacingAndGlyphs">20</text><text x="165.2" y="607.6" class="ht" textLength="94.5" lengthAdjust="spacingAndGlyphs">label transfer</text>
<text transform="translate(387.7 764.0) rotate(90)" class="ol" textLength="73.8" lengthAdjust="spacingAndGlyphs">Original label</text>
<text x="91.7" y="1075.8" class="ml" textLength="139" lengthAdjust="spacingAndGlyphs">Mapped label (this study)</text>
<rect x="411.00" y="616.00" width="322.00" height="386.00" fill="#e8e8e0"/>
<path d="M419.60 616.55h6.95v41.79h-6.95zM443.75 616.55h6.95v41.79h-6.95zM451.80 616.55h6.95v41.79h-6.95zM467.90 616.55h6.95v41.79h-6.95zM475.95 616.55h6.95v41.79h-6.95zM484.00 616.55h6.95v41.79h-6.95zM492.05 616.55h6.95v41.79h-6.95zM508.15 616.55h6.95v41.79h-6.95zM516.20 616.55h6.95v41.79h-6.95zM532.30 616.55h6.95v41.79h-6.95zM540.35 616.55h6.95v41.79h-6.95zM548.40 616.55h6.95v41.79h-6.95zM564.50 616.55h6.95v41.79h-6.95zM580.60 616.55h6.95v41.79h-6.95zM596.70 616.55h6.95v41.79h-6.95zM604.75 616.55h6.95v41.79h-6.95zM612.80 616.55h6.95v41.79h-6.95zM620.85 616.55h6.95v41.79h-6.95zM628.90 616.55h6.95v41.79h-6.95zM636.95 616.55h6.95v41.79h-6.95zM645.00 616.55h6.95v41.79h-6.95zM653.05 616.55h6.95v41.79h-6.95zM661.10 616.55h6.95v41.79h-6.95zM669.15 616.55h6.95v41.79h-6.95zM677.20 616.55h6.95v41.79h-6.95zM685.25 616.55h6.95v41.79h-6.95zM693.30 616.55h6.95v41.79h-6.95zM701.35 616.55h6.95v41.79h-6.95zM709.40 616.55h6.95v41.79h-6.95zM717.45 616.55h6.95v41.79h-6.95zM725.50 616.55h6.95v41.79h-6.95zM411.55 659.44h6.95v41.79h-6.95zM419.60 659.44h6.95v41.79h-6.95zM435.70 659.44h6.95v41.79h-6.95zM443.75 659.44h6.95v41.79h-6.95zM451.80 659.44h6.95v41.79h-6.95zM459.85 659.44h6.95v41.79h-6.95zM467.90 659.44h6.95v41.79h-6.95zM475.95 659.44h6.95v41.79h-6.95zM484.00 659.44h6.95v41.79h-6.95zM492.05 659.44h6.95v41.79h-6.95zM508.15 659.44h6.95v41.79h-6.95zM516.20 659.44h6.95v41.79h-6.95zM524.25 659.44h6.95v41.79h-6.95zM532.30 659.44h6.95v41.79h-6.95zM540.35 659.44h6.95v41.79h-6.95zM548.40 659.44h6.95v41.79h-6.95zM556.45 659.44h6.95v41.79h-6.95zM564.50 659.44h6.95v41.79h-6.95zM572.55 659.44h6.95v41.79h-6.95zM580.60 659.44h6.95v41.79h-6.95zM596.70 659.44h6.95v41.79h-6.95zM604.75 659.44h6.95v41.79h-6.95zM612.80 659.44h6.95v41.79h-6.95zM620.85 659.44h6.95v41.79h-6.95zM628.90 659.44h6.95v41.79h-6.95zM636.95 659.44h6.95v41.79h-6.95zM645.00 659.44h6.95v41.79h-6.95zM653.05 659.44h6.95v41.79h-6.95zM661.10 659.44h6.95v41.79h-6.95zM669.15 659.44h6.95v41.79h-6.95zM677.20 659.44h6.95v41.79h-6.95zM685.25 659.44h6.95v41.79h-6.95zM693.30 659.44h6.95v41.79h-6.95zM701.35 659.44h6.95v41.79h-6.95zM709.40 659.44h6.95v41.79h-6.95zM717.45 659.44h6.95v41.79h-6.95zM725.50 659.44h6.95v41.79h-6.95zM411.55 702.33h6.95v41.79h-6.95zM443.75 702.33h6.95v41.79h-6.95zM451.80 702.33h6.95v41.79h-6.95zM459.85 702.33h6.95v41.79h-6.95zM467.90 702.33h6.95v41.79h-6.95zM475.95 702.33h6.95v41.79h-6.95zM484.00 702.33h6.95v41.79h-6.95zM492.05 702.33h6.95v41.79h-6.95zM500.10 702.33h6.95v41.79h-6.95zM508.15 702.33h6.95v41.79h-6.95zM516.20 702.33h6.95v41.79h-6.95zM524.25 702.33h6.95v41.79h-6.95zM532.30 702.33h6.95v41.79h-6.95zM540.35 702.33h6.95v41.79h-6.95zM548.40 702.33h6.95v41.79h-6.95zM556.45 702.33h6.95v41.79h-6.95zM564.50 702.33h6.95v41.79h-6.95zM572.55 702.33h6.95v41.79h-6.95zM580.60 702.33h6.95v41.79h-6.95zM588.65 702.33h6.95v41.79h-6.95zM596.70 702.33h6.95v41.79h-6.95zM604.75 702.33h6.95v41.79h-6.95zM612.80 702.33h6.95v41.79h-6.95zM620.85 702.33h6.95v41.79h-6.95zM628.90 702.33h6.95v41.79h-6.95zM636.95 702.33h6.95v41.79h-6.95zM645.00 702.33h6.95v41.79h-6.95zM653.05 702.33h6.95v41.79h-6.95zM661.10 702.33h6.95v41.79h-6.95zM669.15 702.33h6.95v41.79h-6.95zM677.20 702.33h6.95v41.79h-6.95zM685.25 702.33h6.95v41.79h-6.95zM693.30 702.33h6.95v41.79h-6.95zM701.35 702.33h6.95v41.79h-6.95zM709.40 702.33h6.95v41.79h-6.95zM717.45 702.33h6.95v41.79h-6.95zM725.50 702.33h6.95v41.79h-6.95zM411.55 745.22h6.95v41.79h-6.95zM419.60 745.22h6.95v41.79h-6.95zM427.65 745.22h6.95v41.79h-6.95zM435.70 745.22h6.95v41.79h-6.95zM443.75 745.22h6.95v41.79h-6.95zM475.95 745.22h6.95v41.79h-6.95zM484.00 745.22h6.95v41.79h-6.95zM492.05 745.22h6.95v41.79h-6.95zM500.10 745.22h6.95v41.79h-6.95zM508.15 745.22h6.95v41.79h-6.95zM516.20 745.22h6.95v41.79h-6.95zM524.25 745.22h6.95v41.79h-6.95zM532.30 745.22h6.95v41.79h-6.95zM540.35 745.22h6.95v41.79h-6.95zM548.40 745.22h6.95v41.79h-6.95zM556.45 745.22h6.95v41.79h-6.95zM564.50 745.22h6.95v41.79h-6.95zM572.55 745.22h6.95v41.79h-6.95zM580.60 745.22h6.95v41.79h-6.95zM588.65 745.22h6.95v41.79h-6.95zM596.70 745.22h6.95v41.79h-6.95zM604.75 745.22h6.95v41.79h-6.95zM612.80 745.22h6.95v41.79h-6.95zM620.85 745.22h6.95v41.79h-6.95zM628.90 745.22h6.95v41.79h-6.95zM636.95 745.22h6.95v41.79h-6.95zM645.00 745.22h6.95v41.79h-6.95zM653.05 745.22h6.95v41.79h-6.95zM661.10 745.22h6.95v41.79h-6.95zM669.15 745.22h6.95v41.79h-6.95zM677.20 745.22h6.95v41.79h-6.95zM685.25 745.22h6.95v41.79h-6.95zM693.30 745.22h6.95v41.79h-6.95zM701.35 745.22h6.95v41.79h-6.95zM709.40 745.22h6.95v41.79h-6.95zM717.45 745.22h6.95v41.79h-6.95zM725.50 745.22h6.95v41.79h-6.95zM411.55 788.11h6.95v41.79h-6.95zM419.60 788.11h6.95v41.79h-6.95zM427.65 788.11h6.95v41.79h-6.95zM435.70 788.11h6.95v41.79h-6.95zM443.75 788.11h6.95v41.79h-6.95zM451.80 788.11h6.95v41.79h-6.95zM459.85 788.11h6.95v41.79h-6.95zM467.90 788.11h6.95v41.79h-6.95zM492.05 788.11h6.95v41.79h-6.95zM500.10 788.11h6.95v41.79h-6.95zM508.15 788.11h6.95v41.79h-6.95zM516.20 788.11h6.95v41.79h-6.95zM524.25 788.11h6.95v41.79h-6.95zM532.30 788.11h6.95v41.79h-6.95zM540.35 788.11h6.95v41.79h-6.95zM548.40 788.11h6.95v41.79h-6.95zM556.45 788.11h6.95v41.79h-6.95zM564.50 788.11h6.95v41.79h-6.95zM572.55 788.11h6.95v41.79h-6.95zM580.60 788.11h6.95v41.79h-6.95zM588.65 788.11h6.95v41.79h-6.95zM596.70 788.11h6.95v41.79h-6.95zM604.75 788.11h6.95v41.79h-6.95zM612.80 788.11h6.95v41.79h-6.95zM620.85 788.11h6.95v41.79h-6.95zM628.90 788.11h6.95v41.79h-6.95zM636.95 788.11h6.95v41.79h-6.95zM645.00 788.11h6.95v41.79h-6.95zM653.05 788.11h6.95v41.79h-6.95zM661.10 788.11h6.95v41.79h-6.95zM669.15 788.11h6.95v41.79h-6.95zM677.20 788.11h6.95v41.79h-6.95zM685.25 788.11h6.95v41.79h-6.95zM693.30 788.11h6.95v41.79h-6.95zM701.35 788.11h6.95v41.79h-6.95zM709.40 788.11h6.95v41.79h-6.95zM717.45 788.11h6.95v41.79h-6.95zM725.50 788.11h6.95v41.79h-6.95zM411.55 830.99h6.95v41.79h-6.95zM419.60 830.99h6.95v41.79h-6.95zM427.65 830.99h6.95v41.79h-6.95zM435.70 830.99h6.95v41.79h-6.95zM443.75 830.99h6.95v41.79h-6.95zM451.80 830.99h6.95v41.79h-6.95zM459.85 830.99h6.95v41.79h-6.95zM467.90 830.99h6.95v41.79h-6.95zM475.95 830.99h6.95v41.79h-6.95zM484.00 830.99h6.95v41.79h-6.95zM524.25 830.99h6.95v41.79h-6.95zM532.30 830.99h6.95v41.79h-6.95zM540.35 830.99h6.95v41.79h-6.95zM548.40 830.99h6.95v41.79h-6.95zM556.45 830.99h6.95v41.79h-6.95zM564.50 830.99h6.95v41.79h-6.95zM572.55 830.99h6.95v41.79h-6.95zM580.60 830.99h6.95v41.79h-6.95zM588.65 830.99h6.95v41.79h-6.95zM596.70 830.99h6.95v41.79h-6.95zM604.75 830.99h6.95v41.79h-6.95zM612.80 830.99h6.95v41.79h-6.95zM620.85 830.99h6.95v41.79h-6.95zM628.90 830.99h6.95v41.79h-6.95zM636.95 830.99h6.95v41.79h-6.95zM645.00 830.99h6.95v41.79h-6.95zM653.05 830.99h6.95v41.79h-6.95zM661.10 830.99h6.95v41.79h-6.95zM669.15 830.99h6.95v41.79h-6.95zM677.20 830.99h6.95v41.79h-6.95zM685.25 830.99h6.95v41.79h-6.95zM693.30 830.99h6.95v41.79h-6.95zM701.35 830.99h6.95v41.79h-6.95zM709.40 830.99h6.95v41.79h-6.95zM717.45 830.99h6.95v41.79h-6.95zM725.50 830.99h6.95v41.79h-6.95zM411.55 873.88h6.95v41.79h-6.95zM419.60 873.88h6.95v41.79h-6.95zM427.65 873.88h6.95v41.79h-6.95zM435.70 873.88h6.95v41.79h-6.95zM443.75 873.88h6.95v41.79h-6.95zM451.80 873.88h6.95v41.79h-6.95zM459.85 873.88h6.95v41.79h-6.95zM467.90 873.88h6.95v41.79h-6.95zM475.95 873.88h6.95v41.79h-6.95zM484.00 873.88h6.95v41.79h-6.95zM492.05 873.88h6.95v41.79h-6.95zM500.10 873.88h6.95v41.79h-6.95zM508.15 873.88h6.95v41.79h-6.95zM516.20 873.88h6.95v41.79h-6.95zM524.25 873.88h6.95v41.79h-6.95zM564.50 873.88h6.95v41.79h-6.95zM572.55 873.88h6.95v41.79h-6.95zM580.60 873.88h6.95v41.79h-6.95zM588.65 873.88h6.95v41.79h-6.95zM596.70 873.88h6.95v41.79h-6.95zM604.75 873.88h6.95v41.79h-6.95zM612.80 873.88h6.95v41.79h-6.95zM620.85 873.88h6.95v41.79h-6.95zM628.90 873.88h6.95v41.79h-6.95zM636.95 873.88h6.95v41.79h-6.95zM645.00 873.88h6.95v41.79h-6.95zM653.05 873.88h6.95v41.79h-6.95zM661.10 873.88h6.95v41.79h-6.95zM669.15 873.88h6.95v41.79h-6.95zM677.20 873.88h6.95v41.79h-6.95zM685.25 873.88h6.95v41.79h-6.95zM693.30 873.88h6.95v41.79h-6.95zM701.35 873.88h6.95v41.79h-6.95zM709.40 873.88h6.95v41.79h-6.95zM717.45 873.88h6.95v41.79h-6.95zM725.50 873.88h6.95v41.79h-6.95zM411.55 916.77h6.95v41.79h-6.95zM419.60 916.77h6.95v41.79h-6.95zM427.65 916.77h6.95v41.79h-6.95zM435.70 916.77h6.95v41.79h-6.95zM443.75 916.77h6.95v41.79h-6.95zM451.80 916.77h6.95v41.79h-6.95zM459.85 916.77h6.95v41.79h-6.95zM467.90 916.77h6.95v41.79h-6.95zM475.95 916.77h6.95v41.79h-6.95zM484.00 916.77h6.95v41.79h-6.95zM492.05 916.77h6.95v41.79h-6.95zM500.10 916.77h6.95v41.79h-6.95zM508.15 916.77h6.95v41.79h-6.95zM516.20 916.77h6.95v41.79h-6.95zM524.25 916.77h6.95v41.79h-6.95zM532.30 916.77h6.95v41.79h-6.95zM540.35 916.77h6.95v41.79h-6.95zM548.40 916.77h6.95v41.79h-6.95zM556.45 916.77h6.95v41.79h-6.95zM588.65 916.77h6.95v41.79h-6.95zM596.70 916.77h6.95v41.79h-6.95zM604.75 916.77h6.95v41.79h-6.95zM612.80 916.77h6.95v41.79h-6.95zM620.85 916.77h6.95v41.79h-6.95zM628.90 916.77h6.95v41.79h-6.95zM636.95 916.77h6.95v41.79h-6.95zM645.00 916.77h6.95v41.79h-6.95zM653.05 916.77h6.95v41.79h-6.95zM661.10 916.77h6.95v41.79h-6.95zM669.15 916.77h6.95v41.79h-6.95zM677.20 916.77h6.95v41.79h-6.95zM685.25 916.77h6.95v41.79h-6.95zM693.30 916.77h6.95v41.79h-6.95zM701.35 916.77h6.95v41.79h-6.95zM709.40 916.77h6.95v41.79h-6.95zM717.45 916.77h6.95v41.79h-6.95zM725.50 916.77h6.95v41.79h-6.95zM411.55 959.66h6.95v41.79h-6.95zM419.60 959.66h6.95v41.79h-6.95zM427.65 959.66h6.95v41.79h-6.95zM435.70 959.66h6.95v41.79h-6.95zM443.75 959.66h6.95v41.79h-6.95zM451.80 959.66h6.95v41.79h-6.95zM459.85 959.66h6.95v41.79h-6.95zM467.90 959.66h6.95v41.79h-6.95zM475.95 959.66h6.95v41.79h-6.95zM484.00 959.66h6.95v41.79h-6.95zM492.05 959.66h6.95v41.79h-6.95zM500.10 959.66h6.95v41.79h-6.95zM508.15 959.66h6.95v41.79h-6.95zM516.20 959.66h6.95v41.79h-6.95zM524.25 959.66h6.95v41.79h-6.95zM532.30 959.66h6.95v41.79h-6.95zM540.35 959.66h6.95v41.79h-6.95zM548.40 959.66h6.95v41.79h-6.95zM556.45 959.66h6.95v41.79h-6.95zM564.50 959.66h6.95v41.79h-6.95zM572.55 959.66h6.95v41.79h-6.95zM580.60 959.66h6.95v41.79h-6.95zM588.65 959.66h6.95v41.79h-6.95zM596.70 959.66h6.95v41.79h-6.95zM604.75 959.66h6.95v41.79h-6.95zM628.90 959.66h6.95v41.79h-6.95zM653.05 959.66h6.95v41.79h-6.95zM661.10 959.66h6.95v41.79h-6.95zM669.15 959.66h6.95v41.79h-6.95zM677.20 959.66h6.95v41.79h-6.95zM685.25 959.66h6.95v41.79h-6.95zM693.30 959.66h6.95v41.79h-6.95zM701.35 959.66h6.95v41.79h-6.95zM717.45 959.66h6.95v41.79h-6.95zM725.50 959.66h6.95v41.79h-6.95z" fill="#ededc2"/>
<rect x="411.55" y="616.55" width="6.95" height="41.79" fill="#ebe7b0"/>
<rect x="427.65" y="616.55" width="6.95" height="41.79" fill="#f0c576"/>
<rect x="435.70" y="616.55" width="6.95" height="41.79" fill="#f0dc95"/>
<rect x="459.85" y="616.55" width="6.95" height="41.79" fill="#ebe7b0"/>
<rect x="500.10" y="616.55" width="6.95" height="41.79" fill="#ebe7b0"/>
<rect x="524.25" y="616.55" width="6.95" height="41.79" fill="#f0dc95"/>
<rect x="556.45" y="616.55" width="6.95" height="41.79" fill="#ebe7b0"/>
<rect x="572.55" y="616.55" width="6.95" height="41.79" fill="#f0dc95"/>
<rect x="588.65" y="616.55" width="6.95" height="41.79" fill="#f0dc95"/>
<rect x="427.65" y="659.44" width="6.95" height="41.79" fill="#f0dc95"/>
<rect x="500.10" y="659.44" width="6.95" height="41.79" fill="#ebe7b0"/>
<rect x="588.65" y="659.44" width="6.95" height="41.79" fill="#a02a42"/>
<rect x="419.60" y="702.33" width="6.95" height="41.79" fill="#f0a544"/>
<rect x="427.65" y="702.33" width="6.95" height="41.79" fill="#ee8a2e"/>
<rect x="435.70" y="702.33" width="6.95" height="41.79" fill="#f0c576"/>
<rect x="451.80" y="745.22" width="6.95" height="41.79" fill="#f0a544"/>
<rect x="459.85" y="745.22" width="6.95" height="41.79" fill="#e2662f"/>
<rect x="467.90" y="745.22" width="6.95" height="41.79" fill="#ebe7b0"/>
<rect x="475.95" y="788.11" width="6.95" height="41.79" fill="#ebe7b0"/>
<rect x="484.00" y="788.11" width="6.95" height="41.79" fill="#2a0418"/>
<rect x="492.05" y="830.99" width="6.95" height="41.79" fill="#a02a42"/>
<rect x="500.10" y="830.99" width="6.95" height="41.79" fill="#ebe7b0"/>
<rect x="508.15" y="830.99" width="6.95" height="41.79" fill="#ebe7b0"/>
<rect x="516.20" y="830.99" width="6.95" height="41.79" fill="#f0dc95"/>
<rect x="532.30" y="873.88" width="6.95" height="41.79" fill="#ebe7b0"/>
<rect x="540.35" y="873.88" width="6.95" height="41.79" fill="#f0a544"/>
<rect x="548.40" y="873.88" width="6.95" height="41.79" fill="#ee8a2e"/>
<rect x="556.45" y="873.88" width="6.95" height="41.79" fill="#f0c576"/>
<rect x="564.50" y="916.77" width="6.95" height="41.79" fill="#e2662f"/>
<rect x="572.55" y="916.77" width="6.95" height="41.79" fill="#f0c576"/>
<rect x="580.60" y="916.77" width="6.95" height="41.79" fill="#f0c576"/>
<rect x="612.80" y="959.66" width="6.95" height="41.79" fill="#f0dc95"/>
<rect x="620.85" y="959.66" width="6.95" height="41.79" fill="#ebe7b0"/>
<rect x="636.95" y="959.66" width="6.95" height="41.79" fill="#f0c576"/>
<rect x="645.00" y="959.66" width="6.95" height="41.79" fill="#f0dc95"/>
<rect x="709.40" y="959.66" width="6.95" height="41.79" fill="#ee8a2e"/>
<text x="737.8" y="641.7" font-size="6.5" class="rl" textLength="13.5" lengthAdjust="spacingAndGlyphs">LC1</text>
<text x="737.8" y="684.6" font-size="6.5" class="rl" textLength="13.5" lengthAdjust="spacingAndGlyphs">LC2</text>
<text x="737.8" y="727.5" font-size="6.5" class="rl" textLength="9.0" lengthAdjust="spacingAndGlyphs">LP</text>
<text x="737.8" y="770.4" font-size="6.5" class="rl" textLength="10.6" lengthAdjust="spacingAndGlyphs">HR</text>
<text x="737.8" y="813.3" font-size="6.5" class="rl" textLength="9.8" lengthAdjust="spacingAndGlyphs">BA</text>
<text x="737.8" y="856.2" font-size="6.5" class="rl" textLength="9.4" lengthAdjust="spacingAndGlyphs">FB</text>
<text x="737.8" y="899.1" font-size="6.5" class="rl" textLength="9.3" lengthAdjust="spacingAndGlyphs">VA</text>
<text x="737.8" y="942.0" font-size="6.5" class="rl" textLength="10.2" lengthAdjust="spacingAndGlyphs">EN</text>
<text x="737.8" y="984.9" font-size="6.5" class="rl" textLength="8.2" lengthAdjust="spacingAndGlyphs">IM</text>
<text transform="translate(417.3 1004.5) rotate(-90)" font-size="6.5" class="cl" textLength="23.3" lengthAdjust="spacingAndGlyphs">LASP1</text>
<text transform="translate(425.4 1004.5) rotate(-90)" font-size="6.5" class="cl" textLength="23.3" lengthAdjust="spacingAndGlyphs">LASP2</text>
<text transform="translate(433.4 1004.5) rotate(-90)" font-size="6.5" class="cl" textLength="23.3" lengthAdjust="spacingAndGlyphs">LASP3</text>
<text transform="translate(441.5 1004.5) rotate(-90)" font-size="6.5" class="cl" textLength="23.3" lengthAdjust="spacingAndGlyphs">LASP4</text>
<text transform="translate(449.5 1004.5) rotate(-90)" font-size="6.5" class="cl" textLength="23.3" lengthAdjust="spacingAndGlyphs">LASP5</text>
<text transform="translate(457.6 1004.5) rotate(-90)" font-size="6.5" class="cl" textLength="18.7" lengthAdjust="spacingAndGlyphs">LHS1</text>
<text transform="translate(465.6 1004.5) rotate(-90)" font-size="6.5" class="cl" textLength="18.7" lengthAdjust="spacingAndGlyphs">LHS2</text>
<text transform="translate(473.7 1004.5) rotate(-90)" font-size="6.5" class="cl" textLength="18.7" lengthAdjust="spacingAndGlyphs">LHS3</text>
<text transform="translate(481.7 1004.5) rotate(-90)" font-size="6.5" class="cl" textLength="26.2" lengthAdjust="spacingAndGlyphs">BMYO1</text>
<text transform="translate(489.8 1004.5) rotate(-90)" font-size="6.5" class="cl" textLength="26.2" lengthAdjust="spacingAndGlyphs">BMYO2</text>
<text transform="translate(497.8 1004.5) rotate(-90)" font-size="6.5" class="cl" textLength="13.7" lengthAdjust="spacingAndGlyphs">FB1</text>
<text transform="translate(505.9 1004.5) rotate(-90)" font-size="6.5" class="cl" textLength="13.7" lengthAdjust="spacingAndGlyphs">FB2</text>
<text transform="translate(513.9 1004.5) rotate(-90)" font-size="6.5" class="cl" textLength="13.7" lengthAdjust="spacingAndGlyphs">FB3</text>
<text transform="translate(522.0 1004.5) rotate(-90)" font-size="6.5" class="cl" textLength="13.7" lengthAdjust="spacingAndGlyphs">FB4</text>
<text transform="translate(530.0 1004.5) rotate(-90)" font-size="6.5" class="cl" textLength="14.1" lengthAdjust="spacingAndGlyphs">PV1</text>
<text transform="translate(538.1 1004.5) rotate(-90)" font-size="6.5" class="cl" textLength="14.1" lengthAdjust="spacingAndGlyphs">PV2</text>
<text transform="translate(546.1 1004.5) rotate(-90)" font-size="6.5" class="cl" textLength="14.1" lengthAdjust="spacingAndGlyphs">PV3</text>
<text transform="translate(554.2 1004.5) rotate(-90)" font-size="6.5" class="cl" textLength="14.1" lengthAdjust="spacingAndGlyphs">PV4</text>
<text transform="translate(562.2 1004.5) rotate(-90)" font-size="6.5" class="cl" textLength="14.1" lengthAdjust="spacingAndGlyphs">PV5</text>
<text transform="translate(570.3 1004.5) rotate(-90)" font-size="6.5" class="cl" textLength="15.0" lengthAdjust="spacingAndGlyphs">VEV</text>
<text transform="translate(578.3 1004.5) rotate(-90)" font-size="6.5" class="cl" textLength="15.4" lengthAdjust="spacingAndGlyphs">VEC</text>
<text transform="translate(586.4 1004.5) rotate(-90)" font-size="6.5" class="cl" textLength="15.0" lengthAdjust="spacingAndGlyphs">VEA</text>
<text transform="translate(594.4 1004.5) rotate(-90)" font-size="6.5" class="cl" textLength="19.0" lengthAdjust="spacingAndGlyphs">VEAT</text>
<text transform="translate(602.5 1004.5) rotate(-90)" font-size="6.5" class="cl" textLength="13.3" lengthAdjust="spacingAndGlyphs">LE1</text>
<text transform="translate(610.5 1004.5) rotate(-90)" font-size="6.5" class="cl" textLength="13.3" lengthAdjust="spacingAndGlyphs">LE2</text>
<text transform="translate(618.6 1004.5) rotate(-90)" font-size="6.5" class="cl" textLength="34.9" lengthAdjust="spacingAndGlyphs">CD4 naive</text>
<text transform="translate(626.6 1004.5) rotate(-90)" font-size="6.5" class="cl" textLength="25.6" lengthAdjust="spacingAndGlyphs">CD4 Th</text>
<text transform="translate(634.7 1004.5) rotate(-90)" font-size="6.5" class="cl" textLength="31.0" lengthAdjust="spacingAndGlyphs">CD8 Tem</text>
<text transform="translate(642.7 1004.5) rotate(-90)" font-size="6.5" class="cl" textLength="29.9" lengthAdjust="spacingAndGlyphs">CD8 Trm</text>
<text transform="translate(650.8 1004.5) rotate(-90)" font-size="6.5" class="cl" textLength="28.5" lengthAdjust="spacingAndGlyphs">CD8 Tc1</text>
<text transform="translate(658.8 1004.5) rotate(-90)" font-size="6.5" class="cl" textLength="14.9" lengthAdjust="spacingAndGlyphs">NKT</text>
<text transform="translate(666.9 1004.5) rotate(-90)" font-size="6.5" class="cl" textLength="10.4" lengthAdjust="spacingAndGlyphs">NK</text>
<text transform="translate(674.9 1004.5) rotate(-90)" font-size="6.5" class="cl" textLength="11.6" lengthAdjust="spacingAndGlyphs">ILC</text>
<text transform="translate(683.0 1004.5) rotate(-90)" font-size="6.5" class="cl" textLength="24.9" lengthAdjust="spacingAndGlyphs">B naive</text>
<text transform="translate(691.0 1004.5) rotate(-90)" font-size="6.5" class="cl" textLength="54.8" lengthAdjust="spacingAndGlyphs">B mem switched</text>
<text transform="translate(699.1 1004.5) rotate(-90)" font-size="6.5" class="cl" textLength="63.1" lengthAdjust="spacingAndGlyphs">B mem unswitched</text>
<text transform="translate(707.1 1004.5) rotate(-90)" font-size="6.5" class="cl" textLength="38.2" lengthAdjust="spacingAndGlyphs">Plasma cell</text>
<text transform="translate(715.2 1004.5) rotate(-90)" font-size="6.5" class="cl" textLength="20.8" lengthAdjust="spacingAndGlyphs">Macro</text>
<text transform="translate(723.2 1004.5) rotate(-90)" font-size="6.5" class="cl" textLength="36.6" lengthAdjust="spacingAndGlyphs">Macro–lipo</text>
<text transform="translate(731.3 1004.5) rotate(-90)" font-size="6.5" class="cl" textLength="10.8" lengthAdjust="spacingAndGlyphs">DC</text>
<text x="468.6" y="607.5" class="ht" textLength="96.4" lengthAdjust="spacingAndGlyphs">Twigger et al.</text><text x="566.4" y="600.8" font-size="9.5" fill="#231f20" textLength="8.6" lengthAdjust="spacingAndGlyphs">16</text><text x="580.8" y="607.5" class="ht" textLength="94.0" lengthAdjust="spacingAndGlyphs">label transfer</text>
<text transform="translate(760.2 763.9) rotate(90)" class="ol" textLength="73.8" lengthAdjust="spacingAndGlyphs">Original label</text>
<text x="501.7" y="1075.8" class="ml" textLength="139" lengthAdjust="spacingAndGlyphs">Mapped label (this study)</text>
<rect x="822.00" y="620.40" width="318.80" height="379.10" fill="#e8e8e0"/>
<path d="M822.55 620.95h6.87v21.20h-6.87zM830.52 620.95h6.87v21.20h-6.87zM854.43 620.95h6.87v21.20h-6.87zM862.40 620.95h6.87v21.20h-6.87zM870.37 620.95h6.87v21.20h-6.87zM878.34 620.95h6.87v21.20h-6.87zM886.31 620.95h6.87v21.20h-6.87zM894.28 620.95h6.87v21.20h-6.87zM902.25 620.95h6.87v21.20h-6.87zM910.22 620.95h6.87v21.20h-6.87zM918.19 620.95h6.87v21.20h-6.87zM926.16 620.95h6.87v21.20h-6.87zM934.13 620.95h6.87v21.20h-6.87zM942.10 620.95h6.87v21.20h-6.87zM950.07 620.95h6.87v21.20h-6.87zM958.04 620.95h6.87v21.20h-6.87zM966.01 620.95h6.87v21.20h-6.87zM973.98 620.95h6.87v21.20h-6.87zM981.95 620.95h6.87v21.20h-6.87zM989.92 620.95h6.87v21.20h-6.87zM997.89 620.95h6.87v21.20h-6.87zM1005.86 620.95h6.87v21.20h-6.87zM1013.83 620.95h6.87v21.20h-6.87zM1021.80 620.95h6.87v21.20h-6.87zM1029.77 620.95h6.87v21.20h-6.87zM1037.74 620.95h6.87v21.20h-6.87zM1045.71 620.95h6.87v21.20h-6.87zM1053.68 620.95h6.87v21.20h-6.87zM1061.65 620.95h6.87v21.20h-6.87zM1069.62 620.95h6.87v21.20h-6.87zM1077.59 620.95h6.87v21.20h-6.87zM1085.56 620.95h6.87v21.20h-6.87zM1093.53 620.95h6.87v21.20h-6.87zM1101.50 620.95h6.87v21.20h-6.87zM1109.47 620.95h6.87v21.20h-6.87zM1117.44 620.95h6.87v21.20h-6.87zM1125.41 620.95h6.87v21.20h-6.87zM1133.38 620.95h6.87v21.20h-6.87zM854.43 643.25h6.87v21.20h-6.87zM862.40 643.25h6.87v21.20h-6.87zM870.37 643.25h6.87v21.20h-6.87zM878.34 643.25h6.87v21.20h-6.87zM886.31 643.25h6.87v21.20h-6.87zM894.28 643.25h6.87v21.20h-6.87zM902.25 643.25h6.87v21.20h-6.87zM910.22 643.25h6.87v21.20h-6.87zM918.19 643.25h6.87v21.20h-6.87zM926.16 643.25h6.87v21.20h-6.87zM934.13 643.25h6.87v21.20h-6.87zM942.10 643.25h6.87v21.20h-6.87zM950.07 643.25h6.87v21.20h-6.87zM958.04 643.25h6.87v21.20h-6.87zM966.01 643.25h6.87v21.20h-6.87zM973.98 643.25h6.87v21.20h-6.87zM981.95 643.25h6.87v21.20h-6.87zM989.92 643.25h6.87v21.20h-6.87zM997.89 643.25h6.87v21.20h-6.87zM1005.86 643.25h6.87v21.20h-6.87zM1013.83 643.25h6.87v21.20h-6.87zM1021.80 643.25h6.87v21.20h-6.87zM1029.77 643.25h6.87v21.20h-6.87zM1037.74 643.25h6.87v21.20h-6.87zM1045.71 643.25h6.87v21.20h-6.87zM1053.68 643.25h6.87v21.20h-6.87zM1061.65 643.25h6.87v21.20h-6.87zM1069.62 643.25h6.87v21.20h-6.87zM1077.59 643.25h6.87v21.20h-6.87zM1085.56 643.25h6.87v21.20h-6.87zM1093.53 643.25h6.87v21.20h-6.87zM1101.50 643.25h6.87v21.20h-6.87zM1109.47 643.25h6.87v21.20h-6.87zM1117.44 643.25h6.87v21.20h-6.87zM1125.41 643.25h6.87v21.20h-6.87zM1133.38 643.25h6.87v21.20h-6.87zM822.55 665.55h6.87v21.20h-6.87zM830.52 665.55h6.87v21.20h-6.87zM838.49 665.55h6.87v21.20h-6.87zM846.46 665.55h6.87v21.20h-6.87zM854.43 665.55h6.87v21.20h-6.87zM886.31 665.55h6.87v21.20h-6.87zM894.28 665.55h6.87v21.20h-6.87zM902.25 665.55h6.87v21.20h-6.87zM910.22 665.55h6.87v21.20h-6.87zM918.19 665.55h6.87v21.20h-6.87zM926.16 665.55h6.87v21.20h-6.87zM934.13 665.55h6.87v21.20h-6.87zM942.10 665.55h6.87v21.20h-6.87zM950.07 665.55h6.87v21.20h-6.87zM958.04 665.55h6.87v21.20h-6.87zM966.01 665.55h6.87v21.20h-6.87zM973.98 665.55h6.87v21.20h-6.87zM981.95 665.55h6.87v21.20h-6.87zM989.92 665.55h6.87v21.20h-6.87zM997.89 665.55h6.87v21.20h-6.87zM1005.86 665.55h6.87v21.20h-6.87zM1013.83 665.55h6.87v21.20h-6.87zM1021.80 665.55h6.87v21.20h-6.87zM1029.77 665.55h6.87v21.20h-6.87zM1037.74 665.55h6.87v21.20h-6.87zM1045.71 665.55h6.87v21.20h-6.87zM1053.68 665.55h6.87v21.20h-6.87zM1061.65 665.55h6.87v21.20h-6.87zM1069.62 665.55h6.87v21.20h-6.87zM1077.59 665.55h6.87v21.20h-6.87zM1085.56 665.55h6.87v21.20h-6.87zM1093.53 665.55h6.87v21.20h-6.87zM1101.50 665.55h6.87v21.20h-6.87zM1109.47 665.55h6.87v21.20h-6.87zM1117.44 665.55h6.87v21.20h-6.87zM1125.41 665.55h6.87v21.20h-6.87zM1133.38 665.55h6.87v21.20h-6.87zM822.55 687.85h6.87v21.20h-6.87zM830.52 687.85h6.87v21.20h-6.87zM838.49 687.85h6.87v21.20h-6.87zM846.46 687.85h6.87v21.20h-6.87zM854.43 687.85h6.87v21.20h-6.87zM878.34 687.85h6.87v21.20h-6.87zM886.31 687.85h6.87v21.20h-6.87zM894.28 687.85h6.87v21.20h-6.87zM902.25 687.85h6.87v21.20h-6.87zM910.22 687.85h6.87v21.20h-6.87zM918.19 687.85h6.87v21.20h-6.87zM926.16 687.85h6.87v21.20h-6.87zM934.13 687.85h6.87v21.20h-6.87zM942.10 687.85h6.87v21.20h-6.87zM950.07 687.85h6.87v21.20h-6.87zM958.04 687.85h6.87v21.20h-6.87zM966.01 687.85h6.87v21.20h-6.87zM973.98 687.85h6.87v21.20h-6.87zM981.95 687.85h6.87v21.20h-6.87zM989.92 687.85h6.87v21.20h-6.87zM997.89 687.85h6.87v21.20h-6.87zM1005.86 687.85h6.87v21.20h-6.87zM1013.83 687.85h6.87v21.20h-6.87zM1021.80 687.85h6.87v21.20h-6.87zM1029.77 687.85h6.87v21.20h-6.87zM1037.74 687.85h6.87v21.20h-6.87zM1045.71 687.85h6.87v21.20h-6.87zM1053.68 687.85h6.87v21.20h-6.87zM1061.65 687.85h6.87v21.20h-6.87zM1069.62 687.85h6.87v21.20h-6.87zM1077.59 687.85h6.87v21.20h-6.87zM1085.56 687.85h6.87v21.20h-6.87zM1093.53 687.85h6.87v21.20h-6.87zM1101.50 687.85h6.87v21.20h-6.87zM1109.47 687.85h6.87v21.20h-6.87zM1117.44 687.85h6.87v21.20h-6.87zM1125.41 687.85h6.87v21.20h-6.87zM1133.38 687.85h6.87v21.20h-6.87zM822.55 710.15h6.87v21.20h-6.87zM830.52 710.15h6.87v21.20h-6.87zM838.49 710.15h6.87v21.20h-6.87zM846.46 710.15h6.87v21.20h-6.87zM854.43 710.15h6.87v21.20h-6.87zM862.40 710.15h6.87v21.20h-6.87zM870.37 710.15h6.87v21.20h-6.87zM878.34 710.15h6.87v21.20h-6.87zM902.25 710.15h6.87v21.20h-6.87zM910.22 710.15h6.87v21.20h-6.87zM918.19 710.15h6.87v21.20h-6.87zM926.16 710.15h6.87v21.20h-6.87zM934.13 710.15h6.87v21.20h-6.87zM942.10 710.15h6.87v21.20h-6.87zM950.07 710.15h6.87v21.20h-6.87zM958.04 710.15h6.87v21.20h-6.87zM966.01 710.15h6.87v21.20h-6.87zM973.98 710.15h6.87v21.20h-6.87zM981.95 710.15h6.87v21.20h-6.87zM989.92 710.15h6.87v21.20h-6.87zM997.89 710.15h6.87v21.20h-6.87zM1005.86 710.15h6.87v21.20h-6.87zM1013.83 710.15h6.87v21.20h-6.87zM1021.80 710.15h6.87v21.20h-6.87zM1029.77 710.15h6.87v21.20h-6.87zM1037.74 710.15h6.87v21.20h-6.87zM1045.71 710.15h6.87v21.20h-6.87zM1053.68 710.15h6.87v21.20h-6.87zM1061.65 710.15h6.87v21.20h-6.87zM1069.62 710.15h6.87v21.20h-6.87zM1077.59 710.15h6.87v21.20h-6.87zM1085.56 710.15h6.87v21.20h-6.87zM1093.53 710.15h6.87v21.20h-6.87zM1101.50 710.15h6.87v21.20h-6.87zM1109.47 710.15h6.87v21.20h-6.87zM1117.44 710.15h6.87v21.20h-6.87zM1125.41 710.15h6.87v21.20h-6.87zM1133.38 710.15h6.87v21.20h-6.87zM822.55 732.45h6.87v21.20h-6.87zM830.52 732.45h6.87v21.20h-6.87zM838.49 732.45h6.87v21.20h-6.87zM846.46 732.45h6.87v21.20h-6.87zM854.43 732.45h6.87v21.20h-6.87zM862.40 732.45h6.87v21.20h-6.87zM870.37 732.45h6.87v21.20h-6.87zM878.34 732.45h6.87v21.20h-6.87zM902.25 732.45h6.87v21.20h-6.87zM910.22 732.45h6.87v21.20h-6.87zM918.19 732.45h6.87v21.20h-6.87zM926.16 732.45h6.87v21.20h-6.87zM934.13 732.45h6.87v21.20h-6.87zM942.10 732.45h6.87v21.20h-6.87zM950.07 732.45h6.87v21.20h-6.87zM958.04 732.45h6.87v21.20h-6.87zM966.01 732.45h6.87v21.20h-6.87zM973.98 732.45h6.87v21.20h-6.87zM981.95 732.45h6.87v21.20h-6.87zM989.92 732.45h6.87v21.20h-6.87zM997.89 732.45h6.87v21.20h-6.87zM1005.86 732.45h6.87v21.20h-6.87zM1013.83 732.45h6.87v21.20h-6.87zM1021.80 732.45h6.87v21.20h-6.87zM1029.77 732.45h6.87v21.20h-6.87zM1037.74 732.45h6.87v21.20h-6.87zM1045.71 732.45h6.87v21.20h-6.87zM1053.68 732.45h6.87v21.20h-6.87zM1061.65 732.45h6.87v21.20h-6.87zM1069.62 732.45h6.87v21.20h-6.87zM1077.59 732.45h6.87v21.20h-6.87zM1085.56 732.45h6.87v21.20h-6.87zM1093.53 732.45h6.87v21.20h-6.87zM1101.50 732.45h6.87v21.20h-6.87zM1109.47 732.45h6.87v21.20h-6.87zM1117.44 732.45h6.87v21.20h-6.87zM1125.41 732.45h6.87v21.20h-6.87zM1133.38 732.45h6.87v21.20h-6.87zM822.55 754.75h6.87v21.20h-6.87zM830.52 754.75h6.87v21.20h-6.87zM838.49 754.75h6.87v21.20h-6.87zM846.46 754.75h6.87v21.20h-6.87zM854.43 754.75h6.87v21.20h-6.87zM862.40 754.75h6.87v21.20h-6.87zM870.37 754.75h6.87v21.20h-6.87zM878.34 754.75h6.87v21.20h-6.87zM886.31 754.75h6.87v21.20h-6.87zM894.28 754.75h6.87v21.20h-6.87zM902.25 754.75h6.87v21.20h-6.87zM910.22 754.75h6.87v21.20h-6.87zM926.16 754.75h6.87v21.20h-6.87zM934.13 754.75h6.87v21.20h-6.87zM942.10 754.75h6.87v21.20h-6.87zM950.07 754.75h6.87v21.20h-6.87zM958.04 754.75h6.87v21.20h-6.87zM966.01 754.75h6.87v21.20h-6.87zM973.98 754.75h6.87v21.20h-6.87zM981.95 754.75h6.87v21.20h-6.87zM989.92 754.75h6.87v21.20h-6.87zM997.89 754.75h6.87v21.20h-6.87zM1005.86 754.75h6.87v21.20h-6.87zM1013.83 754.75h6.87v21.20h-6.87zM1021.80 754.75h6.87v21.20h-6.87zM1029.77 754.75h6.87v21.20h-6.87zM1037.74 754.75h6.87v21.20h-6.87zM1045.71 754.75h6.87v21.20h-6.87zM1053.68 754.75h6.87v21.20h-6.87zM1061.65 754.75h6.87v21.20h-6.87zM1069.62 754.75h6.87v21.20h-6.87zM1077.59 754.75h6.87v21.20h-6.87zM1085.56 754.75h6.87v21.20h-6.87zM1093.53 754.75h6.87v21.20h-6.87zM1101.50 754.75h6.87v21.20h-6.87zM1109.47 754.75h6.87v21.20h-6.87zM1117.44 754.75h6.87v21.20h-6.87zM1125.41 754.75h6.87v21.20h-6.87zM1133.38 754.75h6.87v21.20h-6.87zM822.55 777.05h6.87v21.20h-6.87zM830.52 777.05h6.87v21.20h-6.87zM838.49 777.05h6.87v21.20h-6.87zM846.46 777.05h6.87v21.20h-6.87zM854.43 777.05h6.87v21.20h-6.87zM862.40 777.05h6.87v21.20h-6.87zM870.37 777.05h6.87v21.20h-6.87zM878.34 777.05h6.87v21.20h-6.87zM886.31 777.05h6.87v21.20h-6.87zM894.28 777.05h6.87v21.20h-6.87zM918.19 777.05h6.87v21.20h-6.87zM926.16 777.05h6.87v21.20h-6.87zM934.13 777.05h6.87v21.20h-6.87zM942.10 777.05h6.87v21.20h-6.87zM950.07 777.05h6.87v21.20h-6.87zM958.04 777.05h6.87v21.20h-6.87zM966.01 777.05h6.87v21.20h-6.87zM973.98 777.05h6.87v21.20h-6.87zM981.95 777.05h6.87v21.20h-6.87zM989.92 777.05h6.87v21.20h-6.87zM997.89 777.05h6.87v21.20h-6.87zM1005.86 777.05h6.87v21.20h-6.87zM1013.83 777.05h6.87v21.20h-6.87zM1021.80 777.05h6.87v21.20h-6.87zM1029.77 777.05h6.87v21.20h-6.87zM1037.74 777.05h6.87v21.20h-6.87zM1045.71 777.05h6.87v21.20h-6.87zM1053.68 777.05h6.87v21.20h-6.87zM1061.65 777.05h6.87v21.20h-6.87zM1069.62 777.05h6.87v21.20h-6.87zM1077.59 777.05h6.87v21.20h-6.87zM1085.56 777.05h6.87v21.20h-6.87zM1093.53 777.05h6.87v21.20h-6.87zM1101.50 777.05h6.87v21.20h-6.87zM1109.47 777.05h6.87v21.20h-6.87zM1117.44 777.05h6.87v21.20h-6.87zM1125.41 777.05h6.87v21.20h-6.87zM1133.38 777.05h6.87v21.20h-6.87zM822.55 799.35h6.87v21.20h-6.87zM830.52 799.35h6.87v21.20h-6.87zM838.49 799.35h6.87v21.20h-6.87zM846.46 799.35h6.87v21.20h-6.87zM854.43 799.35h6.87v21.20h-6.87zM862.40 799.35h6.87v21.20h-6.87zM870.37 799.35h6.87v21.20h-6.87zM878.34 799.35h6.87v21.20h-6.87zM886.31 799.35h6.87v21.20h-6.87zM894.28 799.35h6.87v21.20h-6.87zM910.22 799.35h6.87v21.20h-6.87zM918.19 799.35h6.87v21.20h-6.87zM926.16 799.35h6.87v21.20h-6.87zM934.13 799.35h6.87v21.20h-6.87zM942.10 799.35h6.87v21.20h-6.87zM950.07 799.35h6.87v21.20h-6.87zM958.04 799.35h6.87v21.20h-6.87zM966.01 799.35h6.87v21.20h-6.87zM973.98 799.35h6.87v21.20h-6.87zM981.95 799.35h6.87v21.20h-6.87zM989.92 799.35h6.87v21.20h-6.87zM997.89 799.35h6.87v21.20h-6.87zM1005.86 799.35h6.87v21.20h-6.87zM1013.83 799.35h6.87v21.20h-6.87zM1021.80 799.35h6.87v21.20h-6.87zM1029.77 799.35h6.87v21.20h-6.87zM1037.74 799.35h6.87v21.20h-6.87zM1045.71 799.35h6.87v21.20h-6.87zM1053.68 799.35h6.87v21.20h-6.87zM1061.65 799.35h6.87v21.20h-6.87zM1069.62 799.35h6.87v21.20h-6.87zM1077.59 799.35h6.87v21.20h-6.87zM1085.56 799.35h6.87v21.20h-6.87zM1093.53 799.35h6.87v21.20h-6.87zM1101.50 799.35h6.87v21.20h-6.87zM1109.47 799.35h6.87v21.20h-6.87zM1117.44 799.35h6.87v21.20h-6.87zM1125.41 799.35h6.87v21.20h-6.87zM1133.38 799.35h6.87v21.20h-6.87zM822.55 821.65h6.87v21.20h-6.87zM830.52 821.65h6.87v21.20h-6.87zM838.49 821.65h6.87v21.20h-6.87zM846.46 821.65h6.87v21.20h-6.87zM854.43 821.65h6.87v21.20h-6.87zM862.40 821.65h6.87v21.20h-6.87zM870.37 821.65h6.87v21.20h-6.87zM878.34 821.65h6.87v21.20h-6.87zM886.31 821.65h6.87v21.20h-6.87zM894.28 821.65h6.87v21.20h-6.87zM902.25 821.65h6.87v21.20h-6.87zM910.22 821.65h6.87v21.20h-6.87zM918.19 821.65h6.87v21.20h-6.87zM926.16 821.65h6.87v21.20h-6.87zM934.13 821.65h6.87v21.20h-6.87zM942.10 821.65h6.87v21.20h-6.87zM950.07 821.65h6.87v21.20h-6.87zM958.04 821.65h6.87v21.20h-6.87zM966.01 821.65h6.87v21.20h-6.87zM973.98 821.65h6.87v21.20h-6.87zM981.95 821.65h6.87v21.20h-6.87zM989.92 821.65h6.87v21.20h-6.87zM997.89 821.65h6.87v21.20h-6.87zM1005.86 821.65h6.87v21.20h-6.87zM1021.80 821.65h6.87v21.20h-6.87zM1029.77 821.65h6.87v21.20h-6.87zM1037.74 821.65h6.87v21.20h-6.87zM1045.71 821.65h6.87v21.20h-6.87zM1053.68 821.65h6.87v21.20h-6.87zM1061.65 821.65h6.87v21.20h-6.87zM1069.62 821.65h6.87v21.20h-6.87zM1077.59 821.65h6.87v21.20h-6.87zM1085.56 821.65h6.87v21.20h-6.87zM1093.53 821.65h6.87v21.20h-6.87zM1101.50 821.65h6.87v21.20h-6.87zM1109.47 821.65h6.87v21.20h-6.87zM1117.44 821.65h6.87v21.20h-6.87zM1125.41 821.65h6.87v21.20h-6.87zM1133.38 821.65h6.87v21.20h-6.87zM822.55 843.95h6.87v21.20h-6.87zM830.52 843.95h6.87v21.20h-6.87zM838.49 843.95h6.87v21.20h-6.87zM846.46 843.95h6.87v21.20h-6.87zM854.43 843.95h6.87v21.20h-6.87zM862.40 843.95h6.87v21.20h-6.87zM870.37 843.95h6.87v21.20h-6.87zM878.34 843.95h6.87v21.20h-6.87zM886.31 843.95h6.87v21.20h-6.87zM894.28 843.95h6.87v21.20h-6.87zM902.25 843.95h6.87v21.20h-6.87zM910.22 843.95h6.87v21.20h-6.87zM918.19 843.95h6.87v21.20h-6.87zM926.16 843.95h6.87v21.20h-6.87zM934.13 843.95h6.87v21.20h-6.87zM942.10 843.95h6.87v21.20h-6.87zM950.07 843.95h6.87v21.20h-6.87zM958.04 843.95h6.87v21.20h-6.87zM966.01 843.95h6.87v21.20h-6.87zM1005.86 843.95h6.87v21.20h-6.87zM1013.83 843.95h6.87v21.20h-6.87zM1021.80 843.95h6.87v21.20h-6.87zM1029.77 843.95h6.87v21.20h-6.87zM1037.74 843.95h6.87v21.20h-6.87zM1045.71 843.95h6.87v21.20h-6.87zM1053.68 843.95h6.87v21.20h-6.87zM1061.65 843.95h6.87v21.20h-6.87zM1069.62 843.95h6.87v21.20h-6.87zM1077.59 843.95h6.87v21.20h-6.87zM1085.56 843.95h6.87v21.20h-6.87zM1093.53 843.95h6.87v21.20h-6.87zM1101.50 843.95h6.87v21.20h-6.87zM1109.47 843.95h6.87v21.20h-6.87zM1117.44 843.95h6.87v21.20h-6.87zM1125.41 843.95h6.87v21.20h-6.87zM1133.38 843.95h6.87v21.20h-6.87zM822.55 866.25h6.87v21.20h-6.87zM830.52 866.25h6.87v21.20h-6.87zM838.49 866.25h6.87v21.20h-6.87zM846.46 866.25h6.87v21.20h-6.87zM854.43 866.25h6.87v21.20h-6.87zM862.40 866.25h6.87v21.20h-6.87zM870.37 866.25h6.87v21.20h-6.87zM878.34 866.25h6.87v21.20h-6.87zM886.31 866.25h6.87v21.20h-6.87zM894.28 866.25h6.87v21.20h-6.87zM902.25 866.25h6.87v21.20h-6.87zM910.22 866.25h6.87v21.20h-6.87zM918.19 866.25h6.87v21.20h-6.87zM926.16 866.25h6.87v21.20h-6.87zM934.13 866.25h6.87v21.20h-6.87zM973.98 866.25h6.87v21.20h-6.87zM981.95 866.25h6.87v21.20h-6.87zM989.92 866.25h6.87v21.20h-6.87zM997.89 866.25h6.87v21.20h-6.87zM1005.86 866.25h6.87v21.20h-6.87zM1013.83 866.25h6.87v21.20h-6.87zM1021.80 866.25h6.87v21.20h-6.87zM1029.77 866.25h6.87v21.20h-6.87zM1037.74 866.25h6.87v21.20h-6.87zM1045.71 866.25h6.87v21.20h-6.87zM1053.68 866.25h6.87v21.20h-6.87zM1061.65 866.25h6.87v21.20h-6.87zM1069.62 866.25h6.87v21.20h-6.87zM1077.59 866.25h6.87v21.20h-6.87zM1085.56 866.25h6.87v21.20h-6.87zM1093.53 866.25h6.87v21.20h-6.87zM1101.50 866.25h6.87v21.20h-6.87zM1109.47 866.25h6.87v21.20h-6.87zM1117.44 866.25h6.87v21.20h-6.87zM1125.41 866.25h6.87v21.20h-6.87zM1133.38 866.25h6.87v21.20h-6.87zM822.55 888.55h6.87v21.20h-6.87zM830.52 888.55h6.87v21.20h-6.87zM838.49 888.55h6.87v21.20h-6.87zM846.46 888.55h6.87v21.20h-6.87zM854.43 888.55h6.87v21.20h-6.87zM862.40 888.55h6.87v21.20h-6.87zM870.37 888.55h6.87v21.20h-6.87zM878.34 888.55h6.87v21.20h-6.87zM886.31 888.55h6.87v21.20h-6.87zM894.28 888.55h6.87v21.20h-6.87zM902.25 888.55h6.87v21.20h-6.87zM910.22 888.55h6.87v21.20h-6.87zM918.19 888.55h6.87v21.20h-6.87zM926.16 888.55h6.87v21.20h-6.87zM934.13 888.55h6.87v21.20h-6.87zM942.10 888.55h6.87v21.20h-6.87zM950.07 888.55h6.87v21.20h-6.87zM958.04 888.55h6.87v21.20h-6.87zM966.01 888.55h6.87v21.20h-6.87zM973.98 888.55h6.87v21.20h-6.87zM981.95 888.55h6.87v21.20h-6.87zM989.92 888.55h6.87v21.20h-6.87zM997.89 888.55h6.87v21.20h-6.87zM1005.86 888.55h6.87v21.20h-6.87zM1013.83 888.55h6.87v21.20h-6.87zM1061.65 888.55h6.87v21.20h-6.87zM1069.62 888.55h6.87v21.20h-6.87zM1077.59 888.55h6.87v21.20h-6.87zM1085.56 888.55h6.87v21.20h-6.87zM1093.53 888.55h6.87v21.20h-6.87zM1101.50 888.55h6.87v21.20h-6.87zM1109.47 888.55h6.87v21.20h-6.87zM1117.44 888.55h6.87v21.20h-6.87zM1125.41 888.55h6.87v21.20h-6.87zM1133.38 888.55h6.87v21.20h-6.87zM822.55 910.85h6.87v21.20h-6.87zM830.52 910.85h6.87v21.20h-6.87zM838.49 910.85h6.87v21.20h-6.87zM846.46 910.85h6.87v21.20h-6.87zM854.43 910.85h6.87v21.20h-6.87zM862.40 910.85h6.87v21.20h-6.87zM870.37 910.85h6.87v21.20h-6.87zM878.34 910.85h6.87v21.20h-6.87zM886.31 910.85h6.87v21.20h-6.87zM894.28 910.85h6.87v21.20h-6.87zM902.25 910.85h6.87v21.20h-6.87zM910.22 910.85h6.87v21.20h-6.87zM918.19 910.85h6.87v21.20h-6.87zM926.16 910.85h6.87v21.20h-6.87zM934.13 910.85h6.87v21.20h-6.87zM942.10 910.85h6.87v21.20h-6.87zM950.07 910.85h6.87v21.20h-6.87zM958.04 910.85h6.87v21.20h-6.87zM966.01 910.85h6.87v21.20h-6.87zM973.98 910.85h6.87v21.20h-6.87zM981.95 910.85h6.87v21.20h-6.87zM989.92 910.85h6.87v21.20h-6.87zM997.89 910.85h6.87v21.20h-6.87zM1005.86 910.85h6.87v21.20h-6.87zM1013.83 910.85h6.87v21.20h-6.87zM1021.80 910.85h6.87v21.20h-6.87zM1029.77 910.85h6.87v21.20h-6.87zM1037.74 910.85h6.87v21.20h-6.87zM1045.71 910.85h6.87v21.20h-6.87zM1053.68 910.85h6.87v21.20h-6.87zM1077.59 910.85h6.87v21.20h-6.87zM1085.56 910.85h6.87v21.20h-6.87zM1093.53 910.85h6.87v21.20h-6.87zM1101.50 910.85h6.87v21.20h-6.87zM1109.47 910.85h6.87v21.20h-6.87zM1117.44 910.85h6.87v21.20h-6.87zM1125.41 910.85h6.87v21.20h-6.87zM1133.38 910.85h6.87v21.20h-6.87zM822.55 933.15h6.87v21.20h-6.87zM830.52 933.15h6.87v21.20h-6.87zM838.49 933.15h6.87v21.20h-6.87zM846.46 933.15h6.87v21.20h-6.87zM854.43 933.15h6.87v21.20h-6.87zM862.40 933.15h6.87v21.20h-6.87zM870.37 933.15h6.87v21.20h-6.87zM878.34 933.15h6.87v21.20h-6.87zM886.31 933.15h6.87v21.20h-6.87zM894.28 933.15h6.87v21.20h-6.87zM902.25 933.15h6.87v21.20h-6.87zM910.22 933.15h6.87v21.20h-6.87zM918.19 933.15h6.87v21.20h-6.87zM926.16 933.15h6.87v21.20h-6.87zM934.13 933.15h6.87v21.20h-6.87zM942.10 933.15h6.87v21.20h-6.87zM950.07 933.15h6.87v21.20h-6.87zM958.04 933.15h6.87v21.20h-6.87zM966.01 933.15h6.87v21.20h-6.87zM973.98 933.15h6.87v21.20h-6.87zM981.95 933.15h6.87v21.20h-6.87zM989.92 933.15h6.87v21.20h-6.87zM997.89 933.15h6.87v21.20h-6.87zM1005.86 933.15h6.87v21.20h-6.87zM1013.83 933.15h6.87v21.20h-6.87zM1021.80 933.15h6.87v21.20h-6.87zM1029.77 933.15h6.87v21.20h-6.87zM1037.74 933.15h6.87v21.20h-6.87zM1045.71 933.15h6.87v21.20h-6.87zM1053.68 933.15h6.87v21.20h-6.87zM1061.65 933.15h6.87v21.20h-6.87zM1069.62 933.15h6.87v21.20h-6.87zM1077.59 933.15h6.87v21.20h-6.87zM1109.47 933.15h6.87v21.20h-6.87zM1125.41 933.15h6.87v21.20h-6.87zM1133.38 933.15h6.87v21.20h-6.87zM822.55 955.45h6.87v21.20h-6.87zM830.52 955.45h6.87v21.20h-6.87zM838.49 955.45h6.87v21.20h-6.87zM846.46 955.45h6.87v21.20h-6.87zM854.43 955.45h6.87v21.20h-6.87zM862.40 955.45h6.87v21.20h-6.87zM870.37 955.45h6.87v21.20h-6.87zM878.34 955.45h6.87v21.20h-6.87zM886.31 955.45h6.87v21.20h-6.87zM894.28 955.45h6.87v21.20h-6.87zM902.25 955.45h6.87v21.20h-6.87zM910.22 955.45h6.87v21.20h-6.87zM918.19 955.45h6.87v21.20h-6.87zM926.16 955.45h6.87v21.20h-6.87zM934.13 955.45h6.87v21.20h-6.87zM942.10 955.45h6.87v21.20h-6.87zM950.07 955.45h6.87v21.20h-6.87zM958.04 955.45h6.87v21.20h-6.87zM966.01 955.45h6.87v21.20h-6.87zM973.98 955.45h6.87v21.20h-6.87zM981.95 955.45h6.87v21.20h-6.87zM989.92 955.45h6.87v21.20h-6.87zM997.89 955.45h6.87v21.20h-6.87zM1005.86 955.45h6.87v21.20h-6.87zM1013.83 955.45h6.87v21.20h-6.87zM1021.80 955.45h6.87v21.20h-6.87zM1029.77 955.45h6.87v21.20h-6.87zM1037.74 955.45h6.87v21.20h-6.87zM1045.71 955.45h6.87v21.20h-6.87zM1053.68 955.45h6.87v21.20h-6.87zM1061.65 955.45h6.87v21.20h-6.87zM1069.62 955.45h6.87v21.20h-6.87zM1077.59 955.45h6.87v21.20h-6.87zM1085.56 955.45h6.87v21.20h-6.87zM1093.53 955.45h6.87v21.20h-6.87zM1101.50 955.45h6.87v21.20h-6.87zM1117.44 955.45h6.87v21.20h-6.87zM1125.41 955.45h6.87v21.20h-6.87zM1133.38 955.45h6.87v21.20h-6.87zM822.55 977.75h6.87v21.20h-6.87zM830.52 977.75h6.87v21.20h-6.87zM838.49 977.75h6.87v21.20h-6.87zM846.46 977.75h6.87v21.20h-6.87zM854.43 977.75h6.87v21.20h-6.87zM862.40 977.75h6.87v21.20h-6.87zM870.37 977.75h6.87v21.20h-6.87zM878.34 977.75h6.87v21.20h-6.87zM886.31 977.75h6.87v21.20h-6.87zM894.28 977.75h6.87v21.20h-6.87zM902.25 977.75h6.87v21.20h-6.87zM910.22 977.75h6.87v21.20h-6.87zM918.19 977.75h6.87v21.20h-6.87zM926.16 977.75h6.87v21.20h-6.87zM934.13 977.75h6.87v21.20h-6.87zM942.10 977.75h6.87v21.20h-6.87zM950.07 977.75h6.87v21.20h-6.87zM958.04 977.75h6.87v21.20h-6.87zM966.01 977.75h6.87v21.20h-6.87zM973.98 977.75h6.87v21.20h-6.87zM981.95 977.75h6.87v21.20h-6.87zM989.92 977.75h6.87v21.20h-6.87zM997.89 977.75h6.87v21.20h-6.87zM1005.86 977.75h6.87v21.20h-6.87zM1013.83 977.75h6.87v21.20h-6.87zM1021.80 977.75h6.87v21.20h-6.87zM1029.77 977.75h6.87v21.20h-6.87zM1037.74 977.75h6.87v21.20h-6.87zM1045.71 977.75h6.87v21.20h-6.87zM1053.68 977.75h6.87v21.20h-6.87zM1061.65 977.75h6.87v21.20h-6.87zM1069.62 977.75h6.87v21.20h-6.87zM1077.59 977.75h6.87v21.20h-6.87zM1085.56 977.75h6.87v21.20h-6.87zM1093.53 977.75h6.87v21.20h-6.87zM1101.50 977.75h6.87v21.20h-6.87zM1109.47 977.75h6.87v21.20h-6.87zM1125.41 977.75h6.87v21.20h-6.87zM1133.38 977.75h6.87v21.20h-6.87z" fill="#ededc2"/>
<rect x="838.49" y="620.95" width="6.87" height="21.20" fill="#c8443e"/>
<rect x="846.46" y="620.95" width="6.87" height="21.20" fill="#f0c576"/>
<rect x="822.55" y="643.25" width="6.87" height="21.20" fill="#ebe7b0"/>
<rect x="830.52" y="643.25" width="6.87" height="21.20" fill="#f0a544"/>
<rect x="838.49" y="643.25" width="6.87" height="21.20" fill="#f0c576"/>
<rect x="846.46" y="643.25" width="6.87" height="21.20" fill="#f0c576"/>
<rect x="862.40" y="665.55" width="6.87" height="21.20" fill="#f0dc95"/>
<rect x="870.37" y="665.55" width="6.87" height="21.20" fill="#e2662f"/>
<rect x="878.34" y="665.55" width="6.87" height="21.20" fill="#f0a544"/>
<rect x="862.40" y="687.85" width="6.87" height="21.20" fill="#ee8a2e"/>
<rect x="870.37" y="687.85" width="6.87" height="21.20" fill="#e2662f"/>
<rect x="886.31" y="710.15" width="6.87" height="21.20" fill="#ebe7b0"/>
<rect x="894.28" y="710.15" width="6.87" height="21.20" fill="#6e0c34"/>
<rect x="886.31" y="732.45" width="6.87" height="21.20" fill="#f0dc95"/>
<rect x="894.28" y="732.45" width="6.87" height="21.20" fill="#a02a42"/>
<rect x="918.19" y="754.75" width="6.87" height="21.20" fill="#2a0418"/>
<rect x="902.25" y="777.05" width="6.87" height="21.20" fill="#c8443e"/>
<rect x="910.22" y="777.05" width="6.87" height="21.20" fill="#f0a544"/>
<rect x="902.25" y="799.35" width="6.87" height="21.20" fill="#6e0c34"/>
<rect x="1013.83" y="821.65" width="6.87" height="21.20" fill="#2a0418"/>
<rect x="973.98" y="843.95" width="6.87" height="21.20" fill="#c8443e"/>
<rect x="981.95" y="843.95" width="6.87" height="21.20" fill="#f0c576"/>
<rect x="989.92" y="843.95" width="6.87" height="21.20" fill="#ebe7b0"/>
<rect x="997.89" y="843.95" width="6.87" height="21.20" fill="#ebe7b0"/>
<rect x="942.10" y="866.25" width="6.87" height="21.20" fill="#ebe7b0"/>
<rect x="950.07" y="866.25" width="6.87" height="21.20" fill="#e2662f"/>
<rect x="958.04" y="866.25" width="6.87" height="21.20" fill="#f0a544"/>
<rect x="966.01" y="866.25" width="6.87" height="21.20" fill="#f0dc95"/>
<rect x="1021.80" y="888.55" width="6.87" height="21.20" fill="#f0c576"/>
<rect x="1029.77" y="888.55" width="6.87" height="21.20" fill="#f0dc95"/>
<rect x="1037.74" y="888.55" width="6.87" height="21.20" fill="#f0dc95"/>
<rect x="1045.71" y="888.55" width="6.87" height="21.20" fill="#ee8a2e"/>
<rect x="1053.68" y="888.55" width="6.87" height="21.20" fill="#ebe7b0"/>
<rect x="1061.65" y="910.85" width="6.87" height="21.20" fill="#6e0c34"/>
<rect x="1069.62" y="910.85" width="6.87" height="21.20" fill="#ebe7b0"/>
<rect x="1085.56" y="933.15" width="6.87" height="21.20" fill="#f0c576"/>
<rect x="1093.53" y="933.15" width="6.87" height="21.20" fill="#ee8a2e"/>
<rect x="1101.50" y="933.15" width="6.87" height="21.20" fill="#f0c576"/>
<rect x="1117.44" y="933.15" width="6.87" height="21.20" fill="#ebe7b0"/>
<rect x="1109.47" y="955.45" width="6.87" height="21.20" fill="#2a0418"/>
<rect x="1117.44" y="977.75" width="6.87" height="21.20" fill="#2a0418"/>
<text x="1145.6" y="635.8" font-size="6.5" class="rl" textLength="9.8" lengthAdjust="spacingAndGlyphs">AP</text>
<text x="1145.6" y="658.1" font-size="6.5" class="rl" textLength="9.0" lengthAdjust="spacingAndGlyphs">BL</text>
<text x="1145.6" y="680.4" font-size="6.5" class="rl" textLength="14.3" lengthAdjust="spacingAndGlyphs">HSa</text>
<text x="1145.6" y="702.7" font-size="6.5" class="rl" textLength="14.3" lengthAdjust="spacingAndGlyphs">HSb</text>
<text x="1145.6" y="725.0" font-size="6.5" class="rl" textLength="13.9" lengthAdjust="spacingAndGlyphs">BAa</text>
<text x="1145.6" y="747.3" font-size="6.5" class="rl" textLength="13.9" lengthAdjust="spacingAndGlyphs">BAb</text>
<text x="1145.6" y="769.6" font-size="6.5" class="rl" textLength="8.6" lengthAdjust="spacingAndGlyphs">F1</text>
<text x="1145.6" y="791.9" font-size="6.5" class="rl" textLength="8.6" lengthAdjust="spacingAndGlyphs">F2</text>
<text x="1145.6" y="814.2" font-size="6.5" class="rl" textLength="8.6" lengthAdjust="spacingAndGlyphs">F3</text>
<text x="1145.6" y="836.5" font-size="6.5" class="rl" textLength="24.1" lengthAdjust="spacingAndGlyphs">VL1 LE</text>
<text x="1145.6" y="858.8" font-size="6.5" class="rl" textLength="24.9" lengthAdjust="spacingAndGlyphs">VL2 VE</text>
<text x="1145.6" y="881.1" font-size="6.5" class="rl" textLength="24.9" lengthAdjust="spacingAndGlyphs">VL3 PE</text>
<text x="1145.6" y="903.4" font-size="6.5" class="rl" textLength="22.7" lengthAdjust="spacingAndGlyphs">I3 Tcell</text>
<text x="1145.6" y="925.8" font-size="6.5" class="rl" textLength="18.4" lengthAdjust="spacingAndGlyphs">I2 NK</text>
<text x="1145.6" y="948.0" font-size="6.5" class="rl" textLength="24.1" lengthAdjust="spacingAndGlyphs">I4 Bcell</text>
<text x="1145.6" y="970.3" font-size="6.5" class="rl" textLength="45.3" lengthAdjust="spacingAndGlyphs">I5 PlasmaCell</text>
<text x="1145.6" y="992.6" font-size="6.5" class="rl" textLength="33.5" lengthAdjust="spacingAndGlyphs">I1 Myeloid</text>
<text transform="translate(828.3 1002.0) rotate(-90)" font-size="6.5" class="cl" textLength="23.3" lengthAdjust="spacingAndGlyphs">LASP1</text>
<text transform="translate(836.3 1002.0) rotate(-90)" font-size="6.5" class="cl" textLength="23.3" lengthAdjust="spacingAndGlyphs">LASP2</text>
<text transform="translate(844.2 1002.0) rotate(-90)" font-size="6.5" class="cl" textLength="23.3" lengthAdjust="spacingAndGlyphs">LASP3</text>
<text transform="translate(852.2 1002.0) rotate(-90)" font-size="6.5" class="cl" textLength="23.3" lengthAdjust="spacingAndGlyphs">LASP4</text>
<text transform="translate(860.2 1002.0) rotate(-90)" font-size="6.5" class="cl" textLength="23.3" lengthAdjust="spacingAndGlyphs">LASP5</text>
<text transform="translate(868.1 1002.0) rotate(-90)" font-size="6.5" class="cl" textLength="18.7" lengthAdjust="spacingAndGlyphs">LHS1</text>
<text transform="translate(876.1 1002.0) rotate(-90)" font-size="6.5" class="cl" textLength="18.7" lengthAdjust="spacingAndGlyphs">LHS2</text>
<text transform="translate(884.1 1002.0) rotate(-90)" font-size="6.5" class="cl" textLength="18.7" lengthAdjust="spacingAndGlyphs">LHS3</text>
<text transform="translate(892.0 1002.0) rotate(-90)" font-size="6.5" class="cl" textLength="26.2" lengthAdjust="spacingAndGlyphs">BMYO1</text>
<text transform="translate(900.0 1002.0) rotate(-90)" font-size="6.5" class="cl" textLength="26.2" lengthAdjust="spacingAndGlyphs">BMYO2</text>
<text transform="translate(908.0 1002.0) rotate(-90)" font-size="6.5" class="cl" textLength="13.7" lengthAdjust="spacingAndGlyphs">FB1</text>
<text transform="translate(916.0 1002.0) rotate(-90)" font-size="6.5" class="cl" textLength="13.7" lengthAdjust="spacingAndGlyphs">FB2</text>
<text transform="translate(923.9 1002.0) rotate(-90)" font-size="6.5" class="cl" textLength="13.7" lengthAdjust="spacingAndGlyphs">FB3</text>
<text transform="translate(931.9 1002.0) rotate(-90)" font-size="6.5" class="cl" textLength="13.7" lengthAdjust="spacingAndGlyphs">FB4</text>
<text transform="translate(939.9 1002.0) rotate(-90)" font-size="6.5" class="cl" textLength="14.1" lengthAdjust="spacingAndGlyphs">PV1</text>
<text transform="translate(947.8 1002.0) rotate(-90)" font-size="6.5" class="cl" textLength="14.1" lengthAdjust="spacingAndGlyphs">PV2</text>
<text transform="translate(955.8 1002.0) rotate(-90)" font-size="6.5" class="cl" textLength="14.1" lengthAdjust="spacingAndGlyphs">PV3</text>
<text transform="translate(963.8 1002.0) rotate(-90)" font-size="6.5" class="cl" textLength="14.1" lengthAdjust="spacingAndGlyphs">PV4</text>
<text transform="translate(971.7 1002.0) rotate(-90)" font-size="6.5" class="cl" textLength="14.1" lengthAdjust="spacingAndGlyphs">PV5</text>
<text transform="translate(979.7 1002.0) rotate(-90)" font-size="6.5" class="cl" textLength="15.0" lengthAdjust="spacingAndGlyphs">VEV</text>
<text transform="translate(987.7 1002.0) rotate(-90)" font-size="6.5" class="cl" textLength="15.4" lengthAdjust="spacingAndGlyphs">VEC</text>
<text transform="translate(995.7 1002.0) rotate(-90)" font-size="6.5" class="cl" textLength="15.0" lengthAdjust="spacingAndGlyphs">VEA</text>
<text transform="translate(1003.6 1002.0) rotate(-90)" font-size="6.5" class="cl" textLength="19.0" lengthAdjust="spacingAndGlyphs">VEAT</text>
<text transform="translate(1011.6 1002.0) rotate(-90)" font-size="6.5" class="cl" textLength="13.3" lengthAdjust="spacingAndGlyphs">LE1</text>
<text transform="translate(1019.6 1002.0) rotate(-90)" font-size="6.5" class="cl" textLength="13.3" lengthAdjust="spacingAndGlyphs">LE2</text>
<text transform="translate(1027.5 1002.0) rotate(-90)" font-size="6.5" class="cl" textLength="34.9" lengthAdjust="spacingAndGlyphs">CD4 naive</text>
<text transform="translate(1035.5 1002.0) rotate(-90)" font-size="6.5" class="cl" textLength="25.6" lengthAdjust="spacingAndGlyphs">CD4 Th</text>
<text transform="translate(1043.5 1002.0) rotate(-90)" font-size="6.5" class="cl" textLength="31.0" lengthAdjust="spacingAndGlyphs">CD8 Tem</text>
<text transform="translate(1051.4 1002.0) rotate(-90)" font-size="6.5" class="cl" textLength="29.9" lengthAdjust="spacingAndGlyphs">CD8 Trm</text>
<text transform="translate(1059.4 1002.0) rotate(-90)" font-size="6.5" class="cl" textLength="28.5" lengthAdjust="spacingAndGlyphs">CD8 Tc1</text>
<text transform="translate(1067.4 1002.0) rotate(-90)" font-size="6.5" class="cl" textLength="14.9" lengthAdjust="spacingAndGlyphs">NKT</text>
<text transform="translate(1075.4 1002.0) rotate(-90)" font-size="6.5" class="cl" textLength="10.4" lengthAdjust="spacingAndGlyphs">NK</text>
<text transform="translate(1083.3 1002.0) rotate(-90)" font-size="6.5" class="cl" textLength="11.6" lengthAdjust="spacingAndGlyphs">ILC</text>
<text transform="translate(1091.3 1002.0) rotate(-90)" font-size="6.5" class="cl" textLength="24.9" lengthAdjust="spacingAndGlyphs">B naive</text>
<text transform="translate(1099.3 1002.0) rotate(-90)" font-size="6.5" class="cl" textLength="54.8" lengthAdjust="spacingAndGlyphs">B mem switched</text>
<text transform="translate(1107.2 1002.0) rotate(-90)" font-size="6.5" class="cl" textLength="63.1" lengthAdjust="spacingAndGlyphs">B mem unswitched</text>
<text transform="translate(1115.2 1002.0) rotate(-90)" font-size="6.5" class="cl" textLength="38.2" lengthAdjust="spacingAndGlyphs">Plasma cell</text>
<text transform="translate(1123.2 1002.0) rotate(-90)" font-size="6.5" class="cl" textLength="20.8" lengthAdjust="spacingAndGlyphs">Macro</text>
<text transform="translate(1131.1 1002.0) rotate(-90)" font-size="6.5" class="cl" textLength="36.6" lengthAdjust="spacingAndGlyphs">Macro–lipo</text>
<text transform="translate(1139.1 1002.0) rotate(-90)" font-size="6.5" class="cl" textLength="10.8" lengthAdjust="spacingAndGlyphs">DC</text>
<text x="890.3" y="607.5" class="ht" textLength="71.0" lengthAdjust="spacingAndGlyphs">Gray et al.</text><text x="963.3" y="600.7" font-size="9.5" fill="#231f20" textLength="9.2" lengthAdjust="spacingAndGlyphs">15</text><text x="977.5" y="607.5" class="ht" textLength="93.3" lengthAdjust="spacingAndGlyphs">label transfer</text>
<text transform="translate(1190.0 763.9) rotate(90)" class="ol" textLength="73.8" lengthAdjust="spacingAndGlyphs">Original label</text>
<text x="911.0" y="1075.8" class="ml" textLength="139" lengthAdjust="spacingAndGlyphs">Mapped label (this study)</text>
<rect x="8.00" y="1123.00" width="310.00" height="331.00" fill="#e8e8e0"/>
<path d="M31.80 1123.55h6.65v28.99h-6.65zM39.55 1123.55h6.65v28.99h-6.65zM47.30 1123.55h6.65v28.99h-6.65zM55.05 1123.55h6.65v28.99h-6.65zM62.80 1123.55h6.65v28.99h-6.65zM70.55 1123.55h6.65v28.99h-6.65zM78.30 1123.55h6.65v28.99h-6.65zM86.05 1123.55h6.65v28.99h-6.65zM93.80 1123.55h6.65v28.99h-6.65zM101.55 1123.55h6.65v28.99h-6.65zM109.30 1123.55h6.65v28.99h-6.65zM117.05 1123.55h6.65v28.99h-6.65zM124.80 1123.55h6.65v28.99h-6.65zM132.55 1123.55h6.65v28.99h-6.65zM140.30 1123.55h6.65v28.99h-6.65zM148.05 1123.55h6.65v28.99h-6.65zM155.80 1123.55h6.65v28.99h-6.65zM163.55 1123.55h6.65v28.99h-6.65zM171.30 1123.55h6.65v28.99h-6.65zM179.05 1123.55h6.65v28.99h-6.65zM186.80 1123.55h6.65v28.99h-6.65zM194.55 1123.55h6.65v28.99h-6.65zM202.30 1123.55h6.65v28.99h-6.65zM210.05 1123.55h6.65v28.99h-6.65zM217.80 1123.55h6.65v28.99h-6.65zM225.55 1123.55h6.65v28.99h-6.65zM233.30 1123.55h6.65v28.99h-6.65zM241.05 1123.55h6.65v28.99h-6.65zM248.80 1123.55h6.65v28.99h-6.65zM256.55 1123.55h6.65v28.99h-6.65zM264.30 1123.55h6.65v28.99h-6.65zM272.05 1123.55h6.65v28.99h-6.65zM279.80 1123.55h6.65v28.99h-6.65zM287.55 1123.55h6.65v28.99h-6.65zM295.30 1123.55h6.65v28.99h-6.65zM303.05 1123.55h6.65v28.99h-6.65zM310.80 1123.55h6.65v28.99h-6.65zM31.80 1153.64h6.65v28.99h-6.65zM39.55 1153.64h6.65v28.99h-6.65zM47.30 1153.64h6.65v28.99h-6.65zM55.05 1153.64h6.65v28.99h-6.65zM62.80 1153.64h6.65v28.99h-6.65zM70.55 1153.64h6.65v28.99h-6.65zM78.30 1153.64h6.65v28.99h-6.65zM86.05 1153.64h6.65v28.99h-6.65zM93.80 1153.64h6.65v28.99h-6.65zM101.55 1153.64h6.65v28.99h-6.65zM109.30 1153.64h6.65v28.99h-6.65zM117.05 1153.64h6.65v28.99h-6.65zM124.80 1153.64h6.65v28.99h-6.65zM132.55 1153.64h6.65v28.99h-6.65zM140.30 1153.64h6.65v28.99h-6.65zM148.05 1153.64h6.65v28.99h-6.65zM155.80 1153.64h6.65v28.99h-6.65zM163.55 1153.64h6.65v28.99h-6.65zM171.30 1153.64h6.65v28.99h-6.65zM179.05 1153.64h6.65v28.99h-6.65zM186.80 1153.64h6.65v28.99h-6.65zM194.55 1153.64h6.65v28.99h-6.65zM202.30 1153.64h6.65v28.99h-6.65zM210.05 1153.64h6.65v28.99h-6.65zM217.80 1153.64h6.65v28.99h-6.65zM225.55 1153.64h6.65v28.99h-6.65zM233.30 1153.64h6.65v28.99h-6.65zM241.05 1153.64h6.65v28.99h-6.65zM248.80 1153.64h6.65v28.99h-6.65zM256.55 1153.64h6.65v28.99h-6.65zM264.30 1153.64h6.65v28.99h-6.65zM272.05 1153.64h6.65v28.99h-6.65zM279.80 1153.64h6.65v28.99h-6.65zM287.55 1153.64h6.65v28.99h-6.65zM295.30 1153.64h6.65v28.99h-6.65zM303.05 1153.64h6.65v28.99h-6.65zM310.80 1153.64h6.65v28.99h-6.65zM8.55 1183.73h6.65v28.99h-6.65zM16.30 1183.73h6.65v28.99h-6.65zM24.05 1183.73h6.65v28.99h-6.65zM31.80 1183.73h6.65v28.99h-6.65zM39.55 1183.73h6.65v28.99h-6.65zM70.55 1183.73h6.65v28.99h-6.65zM78.30 1183.73h6.65v28.99h-6.65zM86.05 1183.73h6.65v28.99h-6.65zM93.80 1183.73h6.65v28.99h-6.65zM101.55 1183.73h6.65v28.99h-6.65zM109.30 1183.73h6.65v28.99h-6.65zM117.05 1183.73h6.65v28.99h-6.65zM124.80 1183.73h6.65v28.99h-6.65zM132.55 1183.73h6.65v28.99h-6.65zM140.30 1183.73h6.65v28.99h-6.65zM148.05 1183.73h6.65v28.99h-6.65zM155.80 1183.73h6.65v28.99h-6.65zM163.55 1183.73h6.65v28.99h-6.65zM171.30 1183.73h6.65v28.99h-6.65zM179.05 1183.73h6.65v28.99h-6.65zM186.80 1183.73h6.65v28.99h-6.65zM194.55 1183.73h6.65v28.99h-6.65zM202.30 1183.73h6.65v28.99h-6.65zM210.05 1183.73h6.65v28.99h-6.65zM217.80 1183.73h6.65v28.99h-6.65zM225.55 1183.73h6.65v28.99h-6.65zM233.30 1183.73h6.65v28.99h-6.65zM241.05 1183.73h6.65v28.99h-6.65zM248.80 1183.73h6.65v28.99h-6.65zM256.55 1183.73h6.65v28.99h-6.65zM264.30 1183.73h6.65v28.99h-6.65zM272.05 1183.73h6.65v28.99h-6.65zM279.80 1183.73h6.65v28.99h-6.65zM287.55 1183.73h6.65v28.99h-6.65zM295.30 1183.73h6.65v28.99h-6.65zM303.05 1183.73h6.65v28.99h-6.65zM310.80 1183.73h6.65v28.99h-6.65zM8.55 1213.82h6.65v28.99h-6.65zM16.30 1213.82h6.65v28.99h-6.65zM24.05 1213.82h6.65v28.99h-6.65zM31.80 1213.82h6.65v28.99h-6.65zM39.55 1213.82h6.65v28.99h-6.65zM70.55 1213.82h6.65v28.99h-6.65zM78.30 1213.82h6.65v28.99h-6.65zM86.05 1213.82h6.65v28.99h-6.65zM93.80 1213.82h6.65v28.99h-6.65zM101.55 1213.82h6.65v28.99h-6.65zM109.30 1213.82h6.65v28.99h-6.65zM117.05 1213.82h6.65v28.99h-6.65zM124.80 1213.82h6.65v28.99h-6.65zM132.55 1213.82h6.65v28.99h-6.65zM140.30 1213.82h6.65v28.99h-6.65zM148.05 1213.82h6.65v28.99h-6.65zM155.80 1213.82h6.65v28.99h-6.65zM163.55 1213.82h6.65v28.99h-6.65zM171.30 1213.82h6.65v28.99h-6.65zM179.05 1213.82h6.65v28.99h-6.65zM186.80 1213.82h6.65v28.99h-6.65zM194.55 1213.82h6.65v28.99h-6.65zM202.30 1213.82h6.65v28.99h-6.65zM210.05 1213.82h6.65v28.99h-6.65zM217.80 1213.82h6.65v28.99h-6.65zM225.55 1213.82h6.65v28.99h-6.65zM233.30 1213.82h6.65v28.99h-6.65zM241.05 1213.82h6.65v28.99h-6.65zM248.80 1213.82h6.65v28.99h-6.65zM256.55 1213.82h6.65v28.99h-6.65zM264.30 1213.82h6.65v28.99h-6.65zM272.05 1213.82h6.65v28.99h-6.65zM279.80 1213.82h6.65v28.99h-6.65zM287.55 1213.82h6.65v28.99h-6.65zM295.30 1213.82h6.65v28.99h-6.65zM303.05 1213.82h6.65v28.99h-6.65zM310.80 1213.82h6.65v28.99h-6.65zM8.55 1243.91h6.65v28.99h-6.65zM16.30 1243.91h6.65v28.99h-6.65zM24.05 1243.91h6.65v28.99h-6.65zM31.80 1243.91h6.65v28.99h-6.65zM39.55 1243.91h6.65v28.99h-6.65zM47.30 1243.91h6.65v28.99h-6.65zM55.05 1243.91h6.65v28.99h-6.65zM62.80 1243.91h6.65v28.99h-6.65zM78.30 1243.91h6.65v28.99h-6.65zM86.05 1243.91h6.65v28.99h-6.65zM93.80 1243.91h6.65v28.99h-6.65zM101.55 1243.91h6.65v28.99h-6.65zM109.30 1243.91h6.65v28.99h-6.65zM117.05 1243.91h6.65v28.99h-6.65zM124.80 1243.91h6.65v28.99h-6.65zM132.55 1243.91h6.65v28.99h-6.65zM140.30 1243.91h6.65v28.99h-6.65zM148.05 1243.91h6.65v28.99h-6.65zM155.80 1243.91h6.65v28.99h-6.65zM163.55 1243.91h6.65v28.99h-6.65zM171.30 1243.91h6.65v28.99h-6.65zM179.05 1243.91h6.65v28.99h-6.65zM186.80 1243.91h6.65v28.99h-6.65zM194.55 1243.91h6.65v28.99h-6.65zM202.30 1243.91h6.65v28.99h-6.65zM210.05 1243.91h6.65v28.99h-6.65zM217.80 1243.91h6.65v28.99h-6.65zM225.55 1243.91h6.65v28.99h-6.65zM233.30 1243.91h6.65v28.99h-6.65zM241.05 1243.91h6.65v28.99h-6.65zM248.80 1243.91h6.65v28.99h-6.65zM256.55 1243.91h6.65v28.99h-6.65zM264.30 1243.91h6.65v28.99h-6.65zM272.05 1243.91h6.65v28.99h-6.65zM279.80 1243.91h6.65v28.99h-6.65zM287.55 1243.91h6.65v28.99h-6.65zM295.30 1243.91h6.65v28.99h-6.65zM303.05 1243.91h6.65v28.99h-6.65zM310.80 1243.91h6.65v28.99h-6.65zM8.55 1274.00h6.65v28.99h-6.65zM16.30 1274.00h6.65v28.99h-6.65zM24.05 1274.00h6.65v28.99h-6.65zM31.80 1274.00h6.65v28.99h-6.65zM39.55 1274.00h6.65v28.99h-6.65zM47.30 1274.00h6.65v28.99h-6.65zM55.05 1274.00h6.65v28.99h-6.65zM62.80 1274.00h6.65v28.99h-6.65zM86.05 1274.00h6.65v28.99h-6.65zM93.80 1274.00h6.65v28.99h-6.65zM101.55 1274.00h6.65v28.99h-6.65zM109.30 1274.00h6.65v28.99h-6.65zM117.05 1274.00h6.65v28.99h-6.65zM124.80 1274.00h6.65v28.99h-6.65zM132.55 1274.00h6.65v28.99h-6.65zM140.30 1274.00h6.65v28.99h-6.65zM148.05 1274.00h6.65v28.99h-6.65zM155.80 1274.00h6.65v28.99h-6.65zM163.55 1274.00h6.65v28.99h-6.65zM171.30 1274.00h6.65v28.99h-6.65zM179.05 1274.00h6.65v28.99h-6.65zM186.80 1274.00h6.65v28.99h-6.65zM194.55 1274.00h6.65v28.99h-6.65zM202.30 1274.00h6.65v28.99h-6.65zM210.05 1274.00h6.65v28.99h-6.65zM217.80 1274.00h6.65v28.99h-6.65zM225.55 1274.00h6.65v28.99h-6.65zM233.30 1274.00h6.65v28.99h-6.65zM241.05 1274.00h6.65v28.99h-6.65zM248.80 1274.00h6.65v28.99h-6.65zM256.55 1274.00h6.65v28.99h-6.65zM264.30 1274.00h6.65v28.99h-6.65zM272.05 1274.00h6.65v28.99h-6.65zM279.80 1274.00h6.65v28.99h-6.65zM287.55 1274.00h6.65v28.99h-6.65zM295.30 1274.00h6.65v28.99h-6.65zM303.05 1274.00h6.65v28.99h-6.65zM310.80 1274.00h6.65v28.99h-6.65zM8.55 1304.10h6.65v28.99h-6.65zM16.30 1304.10h6.65v28.99h-6.65zM24.05 1304.10h6.65v28.99h-6.65zM31.80 1304.10h6.65v28.99h-6.65zM39.55 1304.10h6.65v28.99h-6.65zM47.30 1304.10h6.65v28.99h-6.65zM55.05 1304.10h6.65v28.99h-6.65zM62.80 1304.10h6.65v28.99h-6.65zM70.55 1304.10h6.65v28.99h-6.65zM78.30 1304.10h6.65v28.99h-6.65zM86.05 1304.10h6.65v28.99h-6.65zM101.55 1304.10h6.65v28.99h-6.65zM109.30 1304.10h6.65v28.99h-6.65zM117.05 1304.10h6.65v28.99h-6.65zM124.80 1304.10h6.65v28.99h-6.65zM132.55 1304.10h6.65v28.99h-6.65zM140.30 1304.10h6.65v28.99h-6.65zM148.05 1304.10h6.65v28.99h-6.65zM155.80 1304.10h6.65v28.99h-6.65zM163.55 1304.10h6.65v28.99h-6.65zM171.30 1304.10h6.65v28.99h-6.65zM179.05 1304.10h6.65v28.99h-6.65zM186.80 1304.10h6.65v28.99h-6.65zM194.55 1304.10h6.65v28.99h-6.65zM202.30 1304.10h6.65v28.99h-6.65zM210.05 1304.10h6.65v28.99h-6.65zM217.80 1304.10h6.65v28.99h-6.65zM225.55 1304.10h6.65v28.99h-6.65zM233.30 1304.10h6.65v28.99h-6.65zM241.05 1304.10h6.65v28.99h-6.65zM248.80 1304.10h6.65v28.99h-6.65zM256.55 1304.10h6.65v28.99h-6.65zM264.30 1304.10h6.65v28.99h-6.65zM272.05 1304.10h6.65v28.99h-6.65zM279.80 1304.10h6.65v28.99h-6.65zM287.55 1304.10h6.65v28.99h-6.65zM295.30 1304.10h6.65v28.99h-6.65zM303.05 1304.10h6.65v28.99h-6.65zM310.80 1304.10h6.65v28.99h-6.65zM8.55 1334.19h6.65v28.99h-6.65zM16.30 1334.19h6.65v28.99h-6.65zM24.05 1334.19h6.65v28.99h-6.65zM31.80 1334.19h6.65v28.99h-6.65zM39.55 1334.19h6.65v28.99h-6.65zM47.30 1334.19h6.65v28.99h-6.65zM55.05 1334.19h6.65v28.99h-6.65zM62.80 1334.19h6.65v28.99h-6.65zM70.55 1334.19h6.65v28.99h-6.65zM78.30 1334.19h6.65v28.99h-6.65zM86.05 1334.19h6.65v28.99h-6.65zM93.80 1334.19h6.65v28.99h-6.65zM101.55 1334.19h6.65v28.99h-6.65zM109.30 1334.19h6.65v28.99h-6.65zM132.55 1334.19h6.65v28.99h-6.65zM140.30 1334.19h6.65v28.99h-6.65zM155.80 1334.19h6.65v28.99h-6.65zM163.55 1334.19h6.65v28.99h-6.65zM171.30 1334.19h6.65v28.99h-6.65zM179.05 1334.19h6.65v28.99h-6.65zM186.80 1334.19h6.65v28.99h-6.65zM194.55 1334.19h6.65v28.99h-6.65zM202.30 1334.19h6.65v28.99h-6.65zM210.05 1334.19h6.65v28.99h-6.65zM217.80 1334.19h6.65v28.99h-6.65zM225.55 1334.19h6.65v28.99h-6.65zM233.30 1334.19h6.65v28.99h-6.65zM241.05 1334.19h6.65v28.99h-6.65zM248.80 1334.19h6.65v28.99h-6.65zM256.55 1334.19h6.65v28.99h-6.65zM264.30 1334.19h6.65v28.99h-6.65zM272.05 1334.19h6.65v28.99h-6.65zM279.80 1334.19h6.65v28.99h-6.65zM287.55 1334.19h6.65v28.99h-6.65zM295.30 1334.19h6.65v28.99h-6.65zM303.05 1334.19h6.65v28.99h-6.65zM310.80 1334.19h6.65v28.99h-6.65zM8.55 1364.28h6.65v28.99h-6.65zM16.30 1364.28h6.65v28.99h-6.65zM24.05 1364.28h6.65v28.99h-6.65zM31.80 1364.28h6.65v28.99h-6.65zM39.55 1364.28h6.65v28.99h-6.65zM47.30 1364.28h6.65v28.99h-6.65zM55.05 1364.28h6.65v28.99h-6.65zM62.80 1364.28h6.65v28.99h-6.65zM70.55 1364.28h6.65v28.99h-6.65zM78.30 1364.28h6.65v28.99h-6.65zM86.05 1364.28h6.65v28.99h-6.65zM93.80 1364.28h6.65v28.99h-6.65zM101.55 1364.28h6.65v28.99h-6.65zM109.30 1364.28h6.65v28.99h-6.65zM117.05 1364.28h6.65v28.99h-6.65zM124.80 1364.28h6.65v28.99h-6.65zM132.55 1364.28h6.65v28.99h-6.65zM140.30 1364.28h6.65v28.99h-6.65zM148.05 1364.28h6.65v28.99h-6.65zM163.55 1364.28h6.65v28.99h-6.65zM186.80 1364.28h6.65v28.99h-6.65zM194.55 1364.28h6.65v28.99h-6.65zM202.30 1364.28h6.65v28.99h-6.65zM210.05 1364.28h6.65v28.99h-6.65zM217.80 1364.28h6.65v28.99h-6.65zM225.55 1364.28h6.65v28.99h-6.65zM233.30 1364.28h6.65v28.99h-6.65zM241.05 1364.28h6.65v28.99h-6.65zM248.80 1364.28h6.65v28.99h-6.65zM256.55 1364.28h6.65v28.99h-6.65zM264.30 1364.28h6.65v28.99h-6.65zM272.05 1364.28h6.65v28.99h-6.65zM279.80 1364.28h6.65v28.99h-6.65zM287.55 1364.28h6.65v28.99h-6.65zM295.30 1364.28h6.65v28.99h-6.65zM303.05 1364.28h6.65v28.99h-6.65zM310.80 1364.28h6.65v28.99h-6.65zM8.55 1394.37h6.65v28.99h-6.65zM16.30 1394.37h6.65v28.99h-6.65zM24.05 1394.37h6.65v28.99h-6.65zM31.80 1394.37h6.65v28.99h-6.65zM39.55 1394.37h6.65v28.99h-6.65zM47.30 1394.37h6.65v28.99h-6.65zM55.05 1394.37h6.65v28.99h-6.65zM62.80 1394.37h6.65v28.99h-6.65zM70.55 1394.37h6.65v28.99h-6.65zM78.30 1394.37h6.65v28.99h-6.65zM86.05 1394.37h6.65v28.99h-6.65zM93.80 1394.37h6.65v28.99h-6.65zM101.55 1394.37h6.65v28.99h-6.65zM109.30 1394.37h6.65v28.99h-6.65zM117.05 1394.37h6.65v28.99h-6.65zM124.80 1394.37h6.65v28.99h-6.65zM132.55 1394.37h6.65v28.99h-6.65zM140.30 1394.37h6.65v28.99h-6.65zM148.05 1394.37h6.65v28.99h-6.65zM155.80 1394.37h6.65v28.99h-6.65zM163.55 1394.37h6.65v28.99h-6.65zM171.30 1394.37h6.65v28.99h-6.65zM179.05 1394.37h6.65v28.99h-6.65zM202.30 1394.37h6.65v28.99h-6.65zM210.05 1394.37h6.65v28.99h-6.65zM217.80 1394.37h6.65v28.99h-6.65zM225.55 1394.37h6.65v28.99h-6.65zM233.30 1394.37h6.65v28.99h-6.65zM241.05 1394.37h6.65v28.99h-6.65zM248.80 1394.37h6.65v28.99h-6.65zM256.55 1394.37h6.65v28.99h-6.65zM264.30 1394.37h6.65v28.99h-6.65zM272.05 1394.37h6.65v28.99h-6.65zM279.80 1394.37h6.65v28.99h-6.65zM287.55 1394.37h6.65v28.99h-6.65zM295.30 1394.37h6.65v28.99h-6.65zM303.05 1394.37h6.65v28.99h-6.65zM310.80 1394.37h6.65v28.99h-6.65zM8.55 1424.46h6.65v28.99h-6.65zM16.30 1424.46h6.65v28.99h-6.65zM24.05 1424.46h6.65v28.99h-6.65zM31.80 1424.46h6.65v28.99h-6.65zM39.55 1424.46h6.65v28.99h-6.65zM47.30 1424.46h6.65v28.99h-6.65zM55.05 1424.46h6.65v28.99h-6.65zM62.80 1424.46h6.65v28.99h-6.65zM70.55 1424.46h6.65v28.99h-6.65zM78.30 1424.46h6.65v28.99h-6.65zM86.05 1424.46h6.65v28.99h-6.65zM101.55 1424.46h6.65v28.99h-6.65zM109.30 1424.46h6.65v28.99h-6.65zM117.05 1424.46h6.65v28.99h-6.65zM124.80 1424.46h6.65v28.99h-6.65zM132.55 1424.46h6.65v28.99h-6.65zM140.30 1424.46h6.65v28.99h-6.65zM148.05 1424.46h6.65v28.99h-6.65zM155.80 1424.46h6.65v28.99h-6.65zM163.55 1424.46h6.65v28.99h-6.65zM171.30 1424.46h6.65v28.99h-6.65zM179.05 1424.46h6.65v28.99h-6.65zM186.80 1424.46h6.65v28.99h-6.65zM194.55 1424.46h6.65v28.99h-6.65zM217.80 1424.46h6.65v28.99h-6.65zM233.30 1424.46h6.65v28.99h-6.65zM241.05 1424.46h6.65v28.99h-6.65zM248.80 1424.46h6.65v28.99h-6.65zM256.55 1424.46h6.65v28.99h-6.65zM279.80 1424.46h6.65v28.99h-6.65zM295.30 1424.46h6.65v28.99h-6.65zM303.05 1424.46h6.65v28.99h-6.65zM310.80 1424.46h6.65v28.99h-6.65z" fill="#ededc2"/>
<rect x="8.55" y="1123.55" width="6.65" height="28.99" fill="#f0dc95"/>
<rect x="16.30" y="1123.55" width="6.65" height="28.99" fill="#f0a544"/>
<rect x="24.05" y="1123.55" width="6.65" height="28.99" fill="#ee8a2e"/>
<rect x="8.55" y="1153.64" width="6.65" height="28.99" fill="#e2662f"/>
<rect x="16.30" y="1153.64" width="6.65" height="28.99" fill="#f0dc95"/>
<rect x="24.05" y="1153.64" width="6.65" height="28.99" fill="#f0dc95"/>
<rect x="47.30" y="1183.73" width="6.65" height="28.99" fill="#6e0c34"/>
<rect x="55.05" y="1183.73" width="6.65" height="28.99" fill="#ebe7b0"/>
<rect x="62.80" y="1183.73" width="6.65" height="28.99" fill="#ebe7b0"/>
<rect x="47.30" y="1213.82" width="6.65" height="28.99" fill="#c8443e"/>
<rect x="55.05" y="1213.82" width="6.65" height="28.99" fill="#f0c576"/>
<rect x="62.80" y="1213.82" width="6.65" height="28.99" fill="#f0dc95"/>
<rect x="70.55" y="1243.91" width="6.65" height="28.99" fill="#2a0418"/>
<rect x="70.55" y="1274.00" width="6.65" height="28.99" fill="#2a0418"/>
<rect x="78.30" y="1274.00" width="6.65" height="28.99" fill="#f0dc95"/>
<rect x="93.80" y="1304.10" width="6.65" height="28.99" fill="#2a0418"/>
<rect x="117.05" y="1334.19" width="6.65" height="28.99" fill="#e2662f"/>
<rect x="124.80" y="1334.19" width="6.65" height="28.99" fill="#ee8a2e"/>
<rect x="148.05" y="1334.19" width="6.65" height="28.99" fill="#ebe7b0"/>
<rect x="155.80" y="1364.28" width="6.65" height="28.99" fill="#f0a544"/>
<rect x="171.30" y="1364.28" width="6.65" height="28.99" fill="#f0dc95"/>
<rect x="179.05" y="1364.28" width="6.65" height="28.99" fill="#e2662f"/>
<rect x="186.80" y="1394.37" width="6.65" height="28.99" fill="#2a0418"/>
<rect x="194.55" y="1394.37" width="6.65" height="28.99" fill="#f0dc95"/>
<rect x="93.80" y="1424.46" width="6.65" height="28.99" fill="#ebe7b0"/>
<rect x="202.30" y="1424.46" width="6.65" height="28.99" fill="#f0c576"/>
<rect x="210.05" y="1424.46" width="6.65" height="28.99" fill="#f0dc95"/>
<rect x="225.55" y="1424.46" width="6.65" height="28.99" fill="#f0a544"/>
<rect x="264.30" y="1424.46" width="6.65" height="28.99" fill="#ebe7b0"/>
<rect x="272.05" y="1424.46" width="6.65" height="28.99" fill="#ebe7b0"/>
<rect x="287.55" y="1424.46" width="6.65" height="28.99" fill="#f0dc95"/>
<text x="322.8" y="1136.0" font-size="6.5" class="rl" textLength="33.9" lengthAdjust="spacingAndGlyphs">Luminal1–</text>
<text x="322.8" y="1144.4" font-size="6.5" class="rl" textLength="32.7" lengthAdjust="spacingAndGlyphs">ALDH1A3</text>
<text x="322.8" y="1172.4" font-size="6.5" class="rl" textLength="46.4" lengthAdjust="spacingAndGlyphs">Luminal1–LTF</text>
<text x="322.8" y="1202.5" font-size="6.5" class="rl" textLength="54.7" lengthAdjust="spacingAndGlyphs">Luminal2–AREG</text>
<text x="322.8" y="1232.6" font-size="6.5" class="rl" textLength="58.8" lengthAdjust="spacingAndGlyphs">Luminal2–MUCL1</text>
<text x="322.8" y="1262.7" font-size="6.5" class="rl" textLength="18.4" lengthAdjust="spacingAndGlyphs">Basal</text>
<text x="322.8" y="1286.5" font-size="6.5" class="rl" textLength="22.5" lengthAdjust="spacingAndGlyphs">Basal–</text>
<text x="322.8" y="1294.9" font-size="6.5" class="rl" textLength="42.9" lengthAdjust="spacingAndGlyphs">myoepithelial</text>
<text x="322.8" y="1322.9" font-size="6.5" class="rl" textLength="35.9" lengthAdjust="spacingAndGlyphs">Fibroblasts</text>
<text x="322.8" y="1353.0" font-size="6.5" class="rl" textLength="30.2" lengthAdjust="spacingAndGlyphs">Pericytes</text>
<text x="322.8" y="1383.1" font-size="6.5" class="rl" textLength="36.3" lengthAdjust="spacingAndGlyphs">Endothelial</text>
<text x="322.8" y="1413.2" font-size="6.5" class="rl" textLength="33.2" lengthAdjust="spacingAndGlyphs">Lymphatic</text>
<text x="322.8" y="1443.3" font-size="6.5" class="rl" textLength="26.5" lengthAdjust="spacingAndGlyphs">Immune</text>
<text transform="translate(14.2 1456.5) rotate(-90)" font-size="6.5" class="cl" textLength="23.3" lengthAdjust="spacingAndGlyphs">LASP1</text>
<text transform="translate(21.9 1456.5) rotate(-90)" font-size="6.5" class="cl" textLength="23.3" lengthAdjust="spacingAndGlyphs">LASP2</text>
<text transform="translate(29.7 1456.5) rotate(-90)" font-size="6.5" class="cl" textLength="23.3" lengthAdjust="spacingAndGlyphs">LASP3</text>
<text transform="translate(37.4 1456.5) rotate(-90)" font-size="6.5" class="cl" textLength="23.3" lengthAdjust="spacingAndGlyphs">LASP4</text>
<text transform="translate(45.2 1456.5) rotate(-90)" font-size="6.5" class="cl" textLength="23.3" lengthAdjust="spacingAndGlyphs">LASP5</text>
<text transform="translate(52.9 1456.5) rotate(-90)" font-size="6.5" class="cl" textLength="18.7" lengthAdjust="spacingAndGlyphs">LHS1</text>
<text transform="translate(60.7 1456.5) rotate(-90)" font-size="6.5" class="cl" textLength="18.7" lengthAdjust="spacingAndGlyphs">LHS2</text>
<text transform="translate(68.4 1456.5) rotate(-90)" font-size="6.5" class="cl" textLength="18.7" lengthAdjust="spacingAndGlyphs">LHS3</text>
<text transform="translate(76.2 1456.5) rotate(-90)" font-size="6.5" class="cl" textLength="26.2" lengthAdjust="spacingAndGlyphs">BMYO1</text>
<text transform="translate(83.9 1456.5) rotate(-90)" font-size="6.5" class="cl" textLength="26.2" lengthAdjust="spacingAndGlyphs">BMYO2</text>
<text transform="translate(91.7 1456.5) rotate(-90)" font-size="6.5" class="cl" textLength="13.7" lengthAdjust="spacingAndGlyphs">FB1</text>
<text transform="translate(99.4 1456.5) rotate(-90)" font-size="6.5" class="cl" textLength="13.7" lengthAdjust="spacingAndGlyphs">FB2</text>
<text transform="translate(107.2 1456.5) rotate(-90)" font-size="6.5" class="cl" textLength="13.7" lengthAdjust="spacingAndGlyphs">FB3</text>
<text transform="translate(114.9 1456.5) rotate(-90)" font-size="6.5" class="cl" textLength="13.7" lengthAdjust="spacingAndGlyphs">FB4</text>
<text transform="translate(122.7 1456.5) rotate(-90)" font-size="6.5" class="cl" textLength="14.1" lengthAdjust="spacingAndGlyphs">PV1</text>
<text transform="translate(130.4 1456.5) rotate(-90)" font-size="6.5" class="cl" textLength="14.1" lengthAdjust="spacingAndGlyphs">PV2</text>
<text transform="translate(138.2 1456.5) rotate(-90)" font-size="6.5" class="cl" textLength="14.1" lengthAdjust="spacingAndGlyphs">PV3</text>
<text transform="translate(145.9 1456.5) rotate(-90)" font-size="6.5" class="cl" textLength="14.1" lengthAdjust="spacingAndGlyphs">PV4</text>
<text transform="translate(153.7 1456.5) rotate(-90)" font-size="6.5" class="cl" textLength="14.1" lengthAdjust="spacingAndGlyphs">PV5</text>
<text transform="translate(161.4 1456.5) rotate(-90)" font-size="6.5" class="cl" textLength="15.0" lengthAdjust="spacingAndGlyphs">VEV</text>
<text transform="translate(169.2 1456.5) rotate(-90)" font-size="6.5" class="cl" textLength="15.4" lengthAdjust="spacingAndGlyphs">VEC</text>
<text transform="translate(176.9 1456.5) rotate(-90)" font-size="6.5" class="cl" textLength="15.0" lengthAdjust="spacingAndGlyphs">VEA</text>
<text transform="translate(184.7 1456.5) rotate(-90)" font-size="6.5" class="cl" textLength="19.0" lengthAdjust="spacingAndGlyphs">VEAT</text>
<text transform="translate(192.4 1456.5) rotate(-90)" font-size="6.5" class="cl" textLength="13.3" lengthAdjust="spacingAndGlyphs">LE1</text>
<text transform="translate(200.2 1456.5) rotate(-90)" font-size="6.5" class="cl" textLength="13.3" lengthAdjust="spacingAndGlyphs">LE2</text>
<text transform="translate(207.9 1456.5) rotate(-90)" font-size="6.5" class="cl" textLength="34.9" lengthAdjust="spacingAndGlyphs">CD4 naive</text>
<text transform="translate(215.7 1456.5) rotate(-90)" font-size="6.5" class="cl" textLength="25.6" lengthAdjust="spacingAndGlyphs">CD4 Th</text>
<text transform="translate(223.4 1456.5) rotate(-90)" font-size="6.5" class="cl" textLength="31.0" lengthAdjust="spacingAndGlyphs">CD8 Tem</text>
<text transform="translate(231.2 1456.5) rotate(-90)" font-size="6.5" class="cl" textLength="29.9" lengthAdjust="spacingAndGlyphs">CD8 Trm</text>
<text transform="translate(238.9 1456.5) rotate(-90)" font-size="6.5" class="cl" textLength="28.5" lengthAdjust="spacingAndGlyphs">CD8 Tc1</text>
<text transform="translate(246.7 1456.5) rotate(-90)" font-size="6.5" class="cl" textLength="14.9" lengthAdjust="spacingAndGlyphs">NKT</text>
<text transform="translate(254.4 1456.5) rotate(-90)" font-size="6.5" class="cl" textLength="10.4" lengthAdjust="spacingAndGlyphs">NK</text>
<text transform="translate(262.2 1456.5) rotate(-90)" font-size="6.5" class="cl" textLength="11.6" lengthAdjust="spacingAndGlyphs">ILC</text>
<text transform="translate(269.9 1456.5) rotate(-90)" font-size="6.5" class="cl" textLength="24.9" lengthAdjust="spacingAndGlyphs">B naive</text>
<text transform="translate(277.7 1456.5) rotate(-90)" font-size="6.5" class="cl" textLength="54.8" lengthAdjust="spacingAndGlyphs">B mem switched</text>
<text transform="translate(285.4 1456.5) rotate(-90)" font-size="6.5" class="cl" textLength="63.1" lengthAdjust="spacingAndGlyphs">B mem unswitched</text>
<text transform="translate(293.2 1456.5) rotate(-90)" font-size="6.5" class="cl" textLength="38.2" lengthAdjust="spacingAndGlyphs">Plasma cell</text>
<text transform="translate(300.9 1456.5) rotate(-90)" font-size="6.5" class="cl" textLength="20.8" lengthAdjust="spacingAndGlyphs">Macro</text>
<text transform="translate(308.7 1456.5) rotate(-90)" font-size="6.5" class="cl" textLength="36.6" lengthAdjust="spacingAndGlyphs">Macro–lipo</text>
<text transform="translate(316.4 1456.5) rotate(-90)" font-size="6.5" class="cl" textLength="10.8" lengthAdjust="spacingAndGlyphs">DC</text>
<text x="75.8" y="1116.4" class="ht" textLength="66.5" lengthAdjust="spacingAndGlyphs">Nee et al.</text><text x="144.0" y="1109.6" font-size="9.5" fill="#231f20" textLength="7.0" lengthAdjust="spacingAndGlyphs">14</text><text x="156.8" y="1116.4" class="ht" textLength="93.9" lengthAdjust="spacingAndGlyphs">label transfer</text>
<text transform="translate(379.8 1263.1) rotate(90)" class="ol" textLength="73.8" lengthAdjust="spacingAndGlyphs">Original label</text>
<text x="93.8" y="1530.0" class="ml" textLength="139" lengthAdjust="spacingAndGlyphs">Mapped label (this study)</text>
<rect x="412.00" y="1126.00" width="325.00" height="330.00" fill="#e8e8e0"/>
<path d="M436.93 1126.55h7.03v35.57h-7.03zM445.05 1126.55h7.03v35.57h-7.03zM453.18 1126.55h7.03v35.57h-7.03zM461.30 1126.55h7.03v35.57h-7.03zM469.43 1126.55h7.03v35.57h-7.03zM477.55 1126.55h7.03v35.57h-7.03zM485.68 1126.55h7.03v35.57h-7.03zM493.80 1126.55h7.03v35.57h-7.03zM501.93 1126.55h7.03v35.57h-7.03zM510.05 1126.55h7.03v35.57h-7.03zM518.17 1126.55h7.03v35.57h-7.03zM526.30 1126.55h7.03v35.57h-7.03zM534.42 1126.55h7.03v35.57h-7.03zM542.55 1126.55h7.03v35.57h-7.03zM550.67 1126.55h7.03v35.57h-7.03zM558.80 1126.55h7.03v35.57h-7.03zM566.92 1126.55h7.03v35.57h-7.03zM575.05 1126.55h7.03v35.57h-7.03zM583.17 1126.55h7.03v35.57h-7.03zM591.30 1126.55h7.03v35.57h-7.03zM599.42 1126.55h7.03v35.57h-7.03zM607.55 1126.55h7.03v35.57h-7.03zM615.67 1126.55h7.03v35.57h-7.03zM623.80 1126.55h7.03v35.57h-7.03zM631.92 1126.55h7.03v35.57h-7.03zM640.05 1126.55h7.03v35.57h-7.03zM648.17 1126.55h7.03v35.57h-7.03zM656.30 1126.55h7.03v35.57h-7.03zM664.42 1126.55h7.03v35.57h-7.03zM672.55 1126.55h7.03v35.57h-7.03zM680.67 1126.55h7.03v35.57h-7.03zM688.80 1126.55h7.03v35.57h-7.03zM696.92 1126.55h7.03v35.57h-7.03zM705.05 1126.55h7.03v35.57h-7.03zM713.17 1126.55h7.03v35.57h-7.03zM721.30 1126.55h7.03v35.57h-7.03zM729.42 1126.55h7.03v35.57h-7.03zM412.55 1163.22h7.03v35.57h-7.03zM420.68 1163.22h7.03v35.57h-7.03zM428.80 1163.22h7.03v35.57h-7.03zM436.93 1163.22h7.03v35.57h-7.03zM445.05 1163.22h7.03v35.57h-7.03zM477.55 1163.22h7.03v35.57h-7.03zM485.68 1163.22h7.03v35.57h-7.03zM493.80 1163.22h7.03v35.57h-7.03zM501.93 1163.22h7.03v35.57h-7.03zM510.05 1163.22h7.03v35.57h-7.03zM518.17 1163.22h7.03v35.57h-7.03zM526.30 1163.22h7.03v35.57h-7.03zM534.42 1163.22h7.03v35.57h-7.03zM542.55 1163.22h7.03v35.57h-7.03zM550.67 1163.22h7.03v35.57h-7.03zM558.80 1163.22h7.03v35.57h-7.03zM566.92 1163.22h7.03v35.57h-7.03zM575.05 1163.22h7.03v35.57h-7.03zM583.17 1163.22h7.03v35.57h-7.03zM591.30 1163.22h7.03v35.57h-7.03zM599.42 1163.22h7.03v35.57h-7.03zM607.55 1163.22h7.03v35.57h-7.03zM615.67 1163.22h7.03v35.57h-7.03zM623.80 1163.22h7.03v35.57h-7.03zM631.92 1163.22h7.03v35.57h-7.03zM640.05 1163.22h7.03v35.57h-7.03zM648.17 1163.22h7.03v35.57h-7.03zM656.30 1163.22h7.03v35.57h-7.03zM664.42 1163.22h7.03v35.57h-7.03zM672.55 1163.22h7.03v35.57h-7.03zM680.67 1163.22h7.03v35.57h-7.03zM688.80 1163.22h7.03v35.57h-7.03zM696.92 1163.22h7.03v35.57h-7.03zM705.05 1163.22h7.03v35.57h-7.03zM713.17 1163.22h7.03v35.57h-7.03zM721.30 1163.22h7.03v35.57h-7.03zM729.42 1163.22h7.03v35.57h-7.03zM412.55 1199.88h7.03v35.57h-7.03zM420.68 1199.88h7.03v35.57h-7.03zM428.80 1199.88h7.03v35.57h-7.03zM436.93 1199.88h7.03v35.57h-7.03zM445.05 1199.88h7.03v35.57h-7.03zM453.18 1199.88h7.03v35.57h-7.03zM461.30 1199.88h7.03v35.57h-7.03zM469.43 1199.88h7.03v35.57h-7.03zM493.80 1199.88h7.03v35.57h-7.03zM501.93 1199.88h7.03v35.57h-7.03zM510.05 1199.88h7.03v35.57h-7.03zM518.17 1199.88h7.03v35.57h-7.03zM526.30 1199.88h7.03v35.57h-7.03zM534.42 1199.88h7.03v35.57h-7.03zM542.55 1199.88h7.03v35.57h-7.03zM550.67 1199.88h7.03v35.57h-7.03zM558.80 1199.88h7.03v35.57h-7.03zM566.92 1199.88h7.03v35.57h-7.03zM575.05 1199.88h7.03v35.57h-7.03zM583.17 1199.88h7.03v35.57h-7.03zM591.30 1199.88h7.03v35.57h-7.03zM599.42 1199.88h7.03v35.57h-7.03zM607.55 1199.88h7.03v35.57h-7.03zM615.67 1199.88h7.03v35.57h-7.03zM623.80 1199.88h7.03v35.57h-7.03zM631.92 1199.88h7.03v35.57h-7.03zM640.05 1199.88h7.03v35.57h-7.03zM648.17 1199.88h7.03v35.57h-7.03zM656.30 1199.88h7.03v35.57h-7.03zM664.42 1199.88h7.03v35.57h-7.03zM672.55 1199.88h7.03v35.57h-7.03zM680.67 1199.88h7.03v35.57h-7.03zM688.80 1199.88h7.03v35.57h-7.03zM696.92 1199.88h7.03v35.57h-7.03zM705.05 1199.88h7.03v35.57h-7.03zM713.17 1199.88h7.03v35.57h-7.03zM721.30 1199.88h7.03v35.57h-7.03zM729.42 1199.88h7.03v35.57h-7.03zM412.55 1236.55h7.03v35.57h-7.03zM420.68 1236.55h7.03v35.57h-7.03zM428.80 1236.55h7.03v35.57h-7.03zM436.93 1236.55h7.03v35.57h-7.03zM445.05 1236.55h7.03v35.57h-7.03zM453.18 1236.55h7.03v35.57h-7.03zM461.30 1236.55h7.03v35.57h-7.03zM469.43 1236.55h7.03v35.57h-7.03zM477.55 1236.55h7.03v35.57h-7.03zM485.68 1236.55h7.03v35.57h-7.03zM510.05 1236.55h7.03v35.57h-7.03zM526.30 1236.55h7.03v35.57h-7.03zM534.42 1236.55h7.03v35.57h-7.03zM542.55 1236.55h7.03v35.57h-7.03zM550.67 1236.55h7.03v35.57h-7.03zM558.80 1236.55h7.03v35.57h-7.03zM566.92 1236.55h7.03v35.57h-7.03zM575.05 1236.55h7.03v35.57h-7.03zM583.17 1236.55h7.03v35.57h-7.03zM591.30 1236.55h7.03v35.57h-7.03zM599.42 1236.55h7.03v35.57h-7.03zM607.55 1236.55h7.03v35.57h-7.03zM615.67 1236.55h7.03v35.57h-7.03zM623.80 1236.55h7.03v35.57h-7.03zM631.92 1236.55h7.03v35.57h-7.03zM640.05 1236.55h7.03v35.57h-7.03zM648.17 1236.55h7.03v35.57h-7.03zM656.30 1236.55h7.03v35.57h-7.03zM664.42 1236.55h7.03v35.57h-7.03zM672.55 1236.55h7.03v35.57h-7.03zM680.67 1236.55h7.03v35.57h-7.03zM688.80 1236.55h7.03v35.57h-7.03zM696.92 1236.55h7.03v35.57h-7.03zM705.05 1236.55h7.03v35.57h-7.03zM713.17 1236.55h7.03v35.57h-7.03zM721.30 1236.55h7.03v35.57h-7.03zM729.42 1236.55h7.03v35.57h-7.03zM412.55 1273.22h7.03v35.57h-7.03zM420.68 1273.22h7.03v35.57h-7.03zM428.80 1273.22h7.03v35.57h-7.03zM436.93 1273.22h7.03v35.57h-7.03zM445.05 1273.22h7.03v35.57h-7.03zM453.18 1273.22h7.03v35.57h-7.03zM461.30 1273.22h7.03v35.57h-7.03zM469.43 1273.22h7.03v35.57h-7.03zM477.55 1273.22h7.03v35.57h-7.03zM485.68 1273.22h7.03v35.57h-7.03zM493.80 1273.22h7.03v35.57h-7.03zM501.93 1273.22h7.03v35.57h-7.03zM510.05 1273.22h7.03v35.57h-7.03zM518.17 1273.22h7.03v35.57h-7.03zM542.55 1273.22h7.03v35.57h-7.03zM550.67 1273.22h7.03v35.57h-7.03zM566.92 1273.22h7.03v35.57h-7.03zM575.05 1273.22h7.03v35.57h-7.03zM583.17 1273.22h7.03v35.57h-7.03zM591.30 1273.22h7.03v35.57h-7.03zM599.42 1273.22h7.03v35.57h-7.03zM607.55 1273.22h7.03v35.57h-7.03zM615.67 1273.22h7.03v35.57h-7.03zM623.80 1273.22h7.03v35.57h-7.03zM631.92 1273.22h7.03v35.57h-7.03zM640.05 1273.22h7.03v35.57h-7.03zM648.17 1273.22h7.03v35.57h-7.03zM656.30 1273.22h7.03v35.57h-7.03zM664.42 1273.22h7.03v35.57h-7.03zM672.55 1273.22h7.03v35.57h-7.03zM680.67 1273.22h7.03v35.57h-7.03zM688.80 1273.22h7.03v35.57h-7.03zM696.92 1273.22h7.03v35.57h-7.03zM705.05 1273.22h7.03v35.57h-7.03zM713.17 1273.22h7.03v35.57h-7.03zM721.30 1273.22h7.03v35.57h-7.03zM729.42 1273.22h7.03v35.57h-7.03zM412.55 1309.88h7.03v35.57h-7.03zM420.68 1309.88h7.03v35.57h-7.03zM428.80 1309.88h7.03v35.57h-7.03zM436.93 1309.88h7.03v35.57h-7.03zM445.05 1309.88h7.03v35.57h-7.03zM453.18 1309.88h7.03v35.57h-7.03zM461.30 1309.88h7.03v35.57h-7.03zM469.43 1309.88h7.03v35.57h-7.03zM477.55 1309.88h7.03v35.57h-7.03zM485.68 1309.88h7.03v35.57h-7.03zM493.80 1309.88h7.03v35.57h-7.03zM501.93 1309.88h7.03v35.57h-7.03zM510.05 1309.88h7.03v35.57h-7.03zM518.17 1309.88h7.03v35.57h-7.03zM526.30 1309.88h7.03v35.57h-7.03zM534.42 1309.88h7.03v35.57h-7.03zM542.55 1309.88h7.03v35.57h-7.03zM550.67 1309.88h7.03v35.57h-7.03zM558.80 1309.88h7.03v35.57h-7.03zM575.05 1309.88h7.03v35.57h-7.03zM599.42 1309.88h7.03v35.57h-7.03zM607.55 1309.88h7.03v35.57h-7.03zM615.67 1309.88h7.03v35.57h-7.03zM623.80 1309.88h7.03v35.57h-7.03zM631.92 1309.88h7.03v35.57h-7.03zM640.05 1309.88h7.03v35.57h-7.03zM648.17 1309.88h7.03v35.57h-7.03zM656.30 1309.88h7.03v35.57h-7.03zM664.42 1309.88h7.03v35.57h-7.03zM672.55 1309.88h7.03v35.57h-7.03zM680.67 1309.88h7.03v35.57h-7.03zM688.80 1309.88h7.03v35.57h-7.03zM696.92 1309.88h7.03v35.57h-7.03zM705.05 1309.88h7.03v35.57h-7.03zM713.17 1309.88h7.03v35.57h-7.03zM721.30 1309.88h7.03v35.57h-7.03zM729.42 1309.88h7.03v35.57h-7.03zM412.55 1346.55h7.03v35.57h-7.03zM420.68 1346.55h7.03v35.57h-7.03zM428.80 1346.55h7.03v35.57h-7.03zM436.93 1346.55h7.03v35.57h-7.03zM445.05 1346.55h7.03v35.57h-7.03zM453.18 1346.55h7.03v35.57h-7.03zM461.30 1346.55h7.03v35.57h-7.03zM469.43 1346.55h7.03v35.57h-7.03zM477.55 1346.55h7.03v35.57h-7.03zM485.68 1346.55h7.03v35.57h-7.03zM493.80 1346.55h7.03v35.57h-7.03zM501.93 1346.55h7.03v35.57h-7.03zM510.05 1346.55h7.03v35.57h-7.03zM518.17 1346.55h7.03v35.57h-7.03zM526.30 1346.55h7.03v35.57h-7.03zM534.42 1346.55h7.03v35.57h-7.03zM542.55 1346.55h7.03v35.57h-7.03zM550.67 1346.55h7.03v35.57h-7.03zM558.80 1346.55h7.03v35.57h-7.03zM575.05 1346.55h7.03v35.57h-7.03zM583.17 1346.55h7.03v35.57h-7.03zM591.30 1346.55h7.03v35.57h-7.03zM615.67 1346.55h7.03v35.57h-7.03zM623.80 1346.55h7.03v35.57h-7.03zM631.92 1346.55h7.03v35.57h-7.03zM640.05 1346.55h7.03v35.57h-7.03zM648.17 1346.55h7.03v35.57h-7.03zM656.30 1346.55h7.03v35.57h-7.03zM664.42 1346.55h7.03v35.57h-7.03zM672.55 1346.55h7.03v35.57h-7.03zM680.67 1346.55h7.03v35.57h-7.03zM688.80 1346.55h7.03v35.57h-7.03zM696.92 1346.55h7.03v35.57h-7.03zM705.05 1346.55h7.03v35.57h-7.03zM713.17 1346.55h7.03v35.57h-7.03zM721.30 1346.55h7.03v35.57h-7.03zM729.42 1346.55h7.03v35.57h-7.03zM412.55 1383.22h7.03v35.57h-7.03zM420.68 1383.22h7.03v35.57h-7.03zM428.80 1383.22h7.03v35.57h-7.03zM436.93 1383.22h7.03v35.57h-7.03zM445.05 1383.22h7.03v35.57h-7.03zM453.18 1383.22h7.03v35.57h-7.03zM461.30 1383.22h7.03v35.57h-7.03zM469.43 1383.22h7.03v35.57h-7.03zM477.55 1383.22h7.03v35.57h-7.03zM485.68 1383.22h7.03v35.57h-7.03zM493.80 1383.22h7.03v35.57h-7.03zM501.93 1383.22h7.03v35.57h-7.03zM510.05 1383.22h7.03v35.57h-7.03zM518.17 1383.22h7.03v35.57h-7.03zM526.30 1383.22h7.03v35.57h-7.03zM534.42 1383.22h7.03v35.57h-7.03zM542.55 1383.22h7.03v35.57h-7.03zM550.67 1383.22h7.03v35.57h-7.03zM558.80 1383.22h7.03v35.57h-7.03zM566.92 1383.22h7.03v35.57h-7.03zM575.05 1383.22h7.03v35.57h-7.03zM583.17 1383.22h7.03v35.57h-7.03zM591.30 1383.22h7.03v35.57h-7.03zM599.42 1383.22h7.03v35.57h-7.03zM607.55 1383.22h7.03v35.57h-7.03zM648.17 1383.22h7.03v35.57h-7.03zM656.30 1383.22h7.03v35.57h-7.03zM664.42 1383.22h7.03v35.57h-7.03zM672.55 1383.22h7.03v35.57h-7.03zM696.92 1383.22h7.03v35.57h-7.03zM713.17 1383.22h7.03v35.57h-7.03zM721.30 1383.22h7.03v35.57h-7.03zM729.42 1383.22h7.03v35.57h-7.03zM412.55 1419.88h7.03v35.57h-7.03zM420.68 1419.88h7.03v35.57h-7.03zM428.80 1419.88h7.03v35.57h-7.03zM436.93 1419.88h7.03v35.57h-7.03zM445.05 1419.88h7.03v35.57h-7.03zM453.18 1419.88h7.03v35.57h-7.03zM461.30 1419.88h7.03v35.57h-7.03zM469.43 1419.88h7.03v35.57h-7.03zM477.55 1419.88h7.03v35.57h-7.03zM485.68 1419.88h7.03v35.57h-7.03zM493.80 1419.88h7.03v35.57h-7.03zM501.93 1419.88h7.03v35.57h-7.03zM510.05 1419.88h7.03v35.57h-7.03zM518.17 1419.88h7.03v35.57h-7.03zM526.30 1419.88h7.03v35.57h-7.03zM534.42 1419.88h7.03v35.57h-7.03zM542.55 1419.88h7.03v35.57h-7.03zM550.67 1419.88h7.03v35.57h-7.03zM558.80 1419.88h7.03v35.57h-7.03zM566.92 1419.88h7.03v35.57h-7.03zM575.05 1419.88h7.03v35.57h-7.03zM583.17 1419.88h7.03v35.57h-7.03zM591.30 1419.88h7.03v35.57h-7.03zM599.42 1419.88h7.03v35.57h-7.03zM607.55 1419.88h7.03v35.57h-7.03zM615.67 1419.88h7.03v35.57h-7.03zM623.80 1419.88h7.03v35.57h-7.03zM631.92 1419.88h7.03v35.57h-7.03zM640.05 1419.88h7.03v35.57h-7.03zM648.17 1419.88h7.03v35.57h-7.03zM656.30 1419.88h7.03v35.57h-7.03zM664.42 1419.88h7.03v35.57h-7.03zM672.55 1419.88h7.03v35.57h-7.03zM680.67 1419.88h7.03v35.57h-7.03zM688.80 1419.88h7.03v35.57h-7.03zM696.92 1419.88h7.03v35.57h-7.03zM705.05 1419.88h7.03v35.57h-7.03zM721.30 1419.88h7.03v35.57h-7.03zM729.42 1419.88h7.03v35.57h-7.03z" fill="#ededc2"/>
<rect x="412.55" y="1126.55" width="7.03" height="35.57" fill="#a02a42"/>
<rect x="420.68" y="1126.55" width="7.03" height="35.57" fill="#f0dc95"/>
<rect x="428.80" y="1126.55" width="7.03" height="35.57" fill="#f0c576"/>
<rect x="453.18" y="1163.22" width="7.03" height="35.57" fill="#e2662f"/>
<rect x="461.30" y="1163.22" width="7.03" height="35.57" fill="#f0a544"/>
<rect x="469.43" y="1163.22" width="7.03" height="35.57" fill="#f0dc95"/>
<rect x="477.55" y="1199.88" width="7.03" height="35.57" fill="#a02a42"/>
<rect x="485.68" y="1199.88" width="7.03" height="35.57" fill="#f0c576"/>
<rect x="493.80" y="1236.55" width="7.03" height="35.57" fill="#ebe7b0"/>
<rect x="501.93" y="1236.55" width="7.03" height="35.57" fill="#6e0c34"/>
<rect x="518.17" y="1236.55" width="7.03" height="35.57" fill="#ebe7b0"/>
<rect x="526.30" y="1273.22" width="7.03" height="35.57" fill="#e2662f"/>
<rect x="534.42" y="1273.22" width="7.03" height="35.57" fill="#f0a544"/>
<rect x="558.80" y="1273.22" width="7.03" height="35.57" fill="#ebe7b0"/>
<rect x="566.92" y="1309.88" width="7.03" height="35.57" fill="#f0a544"/>
<rect x="583.17" y="1309.88" width="7.03" height="35.57" fill="#f0c576"/>
<rect x="591.30" y="1309.88" width="7.03" height="35.57" fill="#ee8a2e"/>
<rect x="566.92" y="1346.55" width="7.03" height="35.57" fill="#ebe7b0"/>
<rect x="599.42" y="1346.55" width="7.03" height="35.57" fill="#6e0c34"/>
<rect x="607.55" y="1346.55" width="7.03" height="35.57" fill="#f0dc95"/>
<rect x="615.67" y="1383.22" width="7.03" height="35.57" fill="#f0dc95"/>
<rect x="623.80" y="1383.22" width="7.03" height="35.57" fill="#f0dc95"/>
<rect x="631.92" y="1383.22" width="7.03" height="35.57" fill="#ebe7b0"/>
<rect x="640.05" y="1383.22" width="7.03" height="35.57" fill="#f0a544"/>
<rect x="680.67" y="1383.22" width="7.03" height="35.57" fill="#ebe7b0"/>
<rect x="688.80" y="1383.22" width="7.03" height="35.57" fill="#f0dc95"/>
<rect x="705.05" y="1383.22" width="7.03" height="35.57" fill="#ebe7b0"/>
<rect x="713.17" y="1419.88" width="7.03" height="35.57" fill="#2a0418"/>
<text x="741.8" y="1142.3" font-size="6.5" class="rl" textLength="31.4" lengthAdjust="spacingAndGlyphs">Secretory</text>
<text x="741.8" y="1150.7" font-size="6.5" class="rl" textLength="25.7" lengthAdjust="spacingAndGlyphs">Luminal</text>
<text x="741.8" y="1179.0" font-size="6.5" class="rl" textLength="22.5" lengthAdjust="spacingAndGlyphs">HRpos</text>
<text x="741.8" y="1187.4" font-size="6.5" class="rl" textLength="25.7" lengthAdjust="spacingAndGlyphs">Luminal</text>
<text x="741.8" y="1222.0" font-size="6.5" class="rl" textLength="18.4" lengthAdjust="spacingAndGlyphs">Basal</text>
<text x="741.8" y="1258.6" font-size="6.5" class="rl" textLength="32.2" lengthAdjust="spacingAndGlyphs">Fibroblast</text>
<text x="741.8" y="1289.0" font-size="6.5" class="rl" textLength="28.0" lengthAdjust="spacingAndGlyphs">Vascular</text>
<text x="741.8" y="1297.4" font-size="6.5" class="rl" textLength="33.9" lengthAdjust="spacingAndGlyphs">Accessory</text>
<text x="741.8" y="1325.7" font-size="6.5" class="rl" textLength="28.0" lengthAdjust="spacingAndGlyphs">Vascular</text>
<text x="741.8" y="1334.1" font-size="6.5" class="rl" textLength="36.3" lengthAdjust="spacingAndGlyphs">Endothelial</text>
<text x="741.8" y="1362.3" font-size="6.5" class="rl" textLength="33.2" lengthAdjust="spacingAndGlyphs">Lymphatic</text>
<text x="741.8" y="1370.7" font-size="6.5" class="rl" textLength="36.3" lengthAdjust="spacingAndGlyphs">Endothelial</text>
<text x="741.8" y="1405.3" font-size="6.5" class="rl" textLength="39.3" lengthAdjust="spacingAndGlyphs">Lymphocyte</text>
<text x="741.8" y="1442.0" font-size="6.5" class="rl" textLength="40.8" lengthAdjust="spacingAndGlyphs">Macrophage</text>
<text transform="translate(418.4 1458.5) rotate(-90)" font-size="6.5" class="cl" textLength="23.3" lengthAdjust="spacingAndGlyphs">LASP1</text>
<text transform="translate(426.5 1458.5) rotate(-90)" font-size="6.5" class="cl" textLength="23.3" lengthAdjust="spacingAndGlyphs">LASP2</text>
<text transform="translate(434.6 1458.5) rotate(-90)" font-size="6.5" class="cl" textLength="23.3" lengthAdjust="spacingAndGlyphs">LASP3</text>
<text transform="translate(442.7 1458.5) rotate(-90)" font-size="6.5" class="cl" textLength="23.3" lengthAdjust="spacingAndGlyphs">LASP4</text>
<text transform="translate(450.9 1458.5) rotate(-90)" font-size="6.5" class="cl" textLength="23.3" lengthAdjust="spacingAndGlyphs">LASP5</text>
<text transform="translate(459.0 1458.5) rotate(-90)" font-size="6.5" class="cl" textLength="18.7" lengthAdjust="spacingAndGlyphs">LHS1</text>
<text transform="translate(467.1 1458.5) rotate(-90)" font-size="6.5" class="cl" textLength="18.7" lengthAdjust="spacingAndGlyphs">LHS2</text>
<text transform="translate(475.2 1458.5) rotate(-90)" font-size="6.5" class="cl" textLength="18.7" lengthAdjust="spacingAndGlyphs">LHS3</text>
<text transform="translate(483.4 1458.5) rotate(-90)" font-size="6.5" class="cl" textLength="26.2" lengthAdjust="spacingAndGlyphs">BMYO1</text>
<text transform="translate(491.5 1458.5) rotate(-90)" font-size="6.5" class="cl" textLength="26.2" lengthAdjust="spacingAndGlyphs">BMYO2</text>
<text transform="translate(499.6 1458.5) rotate(-90)" font-size="6.5" class="cl" textLength="13.7" lengthAdjust="spacingAndGlyphs">FB1</text>
<text transform="translate(507.7 1458.5) rotate(-90)" font-size="6.5" class="cl" textLength="13.7" lengthAdjust="spacingAndGlyphs">FB2</text>
<text transform="translate(515.9 1458.5) rotate(-90)" font-size="6.5" class="cl" textLength="13.7" lengthAdjust="spacingAndGlyphs">FB3</text>
<text transform="translate(524.0 1458.5) rotate(-90)" font-size="6.5" class="cl" textLength="13.7" lengthAdjust="spacingAndGlyphs">FB4</text>
<text transform="translate(532.1 1458.5) rotate(-90)" font-size="6.5" class="cl" textLength="14.1" lengthAdjust="spacingAndGlyphs">PV1</text>
<text transform="translate(540.2 1458.5) rotate(-90)" font-size="6.5" class="cl" textLength="14.1" lengthAdjust="spacingAndGlyphs">PV2</text>
<text transform="translate(548.4 1458.5) rotate(-90)" font-size="6.5" class="cl" textLength="14.1" lengthAdjust="spacingAndGlyphs">PV3</text>
<text transform="translate(556.5 1458.5) rotate(-90)" font-size="6.5" class="cl" textLength="14.1" lengthAdjust="spacingAndGlyphs">PV4</text>
<text transform="translate(564.6 1458.5) rotate(-90)" font-size="6.5" class="cl" textLength="14.1" lengthAdjust="spacingAndGlyphs">PV5</text>
<text transform="translate(572.7 1458.5) rotate(-90)" font-size="6.5" class="cl" textLength="15.0" lengthAdjust="spacingAndGlyphs">VEV</text>
<text transform="translate(580.9 1458.5) rotate(-90)" font-size="6.5" class="cl" textLength="15.4" lengthAdjust="spacingAndGlyphs">VEC</text>
<text transform="translate(589.0 1458.5) rotate(-90)" font-size="6.5" class="cl" textLength="15.0" lengthAdjust="spacingAndGlyphs">VEA</text>
<text transform="translate(597.1 1458.5) rotate(-90)" font-size="6.5" class="cl" textLength="19.0" lengthAdjust="spacingAndGlyphs">VEAT</text>
<text transform="translate(605.2 1458.5) rotate(-90)" font-size="6.5" class="cl" textLength="13.3" lengthAdjust="spacingAndGlyphs">LE1</text>
<text transform="translate(613.4 1458.5) rotate(-90)" font-size="6.5" class="cl" textLength="13.3" lengthAdjust="spacingAndGlyphs">LE2</text>
<text transform="translate(621.5 1458.5) rotate(-90)" font-size="6.5" class="cl" textLength="34.9" lengthAdjust="spacingAndGlyphs">CD4 naive</text>
<text transform="translate(629.6 1458.5) rotate(-90)" font-size="6.5" class="cl" textLength="25.6" lengthAdjust="spacingAndGlyphs">CD4 Th</text>
<text transform="translate(637.7 1458.5) rotate(-90)" font-size="6.5" class="cl" textLength="31.0" lengthAdjust="spacingAndGlyphs">CD8 Tem</text>
<text transform="translate(645.9 1458.5) rotate(-90)" font-size="6.5" class="cl" textLength="29.9" lengthAdjust="spacingAndGlyphs">CD8 Trm</text>
<text transform="translate(654.0 1458.5) rotate(-90)" font-size="6.5" class="cl" textLength="28.5" lengthAdjust="spacingAndGlyphs">CD8 Tc1</text>
<text transform="translate(662.1 1458.5) rotate(-90)" font-size="6.5" class="cl" textLength="14.9" lengthAdjust="spacingAndGlyphs">NKT</text>
<text transform="translate(670.2 1458.5) rotate(-90)" font-size="6.5" class="cl" textLength="10.4" lengthAdjust="spacingAndGlyphs">NK</text>
<text transform="translate(678.4 1458.5) rotate(-90)" font-size="6.5" class="cl" textLength="11.6" lengthAdjust="spacingAndGlyphs">ILC</text>
<text transform="translate(686.5 1458.5) rotate(-90)" font-size="6.5" class="cl" textLength="24.9" lengthAdjust="spacingAndGlyphs">B naive</text>
<text transform="translate(694.6 1458.5) rotate(-90)" font-size="6.5" class="cl" textLength="54.8" lengthAdjust="spacingAndGlyphs">B mem switched</text>
<text transform="translate(702.7 1458.5) rotate(-90)" font-size="6.5" class="cl" textLength="63.1" lengthAdjust="spacingAndGlyphs">B mem unswitched</text>
<text transform="translate(710.9 1458.5) rotate(-90)" font-size="6.5" class="cl" textLength="38.2" lengthAdjust="spacingAndGlyphs">Plasma cell</text>
<text transform="translate(719.0 1458.5) rotate(-90)" font-size="6.5" class="cl" textLength="20.8" lengthAdjust="spacingAndGlyphs">Macro</text>
<text transform="translate(727.1 1458.5) rotate(-90)" font-size="6.5" class="cl" textLength="36.6" lengthAdjust="spacingAndGlyphs">Macro–lipo</text>
<text transform="translate(735.2 1458.5) rotate(-90)" font-size="6.5" class="cl" textLength="10.8" lengthAdjust="spacingAndGlyphs">DC</text>
<text x="472.7" y="1116.7" class="ht" textLength="93.1" lengthAdjust="spacingAndGlyphs">Murrow et al.</text><text x="567.3" y="1109.9" font-size="9.5" fill="#231f20" textLength="8.6" lengthAdjust="spacingAndGlyphs">17</text><text x="581.4" y="1116.7" class="ht" textLength="93.5" lengthAdjust="spacingAndGlyphs">label transfer</text>
<text transform="translate(791.4 1257.9) rotate(90)" class="ol" textLength="73.8" lengthAdjust="spacingAndGlyphs">Original label</text>
<text x="504.3" y="1530.0" class="ml" textLength="139" lengthAdjust="spacingAndGlyphs">Mapped label (this study)</text>
<rect x="824.00" y="1126.00" width="313.00" height="328.00" fill="#e8e8e0"/>
<path d="M848.02 1126.55h6.72v53.57h-6.72zM855.85 1126.55h6.72v53.57h-6.72zM871.50 1126.55h6.72v53.57h-6.72zM879.32 1126.55h6.72v53.57h-6.72zM902.80 1126.55h6.72v53.57h-6.72zM910.62 1126.55h6.72v53.57h-6.72zM918.45 1126.55h6.72v53.57h-6.72zM926.27 1126.55h6.72v53.57h-6.72zM934.10 1126.55h6.72v53.57h-6.72zM941.92 1126.55h6.72v53.57h-6.72zM949.75 1126.55h6.72v53.57h-6.72zM957.57 1126.55h6.72v53.57h-6.72zM965.40 1126.55h6.72v53.57h-6.72zM973.22 1126.55h6.72v53.57h-6.72zM981.05 1126.55h6.72v53.57h-6.72zM988.88 1126.55h6.72v53.57h-6.72zM996.70 1126.55h6.72v53.57h-6.72zM1004.52 1126.55h6.72v53.57h-6.72zM1012.35 1126.55h6.72v53.57h-6.72zM1020.17 1126.55h6.72v53.57h-6.72zM1028.00 1126.55h6.72v53.57h-6.72zM1035.83 1126.55h6.72v53.57h-6.72zM1043.65 1126.55h6.72v53.57h-6.72zM1051.47 1126.55h6.72v53.57h-6.72zM1059.30 1126.55h6.72v53.57h-6.72zM1067.12 1126.55h6.72v53.57h-6.72zM1074.95 1126.55h6.72v53.57h-6.72zM1082.77 1126.55h6.72v53.57h-6.72zM1090.60 1126.55h6.72v53.57h-6.72zM1098.42 1126.55h6.72v53.57h-6.72zM1106.25 1126.55h6.72v53.57h-6.72zM1114.08 1126.55h6.72v53.57h-6.72zM1121.90 1126.55h6.72v53.57h-6.72zM1129.72 1126.55h6.72v53.57h-6.72zM848.02 1181.22h6.72v53.57h-6.72zM855.85 1181.22h6.72v53.57h-6.72zM863.67 1181.22h6.72v53.57h-6.72zM871.50 1181.22h6.72v53.57h-6.72zM879.32 1181.22h6.72v53.57h-6.72zM887.15 1181.22h6.72v53.57h-6.72zM894.97 1181.22h6.72v53.57h-6.72zM902.80 1181.22h6.72v53.57h-6.72zM910.62 1181.22h6.72v53.57h-6.72zM918.45 1181.22h6.72v53.57h-6.72zM926.27 1181.22h6.72v53.57h-6.72zM934.10 1181.22h6.72v53.57h-6.72zM941.92 1181.22h6.72v53.57h-6.72zM949.75 1181.22h6.72v53.57h-6.72zM957.57 1181.22h6.72v53.57h-6.72zM965.40 1181.22h6.72v53.57h-6.72zM973.22 1181.22h6.72v53.57h-6.72zM981.05 1181.22h6.72v53.57h-6.72zM988.88 1181.22h6.72v53.57h-6.72zM996.70 1181.22h6.72v53.57h-6.72zM1004.52 1181.22h6.72v53.57h-6.72zM1012.35 1181.22h6.72v53.57h-6.72zM1020.17 1181.22h6.72v53.57h-6.72zM1028.00 1181.22h6.72v53.57h-6.72zM1035.83 1181.22h6.72v53.57h-6.72zM1043.65 1181.22h6.72v53.57h-6.72zM1051.47 1181.22h6.72v53.57h-6.72zM1059.30 1181.22h6.72v53.57h-6.72zM1067.12 1181.22h6.72v53.57h-6.72zM1074.95 1181.22h6.72v53.57h-6.72zM1082.77 1181.22h6.72v53.57h-6.72zM1090.60 1181.22h6.72v53.57h-6.72zM1098.42 1181.22h6.72v53.57h-6.72zM1106.25 1181.22h6.72v53.57h-6.72zM1114.08 1181.22h6.72v53.57h-6.72zM1121.90 1181.22h6.72v53.57h-6.72zM1129.72 1181.22h6.72v53.57h-6.72zM824.55 1235.88h6.72v53.57h-6.72zM832.38 1235.88h6.72v53.57h-6.72zM840.20 1235.88h6.72v53.57h-6.72zM848.02 1235.88h6.72v53.57h-6.72zM855.85 1235.88h6.72v53.57h-6.72zM887.15 1235.88h6.72v53.57h-6.72zM894.97 1235.88h6.72v53.57h-6.72zM902.80 1235.88h6.72v53.57h-6.72zM910.62 1235.88h6.72v53.57h-6.72zM918.45 1235.88h6.72v53.57h-6.72zM926.27 1235.88h6.72v53.57h-6.72zM934.10 1235.88h6.72v53.57h-6.72zM941.92 1235.88h6.72v53.57h-6.72zM949.75 1235.88h6.72v53.57h-6.72zM957.57 1235.88h6.72v53.57h-6.72zM965.40 1235.88h6.72v53.57h-6.72zM973.22 1235.88h6.72v53.57h-6.72zM981.05 1235.88h6.72v53.57h-6.72zM988.88 1235.88h6.72v53.57h-6.72zM996.70 1235.88h6.72v53.57h-6.72zM1004.52 1235.88h6.72v53.57h-6.72zM1012.35 1235.88h6.72v53.57h-6.72zM1020.17 1235.88h6.72v53.57h-6.72zM1028.00 1235.88h6.72v53.57h-6.72zM1035.83 1235.88h6.72v53.57h-6.72zM1043.65 1235.88h6.72v53.57h-6.72zM1051.47 1235.88h6.72v53.57h-6.72zM1059.30 1235.88h6.72v53.57h-6.72zM1067.12 1235.88h6.72v53.57h-6.72zM1074.95 1235.88h6.72v53.57h-6.72zM1082.77 1235.88h6.72v53.57h-6.72zM1090.60 1235.88h6.72v53.57h-6.72zM1098.42 1235.88h6.72v53.57h-6.72zM1106.25 1235.88h6.72v53.57h-6.72zM1114.08 1235.88h6.72v53.57h-6.72zM1121.90 1235.88h6.72v53.57h-6.72zM1129.72 1235.88h6.72v53.57h-6.72zM824.55 1290.55h6.72v53.57h-6.72zM832.38 1290.55h6.72v53.57h-6.72zM840.20 1290.55h6.72v53.57h-6.72zM848.02 1290.55h6.72v53.57h-6.72zM855.85 1290.55h6.72v53.57h-6.72zM863.67 1290.55h6.72v53.57h-6.72zM871.50 1290.55h6.72v53.57h-6.72zM879.32 1290.55h6.72v53.57h-6.72zM902.80 1290.55h6.72v53.57h-6.72zM910.62 1290.55h6.72v53.57h-6.72zM918.45 1290.55h6.72v53.57h-6.72zM926.27 1290.55h6.72v53.57h-6.72zM934.10 1290.55h6.72v53.57h-6.72zM941.92 1290.55h6.72v53.57h-6.72zM949.75 1290.55h6.72v53.57h-6.72zM957.57 1290.55h6.72v53.57h-6.72zM965.40 1290.55h6.72v53.57h-6.72zM973.22 1290.55h6.72v53.57h-6.72zM981.05 1290.55h6.72v53.57h-6.72zM988.88 1290.55h6.72v53.57h-6.72zM996.70 1290.55h6.72v53.57h-6.72zM1004.52 1290.55h6.72v53.57h-6.72zM1012.35 1290.55h6.72v53.57h-6.72zM1020.17 1290.55h6.72v53.57h-6.72zM1028.00 1290.55h6.72v53.57h-6.72zM1035.83 1290.55h6.72v53.57h-6.72zM1043.65 1290.55h6.72v53.57h-6.72zM1051.47 1290.55h6.72v53.57h-6.72zM1059.30 1290.55h6.72v53.57h-6.72zM1067.12 1290.55h6.72v53.57h-6.72zM1074.95 1290.55h6.72v53.57h-6.72zM1082.77 1290.55h6.72v53.57h-6.72zM1090.60 1290.55h6.72v53.57h-6.72zM1098.42 1290.55h6.72v53.57h-6.72zM1106.25 1290.55h6.72v53.57h-6.72zM1114.08 1290.55h6.72v53.57h-6.72zM1121.90 1290.55h6.72v53.57h-6.72zM1129.72 1290.55h6.72v53.57h-6.72zM824.55 1345.22h6.72v53.57h-6.72zM832.38 1345.22h6.72v53.57h-6.72zM840.20 1345.22h6.72v53.57h-6.72zM848.02 1345.22h6.72v53.57h-6.72zM855.85 1345.22h6.72v53.57h-6.72zM863.67 1345.22h6.72v53.57h-6.72zM871.50 1345.22h6.72v53.57h-6.72zM879.32 1345.22h6.72v53.57h-6.72zM887.15 1345.22h6.72v53.57h-6.72zM894.97 1345.22h6.72v53.57h-6.72zM918.45 1345.22h6.72v53.57h-6.72zM949.75 1345.22h6.72v53.57h-6.72zM957.57 1345.22h6.72v53.57h-6.72zM965.40 1345.22h6.72v53.57h-6.72zM981.05 1345.22h6.72v53.57h-6.72zM988.88 1345.22h6.72v53.57h-6.72zM1012.35 1345.22h6.72v53.57h-6.72zM1020.17 1345.22h6.72v53.57h-6.72zM1028.00 1345.22h6.72v53.57h-6.72zM1035.83 1345.22h6.72v53.57h-6.72zM1043.65 1345.22h6.72v53.57h-6.72zM1051.47 1345.22h6.72v53.57h-6.72zM1059.30 1345.22h6.72v53.57h-6.72zM1067.12 1345.22h6.72v53.57h-6.72zM1074.95 1345.22h6.72v53.57h-6.72zM1082.77 1345.22h6.72v53.57h-6.72zM1090.60 1345.22h6.72v53.57h-6.72zM1098.42 1345.22h6.72v53.57h-6.72zM1106.25 1345.22h6.72v53.57h-6.72zM1121.90 1345.22h6.72v53.57h-6.72zM1129.72 1345.22h6.72v53.57h-6.72zM824.55 1399.88h6.72v53.57h-6.72zM832.38 1399.88h6.72v53.57h-6.72zM840.20 1399.88h6.72v53.57h-6.72zM848.02 1399.88h6.72v53.57h-6.72zM855.85 1399.88h6.72v53.57h-6.72zM863.67 1399.88h6.72v53.57h-6.72zM871.50 1399.88h6.72v53.57h-6.72zM879.32 1399.88h6.72v53.57h-6.72zM887.15 1399.88h6.72v53.57h-6.72zM894.97 1399.88h6.72v53.57h-6.72zM918.45 1399.88h6.72v53.57h-6.72zM926.27 1399.88h6.72v53.57h-6.72zM949.75 1399.88h6.72v53.57h-6.72zM957.57 1399.88h6.72v53.57h-6.72zM965.40 1399.88h6.72v53.57h-6.72zM981.05 1399.88h6.72v53.57h-6.72zM988.88 1399.88h6.72v53.57h-6.72zM1004.52 1399.88h6.72v53.57h-6.72zM1012.35 1399.88h6.72v53.57h-6.72zM1020.17 1399.88h6.72v53.57h-6.72zM1028.00 1399.88h6.72v53.57h-6.72zM1035.83 1399.88h6.72v53.57h-6.72zM1043.65 1399.88h6.72v53.57h-6.72zM1051.47 1399.88h6.72v53.57h-6.72zM1059.30 1399.88h6.72v53.57h-6.72zM1067.12 1399.88h6.72v53.57h-6.72zM1074.95 1399.88h6.72v53.57h-6.72zM1082.77 1399.88h6.72v53.57h-6.72zM1090.60 1399.88h6.72v53.57h-6.72zM1098.42 1399.88h6.72v53.57h-6.72zM1106.25 1399.88h6.72v53.57h-6.72zM1114.08 1399.88h6.72v53.57h-6.72zM1121.90 1399.88h6.72v53.57h-6.72zM1129.72 1399.88h6.72v53.57h-6.72z" fill="#ededc2"/>
<rect x="824.55" y="1126.55" width="6.72" height="53.57" fill="#f0dc95"/>
<rect x="832.38" y="1126.55" width="6.72" height="53.57" fill="#f0dc95"/>
<rect x="840.20" y="1126.55" width="6.72" height="53.57" fill="#ee8a2e"/>
<rect x="863.67" y="1126.55" width="6.72" height="53.57" fill="#f0c576"/>
<rect x="887.15" y="1126.55" width="6.72" height="53.57" fill="#f0c576"/>
<rect x="894.97" y="1126.55" width="6.72" height="53.57" fill="#f0dc95"/>
<rect x="824.55" y="1181.22" width="6.72" height="53.57" fill="#e2662f"/>
<rect x="832.38" y="1181.22" width="6.72" height="53.57" fill="#f0dc95"/>
<rect x="840.20" y="1181.22" width="6.72" height="53.57" fill="#a02a42"/>
<rect x="863.67" y="1235.88" width="6.72" height="53.57" fill="#2a0418"/>
<rect x="871.50" y="1235.88" width="6.72" height="53.57" fill="#f0dc95"/>
<rect x="879.32" y="1235.88" width="6.72" height="53.57" fill="#f0c576"/>
<rect x="887.15" y="1290.55" width="6.72" height="53.57" fill="#6e0c34"/>
<rect x="894.97" y="1290.55" width="6.72" height="53.57" fill="#ee8a2e"/>
<rect x="902.80" y="1345.22" width="6.72" height="53.57" fill="#ebe7b0"/>
<rect x="910.62" y="1345.22" width="6.72" height="53.57" fill="#ee8a2e"/>
<rect x="926.27" y="1345.22" width="6.72" height="53.57" fill="#f0c576"/>
<rect x="934.10" y="1345.22" width="6.72" height="53.57" fill="#f0dc95"/>
<rect x="941.92" y="1345.22" width="6.72" height="53.57" fill="#f0dc95"/>
<rect x="973.22" y="1345.22" width="6.72" height="53.57" fill="#ebe7b0"/>
<rect x="996.70" y="1345.22" width="6.72" height="53.57" fill="#f0dc95"/>
<rect x="1004.52" y="1345.22" width="6.72" height="53.57" fill="#f0dc95"/>
<rect x="1114.08" y="1345.22" width="6.72" height="53.57" fill="#f0dc95"/>
<rect x="902.80" y="1399.88" width="6.72" height="53.57" fill="#f0c576"/>
<rect x="910.62" y="1399.88" width="6.72" height="53.57" fill="#ee8a2e"/>
<rect x="934.10" y="1399.88" width="6.72" height="53.57" fill="#ebe7b0"/>
<rect x="941.92" y="1399.88" width="6.72" height="53.57" fill="#f0dc95"/>
<rect x="973.22" y="1399.88" width="6.72" height="53.57" fill="#f0c576"/>
<rect x="996.70" y="1399.88" width="6.72" height="53.57" fill="#f0dc95"/>
<text x="1141.8" y="1157.6" font-size="6.5" class="rl" textLength="29.8" lengthAdjust="spacingAndGlyphs">Epithelial</text>
<text x="1141.8" y="1206.0" font-size="6.5" class="rl" textLength="25.7" lengthAdjust="spacingAndGlyphs">Luminal</text>
<text x="1141.8" y="1214.4" font-size="6.5" class="rl" textLength="33.9" lengthAdjust="spacingAndGlyphs">Progenitor</text>
<text x="1141.8" y="1260.7" font-size="6.5" class="rl" textLength="22.9" lengthAdjust="spacingAndGlyphs">Mature</text>
<text x="1141.8" y="1269.1" font-size="6.5" class="rl" textLength="25.7" lengthAdjust="spacingAndGlyphs">Luminal</text>
<text x="1141.8" y="1321.6" font-size="6.5" class="rl" textLength="18.4" lengthAdjust="spacingAndGlyphs">Basal</text>
<text x="1141.8" y="1376.3" font-size="6.5" class="rl" textLength="32.2" lengthAdjust="spacingAndGlyphs">Fibroblast</text>
<text x="1141.8" y="1431.0" font-size="6.5" class="rl" textLength="23.7" lengthAdjust="spacingAndGlyphs">Stroma</text>
<text transform="translate(830.2 1456.5) rotate(-90)" font-size="6.5" class="cl" textLength="23.3" lengthAdjust="spacingAndGlyphs">LASP1</text>
<text transform="translate(838.0 1456.5) rotate(-90)" font-size="6.5" class="cl" textLength="23.3" lengthAdjust="spacingAndGlyphs">LASP2</text>
<text transform="translate(845.9 1456.5) rotate(-90)" font-size="6.5" class="cl" textLength="23.3" lengthAdjust="spacingAndGlyphs">LASP3</text>
<text transform="translate(853.7 1456.5) rotate(-90)" font-size="6.5" class="cl" textLength="23.3" lengthAdjust="spacingAndGlyphs">LASP4</text>
<text transform="translate(861.5 1456.5) rotate(-90)" font-size="6.5" class="cl" textLength="23.3" lengthAdjust="spacingAndGlyphs">LASP5</text>
<text transform="translate(869.3 1456.5) rotate(-90)" font-size="6.5" class="cl" textLength="18.7" lengthAdjust="spacingAndGlyphs">LHS1</text>
<text transform="translate(877.2 1456.5) rotate(-90)" font-size="6.5" class="cl" textLength="18.7" lengthAdjust="spacingAndGlyphs">LHS2</text>
<text transform="translate(885.0 1456.5) rotate(-90)" font-size="6.5" class="cl" textLength="18.7" lengthAdjust="spacingAndGlyphs">LHS3</text>
<text transform="translate(892.8 1456.5) rotate(-90)" font-size="6.5" class="cl" textLength="26.2" lengthAdjust="spacingAndGlyphs">BMYO1</text>
<text transform="translate(900.6 1456.5) rotate(-90)" font-size="6.5" class="cl" textLength="26.2" lengthAdjust="spacingAndGlyphs">BMYO2</text>
<text transform="translate(908.5 1456.5) rotate(-90)" font-size="6.5" class="cl" textLength="13.7" lengthAdjust="spacingAndGlyphs">FB1</text>
<text transform="translate(916.3 1456.5) rotate(-90)" font-size="6.5" class="cl" textLength="13.7" lengthAdjust="spacingAndGlyphs">FB2</text>
<text transform="translate(924.1 1456.5) rotate(-90)" font-size="6.5" class="cl" textLength="13.7" lengthAdjust="spacingAndGlyphs">FB3</text>
<text transform="translate(931.9 1456.5) rotate(-90)" font-size="6.5" class="cl" textLength="13.7" lengthAdjust="spacingAndGlyphs">FB4</text>
<text transform="translate(939.8 1456.5) rotate(-90)" font-size="6.5" class="cl" textLength="14.1" lengthAdjust="spacingAndGlyphs">PV1</text>
<text transform="translate(947.6 1456.5) rotate(-90)" font-size="6.5" class="cl" textLength="14.1" lengthAdjust="spacingAndGlyphs">PV2</text>
<text transform="translate(955.4 1456.5) rotate(-90)" font-size="6.5" class="cl" textLength="14.1" lengthAdjust="spacingAndGlyphs">PV3</text>
<text transform="translate(963.2 1456.5) rotate(-90)" font-size="6.5" class="cl" textLength="14.1" lengthAdjust="spacingAndGlyphs">PV4</text>
<text transform="translate(971.1 1456.5) rotate(-90)" font-size="6.5" class="cl" textLength="14.1" lengthAdjust="spacingAndGlyphs">PV5</text>
<text transform="translate(978.9 1456.5) rotate(-90)" font-size="6.5" class="cl" textLength="15.0" lengthAdjust="spacingAndGlyphs">VEV</text>
<text transform="translate(986.7 1456.5) rotate(-90)" font-size="6.5" class="cl" textLength="15.4" lengthAdjust="spacingAndGlyphs">VEC</text>
<text transform="translate(994.5 1456.5) rotate(-90)" font-size="6.5" class="cl" textLength="15.0" lengthAdjust="spacingAndGlyphs">VEA</text>
<text transform="translate(1002.4 1456.5) rotate(-90)" font-size="6.5" class="cl" textLength="19.0" lengthAdjust="spacingAndGlyphs">VEAT</text>
<text transform="translate(1010.2 1456.5) rotate(-90)" font-size="6.5" class="cl" textLength="13.3" lengthAdjust="spacingAndGlyphs">LE1</text>
<text transform="translate(1018.0 1456.5) rotate(-90)" font-size="6.5" class="cl" textLength="13.3" lengthAdjust="spacingAndGlyphs">LE2</text>
<text transform="translate(1025.8 1456.5) rotate(-90)" font-size="6.5" class="cl" textLength="34.9" lengthAdjust="spacingAndGlyphs">CD4 naive</text>
<text transform="translate(1033.7 1456.5) rotate(-90)" font-size="6.5" class="cl" textLength="25.6" lengthAdjust="spacingAndGlyphs">CD4 Th</text>
<text transform="translate(1041.5 1456.5) rotate(-90)" font-size="6.5" class="cl" textLength="31.0" lengthAdjust="spacingAndGlyphs">CD8 Tem</text>
<text transform="translate(1049.3 1456.5) rotate(-90)" font-size="6.5" class="cl" textLength="29.9" lengthAdjust="spacingAndGlyphs">CD8 Trm</text>
<text transform="translate(1057.1 1456.5) rotate(-90)" font-size="6.5" class="cl" textLength="28.5" lengthAdjust="spacingAndGlyphs">CD8 Tc1</text>
<text transform="translate(1065.0 1456.5) rotate(-90)" font-size="6.5" class="cl" textLength="14.9" lengthAdjust="spacingAndGlyphs">NKT</text>
<text transform="translate(1072.8 1456.5) rotate(-90)" font-size="6.5" class="cl" textLength="10.4" lengthAdjust="spacingAndGlyphs">NK</text>
<text transform="translate(1080.6 1456.5) rotate(-90)" font-size="6.5" class="cl" textLength="11.6" lengthAdjust="spacingAndGlyphs">ILC</text>
<text transform="translate(1088.4 1456.5) rotate(-90)" font-size="6.5" class="cl" textLength="24.9" lengthAdjust="spacingAndGlyphs">B naive</text>
<text transform="translate(1096.3 1456.5) rotate(-90)" font-size="6.5" class="cl" textLength="54.8" lengthAdjust="spacingAndGlyphs">B mem switched</text>
<text transform="translate(1104.1 1456.5) rotate(-90)" font-size="6.5" class="cl" textLength="63.1" lengthAdjust="spacingAndGlyphs">B mem unswitched</text>
<text transform="translate(1111.9 1456.5) rotate(-90)" font-size="6.5" class="cl" textLength="38.2" lengthAdjust="spacingAndGlyphs">Plasma cell</text>
<text transform="translate(1119.7 1456.5) rotate(-90)" font-size="6.5" class="cl" textLength="20.8" lengthAdjust="spacingAndGlyphs">Macro</text>
<text transform="translate(1127.6 1456.5) rotate(-90)" font-size="6.5" class="cl" textLength="36.6" lengthAdjust="spacingAndGlyphs">Macro–lipo</text>
<text transform="translate(1135.4 1456.5) rotate(-90)" font-size="6.5" class="cl" textLength="10.8" lengthAdjust="spacingAndGlyphs">DC</text>
<text x="895.8" y="1116.5" class="ht" textLength="58.9" lengthAdjust="spacingAndGlyphs">Pal et al.</text><text x="956.2" y="1109.7" font-size="9.5" fill="#231f20" textLength="9.5" lengthAdjust="spacingAndGlyphs">18</text><text x="971.3" y="1116.5" class="ht" textLength="94.2" lengthAdjust="spacingAndGlyphs">label transfer</text>
<text transform="translate(1190.0 1272.9) rotate(90)" class="ol" textLength="73.8" lengthAdjust="spacingAndGlyphs">Original label</text>
<text x="911.0" y="1530.0" class="ml" textLength="139" lengthAdjust="spacingAndGlyphs">Mapped label (this study)</text>
</svg></body></html>
